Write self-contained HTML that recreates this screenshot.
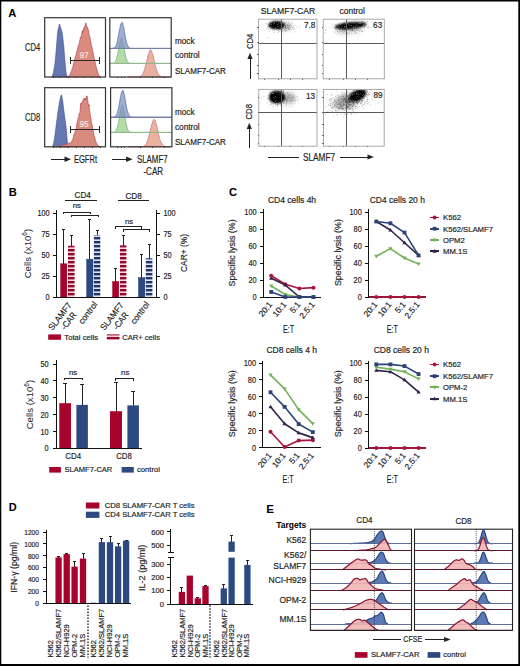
<!DOCTYPE html>
<html><head><meta charset="utf-8"><style>
html,body{margin:0;padding:0;background:#fff;}
svg{display:block;}
text{font-family:"Liberation Sans", sans-serif;}
</style></head><body>
<svg width="520" height="666" viewBox="0 0 520 666">
<defs>
<pattern id="stR" patternUnits="userSpaceOnUse" x="0" y="1" width="10" height="4"><rect width="10" height="4" fill="#fbd3da"/><rect y="0" width="10" height="2.4" fill="#8e0a2e"/></pattern>
<pattern id="stB" patternUnits="userSpaceOnUse" x="0" y="1" width="10" height="4"><rect width="10" height="4" fill="#dfe4f4"/><rect y="0" width="10" height="2.4" fill="#22336e"/></pattern>
<filter id="bl1" x="-50%" y="-50%" width="200%" height="200%"><feGaussianBlur stdDeviation="2.2"/></filter>
<filter id="bl2" x="-50%" y="-50%" width="200%" height="200%"><feGaussianBlur stdDeviation="1.2"/></filter>
<filter id="speck" x="0" y="0" width="100%" height="100%" filterUnits="objectBoundingBox"><feTurbulence type="fractalNoise" baseFrequency="1.1" numOctaves="1" seed="7" result="n"/><feColorMatrix in="n" type="matrix" values="0 0 0 0 1  0 0 0 0 1  0 0 0 0 1  0 0 0 3.2 -1.75"/></filter>
</defs>
<rect x="0" y="0" width="520" height="666" fill="#fff"/>
<text x="8.3" y="16.7" font-size="11.2" font-weight="bold" fill="#000">A</text>
<rect x="44.7" y="17.7" width="60.8" height="59.3" fill="#fff"/>
<path d="M51.5 77L51.66 76.77L51.87 76.52L52.12 76.19L52.41 75.7L52.7 75L53 74L53.31 72.71L53.64 71.19L53.99 69.44L54.34 67.48L54.68 65.33L55 63L55.3 60.35L55.58 57.33L55.86 54.12L56.12 50.89L56.37 47.79L56.6 45L56.81 42.46L57 40.04L57.17 37.75L57.34 35.63L57.51 33.7L57.7 32L57.91 30.55L58.14 29.33L58.38 28.31L58.6 27.44L58.82 26.69L59 26L59.15 25.38L59.28 24.85L59.39 24.44L59.49 24.15L59.59 24L59.7 24L59.81 24.19L59.9 24.56L59.99 25.06L60.1 25.67L60.23 26.33L60.4 27L60.61 27.62L60.87 28.22L61.14 28.88L61.43 29.67L61.72 30.68L62 32L62.27 33.65L62.54 35.56L62.81 37.69L63.07 40L63.34 42.45L63.6 45L63.86 47.8L64.12 50.93L64.38 54.19L64.63 57.41L64.87 60.41L65.1 63L65.3 65.2L65.49 67.15L65.66 68.88L65.83 70.41L66.01 71.77L66.2 73L66.42 74.06L66.67 74.93L66.92 75.62L67.16 76.19L67.36 76.63L67.5 77Z" fill="#6477b2" stroke="#3d4d86" stroke-width="0.6"/>
<path d="M66.5 77L66.8 76.9L67.22 76.81L67.72 76.67L68.26 76.45L68.8 76.07L69.3 75.5L69.77 74.76L70.22 73.92L70.68 72.92L71.16 71.75L71.66 70.35L72.2 69.12L72.79 67.54L73.43 64.02L74.09 62.86L74.76 59.1L75.44 56.86L76.1 55.06L76.77 51.44L77.47 49.91L78.17 46.31L78.84 44.65L79.46 42.31L80 39.58L80.45 37.1L80.84 37.58L81.18 36.39L81.48 34.62L81.75 33.14L82 33.31L82.22 33.08L82.39 31.14L82.53 32.91L82.67 30.53L82.82 31.47L83 31.35L83.22 30.93L83.47 30L83.73 28.32L83.99 29.36L84.25 27.87L84.5 27.17L84.75 27.09L85 25.8L85.25 26.06L85.49 25.25L85.71 24.29L85.9 22.87L86.05 23.58L86.16 24.27L86.25 24.24L86.34 25.29L86.45 26.37L86.6 25.79L86.78 26.45L86.98 27.87L87.2 27.4L87.44 27.94L87.71 27.7L88 28.95L88.32 31.21L88.68 30.96L89.06 34.64L89.46 35.69L89.87 36.78L90.3 40.24L90.74 41.59L91.2 45.02L91.68 46L92.17 48.32L92.68 51.33L93.2 53.1L93.75 56.98L94.33 58.72L94.93 61.61L95.52 64.19L96.09 66.81L96.6 67.88L97.07 70.35L97.51 71.75L97.92 72.92L98.3 73.92L98.66 74.76L99 75.5L99.32 76.07L99.62 76.45L99.9 76.67L100.14 76.81L100.35 76.9L100.5 77Z" fill="#d98b80" stroke="#b84552" stroke-width="0.7"/>
<line x1="70.7" y1="60.5" x2="99.2" y2="60.5" stroke="#2a2a2a" stroke-width="1" shape-rendering="crispEdges"/>
<line x1="70.5" y1="57" x2="70.5" y2="64" stroke="#2a2a2a" stroke-width="1" shape-rendering="crispEdges"/>
<line x1="99.5" y1="57" x2="99.5" y2="64" stroke="#2a2a2a" stroke-width="1" shape-rendering="crispEdges"/>
<text x="84.2" y="58.2" font-size="9" text-anchor="middle" fill="#f7eadc" stroke="#f7eadc" stroke-width="0.18" textLength="8.7" lengthAdjust="spacingAndGlyphs">97</text>
<rect x="44.7" y="17.7" width="60.8" height="59.3" fill="none" stroke="#333" stroke-width="1.2"/>
<line x1="53.5" y1="77" x2="53.5" y2="78.3" stroke="#333" stroke-width="1" shape-rendering="crispEdges"/>
<line x1="60.5" y1="77" x2="60.5" y2="78.3" stroke="#333" stroke-width="1" shape-rendering="crispEdges"/>
<line x1="68.5" y1="77" x2="68.5" y2="78.3" stroke="#333" stroke-width="1" shape-rendering="crispEdges"/>
<line x1="76.5" y1="77" x2="76.5" y2="78.3" stroke="#333" stroke-width="1" shape-rendering="crispEdges"/>
<line x1="84.5" y1="77" x2="84.5" y2="78.3" stroke="#333" stroke-width="1" shape-rendering="crispEdges"/>
<line x1="92.5" y1="77" x2="92.5" y2="78.3" stroke="#333" stroke-width="1" shape-rendering="crispEdges"/>
<line x1="100.5" y1="77" x2="100.5" y2="78.3" stroke="#333" stroke-width="1" shape-rendering="crispEdges"/>
<text x="40.2" y="51.35" font-size="10.4" text-anchor="end" fill="#1e1e1e" stroke="#1e1e1e" stroke-width="0.18" textLength="15.2" lengthAdjust="spacingAndGlyphs">CD4</text>
<rect x="44.7" y="87.7" width="60.8" height="59.1" fill="#fff"/>
<path d="M52.5 146.8L52.67 146.25L52.91 145.55L53.19 144.69L53.5 143.65L53.81 142.43L54.1 141L54.37 139.35L54.64 137.48L54.91 135.43L55.19 133.21L55.48 130.86L55.8 128.4L56.15 125.71L56.54 122.73L56.94 119.61L57.34 116.52L57.73 113.6L58.1 111L58.45 108.7L58.79 106.57L59.11 104.62L59.43 102.84L59.72 101.23L60 99.8L60.25 98.51L60.48 97.34L60.69 96.34L60.9 95.57L61.1 95.08L61.3 94.9L61.5 95.08L61.7 95.57L61.89 96.34L62.09 97.34L62.29 98.51L62.5 99.8L62.71 101.23L62.92 102.84L63.13 104.62L63.36 106.57L63.61 108.7L63.9 111L64.25 113.6L64.64 116.52L65.07 119.61L65.49 122.73L65.88 125.71L66.2 128.4L66.45 130.86L66.65 133.21L66.82 135.43L66.97 137.48L67.12 139.35L67.3 141L67.51 142.43L67.74 143.65L67.97 144.69L68.19 145.55L68.37 146.25L68.5 146.8Z" fill="#6477b2" stroke="#3d4d86" stroke-width="0.6"/>
<path d="M56 146.8L56.67 146.63L57.6 146.39L58.7 146.11L59.87 145.82L61 145.54L62 145.3L62.89 145.11L63.75 144.95L64.57 144.8L65.36 144.65L66.11 144.49L66.8 144.3L67.44 144.08L68.03 143.85L68.57 143.6L69.08 143.34L69.55 143.07L70 142.8L70.38 142.64L70.68 142.62L70.95 142.59L71.23 142.41L71.56 141.93L72 141L72.57 139.49L73.26 138.14L74 134.08L74.74 133.67L75.43 129.96L76 129.4L76.45 127.21L76.81 123.71L77.12 124L77.41 121.42L77.69 120.36L78 118.91L78.35 117.38L78.72 116.73L79.09 113.86L79.44 114.36L79.75 112.8L80 112.15L80.17 110.46L80.26 109.08L80.31 106.92L80.36 107.25L80.44 107.03L80.6 105.88L80.84 103.4L81.15 104.99L81.49 103.08L81.84 103.13L82.19 101.93L82.5 102.19L82.79 100.79L83.06 100.69L83.33 99.77L83.59 98.68L83.85 99.05L84.1 99.86L84.34 100.02L84.58 98.07L84.81 99.45L85.04 100.42L85.27 98.78L85.5 99.61L85.74 98.86L85.99 97.84L86.23 98.5L86.47 97.61L86.7 95.88L86.9 97.58L87.08 96.46L87.23 98.82L87.37 98.38L87.5 99.43L87.64 99.87L87.8 100.98L87.97 102.44L88.16 103.73L88.35 104.35L88.54 103.96L88.73 104.58L88.9 106.33L89.06 105.12L89.2 106.9L89.34 107.34L89.49 109.46L89.63 110.46L89.8 112.17L89.98 112.67L90.16 114.27L90.35 115.4L90.55 117.06L90.77 117.51L91 118.86L91.24 121.98L91.49 122.78L91.74 124.66L92.03 124.85L92.34 125.6L92.7 129.12L93.11 129.72L93.58 133.07L94.07 136.11L94.59 136.6L95.1 139.31L95.6 141L96.1 142.3L96.62 143.32L97.14 144.12L97.64 144.77L98.1 145.31L98.5 145.8L98.85 146.2L99.16 146.45L99.43 146.6L99.66 146.68L99.85 146.74L100 146.8Z" fill="#d98b80" stroke="#b84552" stroke-width="0.7"/>
<line x1="70.7" y1="129.5" x2="99.2" y2="129.5" stroke="#2a2a2a" stroke-width="1" shape-rendering="crispEdges"/>
<line x1="70.5" y1="125.9" x2="70.5" y2="132.9" stroke="#2a2a2a" stroke-width="1" shape-rendering="crispEdges"/>
<line x1="99.5" y1="125.9" x2="99.5" y2="132.9" stroke="#2a2a2a" stroke-width="1" shape-rendering="crispEdges"/>
<text x="84.2" y="127.4" font-size="9" text-anchor="middle" fill="#f7eadc" stroke="#f7eadc" stroke-width="0.18" textLength="8.7" lengthAdjust="spacingAndGlyphs">95</text>
<rect x="44.7" y="87.7" width="60.8" height="59.1" fill="none" stroke="#333" stroke-width="1.2"/>
<line x1="53.5" y1="146.8" x2="53.5" y2="148.1" stroke="#333" stroke-width="1" shape-rendering="crispEdges"/>
<line x1="60.5" y1="146.8" x2="60.5" y2="148.1" stroke="#333" stroke-width="1" shape-rendering="crispEdges"/>
<line x1="68.5" y1="146.8" x2="68.5" y2="148.1" stroke="#333" stroke-width="1" shape-rendering="crispEdges"/>
<line x1="76.5" y1="146.8" x2="76.5" y2="148.1" stroke="#333" stroke-width="1" shape-rendering="crispEdges"/>
<line x1="84.5" y1="146.8" x2="84.5" y2="148.1" stroke="#333" stroke-width="1" shape-rendering="crispEdges"/>
<line x1="92.5" y1="146.8" x2="92.5" y2="148.1" stroke="#333" stroke-width="1" shape-rendering="crispEdges"/>
<line x1="100.5" y1="146.8" x2="100.5" y2="148.1" stroke="#333" stroke-width="1" shape-rendering="crispEdges"/>
<text x="40.2" y="121.25" font-size="10.4" text-anchor="end" fill="#1e1e1e" stroke="#1e1e1e" stroke-width="0.18" textLength="15.2" lengthAdjust="spacingAndGlyphs">CD8</text>
<rect x="109.8" y="17.7" width="61.4" height="59.3" fill="#fff"/>
<path d="M128 77L128 77L128.5 77L129 77L129.5 77L130 77L130.5 77L131 77L131.5 77L132 77L132.5 77L133 77L133.5 77L134 77L134.5 77L135 77L135.5 76.99L136 76.99L136.5 76.98L137 76.96L137.5 76.94L138 76.91L138.5 76.86L139 76.78L139.5 76.67L140 76.51L140.5 76.28L141 75.86L141.5 75.69L142 74.91L142.5 74.41L143 73.55L143.5 72.03L144 71.13L144.5 69.68L145 67.74L145.5 65.67L146 63.98L146.5 61.55L147 59.95L147.5 57.51L148 55.48L148.5 54.06L149 52.61L149.5 51.51L150 50.07L150.5 49.79L151 50.11L151.5 50.64L152 52.52L152.5 53.45L153 55.16L153.5 57.02L154 59.9L154.5 61.94L155 64.7L155.5 66.21L156 68.62L156.5 70.05L157 70.9L157.5 72.91L158 73.35L158.5 74.31L159 75.09L159.5 75.53L160 75.94L160.5 76.2L161 76.51L161.5 76.67L162 76.78L162.5 76.86L163 76.91L163.5 76.94L164 76.96L164.5 76.98L165 76.99L165.5 76.99L166 77L166.5 77L167 77L167.5 77L168 77L168.5 77L169 77L169.5 77L170 77L170.5 77L170.5 77Z" fill="#e9a896" stroke="#c0707a" stroke-width="0.7" fill-opacity="0.9"/>
<path d="M110.3 63.4L110.3 63.39L110.8 63.39L111.3 63.38L111.8 63.36L112.3 63.31L112.8 63.24L113.3 63.12L113.8 62.93L114.3 62.61L114.8 62.1L115.3 61.51L115.8 60.45L116.3 59.07L116.8 57.49L117.3 55.19L117.8 53.39L118.3 50.5L118.8 47.96L119.3 45.27L119.8 42.58L120.3 40.4L120.8 38.94L121.3 38.31L121.8 37.88L122.3 39.51L122.8 42.23L123.3 43.89L123.8 46.83L124.3 49.57L124.8 51.78L125.3 54.68L125.8 57.2L126.3 58.55L126.8 60.07L127.3 61.25L127.8 61.99L128.3 62.5L128.8 62.82L129.3 63.06L129.8 63.2L130.3 63.29L130.8 63.34L131.3 63.37L131.8 63.39L132.3 63.39L132.8 63.4L133.3 63.4L133.8 63.4L134.3 63.4L134.8 63.4L135.3 63.4L135.8 63.4L136.3 63.4L136.8 63.4L137.3 63.4L137.8 63.4L138.3 63.4L138.8 63.4L139.3 63.4L139.8 63.4L140.3 63.4L140.8 63.4L141.3 63.4L141.8 63.4L142.3 63.4L142.8 63.4L143.3 63.4L143.8 63.4L144.3 63.4L144.8 63.4L145.3 63.4L145.8 63.4L146.3 63.4L146.8 63.4L147.3 63.4L147.8 63.4L148.3 63.4L148.8 63.4L149.3 63.4L149.8 63.4L150.3 63.4L150.8 63.4L151.3 63.4L151.8 63.4L152.3 63.4L152.8 63.4L153.3 63.4L153.8 63.4L154.3 63.4L154.8 63.4L155.3 63.4L155.8 63.4L156.3 63.4L156.8 63.4L157.3 63.4L157.8 63.4L158.3 63.4L158.8 63.4L159.3 63.4L159.8 63.4L160.3 63.4L160.8 63.4L161.3 63.4L161.8 63.4L162.3 63.4L162.8 63.4L163.3 63.4L163.8 63.4L164.3 63.4L164.8 63.4L165.3 63.4L165.8 63.4L166.3 63.4L166.8 63.4L167.3 63.4L167.8 63.4L168.3 63.4L168.8 63.4L169.3 63.4L169.8 63.4L170.3 63.4L170.8 63.4L170.7 63.4Z" fill="#a6d69a" stroke="#7aa872" stroke-width="0.7" fill-opacity="0.85"/>
<line x1="109.8" y1="63.5" x2="171.2" y2="63.5" stroke="#8fb98a" stroke-width="1" shape-rendering="crispEdges"/>
<path d="M110.3 48.4L110.3 48.39L110.8 48.39L111.3 48.38L111.8 48.36L112.3 48.32L112.8 48.25L113.3 48.14L113.8 47.96L114.3 47.76L114.8 47.36L115.3 46.57L115.8 46.08L116.3 44.65L116.8 43.54L117.3 41.02L117.8 38.98L118.3 36.12L118.8 33.91L119.3 30.81L119.8 28.36L120.3 26.16L120.8 23.95L121.3 23.32L121.8 22.54L122.3 22.53L122.8 23.98L123.3 26.03L123.8 27.47L124.3 30.93L124.8 33.93L125.3 36.45L125.8 39.16L126.3 41.34L126.8 43.19L127.3 44.31L127.8 45.78L128.3 46.62L128.8 47.2L129.3 47.54L129.8 47.96L130.3 48.14L130.8 48.25L131.3 48.32L131.8 48.36L132.3 48.38L132.8 48.39L133.3 48.39L133.8 48.4L134.3 48.4L134.8 48.4L135.3 48.4L135.8 48.4L136.3 48.4L136.8 48.4L137.3 48.4L137.8 48.4L138.3 48.4L138.8 48.4L139.3 48.4L139.8 48.4L140.3 48.4L140.8 48.4L141.3 48.4L141.8 48.4L142.3 48.4L142.8 48.4L143.3 48.4L143.8 48.4L144.3 48.4L144.8 48.4L145.3 48.4L145.8 48.4L146.3 48.4L146.8 48.4L147.3 48.4L147.8 48.4L148.3 48.4L148.8 48.4L149.3 48.4L149.8 48.4L150.3 48.4L150.8 48.4L151.3 48.4L151.8 48.4L152.3 48.4L152.8 48.4L153.3 48.4L153.8 48.4L154.3 48.4L154.8 48.4L155.3 48.4L155.8 48.4L156.3 48.4L156.8 48.4L157.3 48.4L157.8 48.4L158.3 48.4L158.8 48.4L159.3 48.4L159.8 48.4L160.3 48.4L160.8 48.4L161.3 48.4L161.8 48.4L162.3 48.4L162.8 48.4L163.3 48.4L163.8 48.4L164.3 48.4L164.8 48.4L165.3 48.4L165.8 48.4L166.3 48.4L166.8 48.4L167.3 48.4L167.8 48.4L168.3 48.4L168.8 48.4L169.3 48.4L169.8 48.4L170.3 48.4L170.8 48.4L170.7 48.4Z" fill="#7d8fc2" stroke="#56679a" stroke-width="0.7" fill-opacity="0.72"/>
<line x1="109.8" y1="48.5" x2="171.2" y2="48.5" stroke="#76819f" stroke-width="1" shape-rendering="crispEdges"/>
<rect x="109.8" y="17.7" width="61.4" height="59.3" fill="none" stroke="#333" stroke-width="1.2"/>
<line x1="117.5" y1="77" x2="117.5" y2="78.3" stroke="#333" stroke-width="1" shape-rendering="crispEdges"/>
<line x1="121.5" y1="77" x2="121.5" y2="78.3" stroke="#333" stroke-width="1" shape-rendering="crispEdges"/>
<line x1="124.5" y1="77" x2="124.5" y2="78.3" stroke="#333" stroke-width="1" shape-rendering="crispEdges"/>
<line x1="140.5" y1="77" x2="140.5" y2="78.3" stroke="#333" stroke-width="1" shape-rendering="crispEdges"/>
<line x1="152.5" y1="77" x2="152.5" y2="78.3" stroke="#333" stroke-width="1" shape-rendering="crispEdges"/>
<line x1="164.5" y1="77" x2="164.5" y2="78.3" stroke="#333" stroke-width="1" shape-rendering="crispEdges"/>
<text x="175" y="44" font-size="8.2" fill="#1e1e1e" stroke="#1e1e1e" stroke-width="0.18">mock</text>
<text x="175" y="58" font-size="8.2" fill="#1e1e1e" stroke="#1e1e1e" stroke-width="0.18">control</text>
<text x="175" y="74.4" font-size="8.2" fill="#1e1e1e" stroke="#1e1e1e" stroke-width="0.18" textLength="50.9" lengthAdjust="spacingAndGlyphs">SLAMF7-CAR</text>
<rect x="110.6" y="87.7" width="61.3" height="59.1" fill="#fff"/>
<path d="M128 146.8L128 146.8L128.5 146.8L129 146.8L129.5 146.8L130 146.8L130.5 146.8L131 146.8L131.5 146.8L132 146.8L132.5 146.8L133 146.8L133.5 146.8L134 146.8L134.5 146.8L135 146.8L135.5 146.8L136 146.8L136.5 146.8L137 146.8L137.5 146.8L138 146.8L138.5 146.8L139 146.79L139.5 146.79L140 146.78L140.5 146.76L141 146.74L141.5 146.71L142 146.66L142.5 146.58L143 146.47L143.5 146.31L144 146.08L144.5 145.66L145 145.48L145.5 144.7L146 144.19L146.5 143.32L147 141.8L147.5 140.88L148 139.43L148.5 137.47L149 135.39L149.5 133.69L150 131.24L150.5 129.63L151 127.17L151.5 125.12L152 123.69L152.5 122.23L153 121.12L153.5 119.67L154 119.39L154.5 119.72L155 120.25L155.5 122.14L156 123.08L156.5 124.8L157 126.67L157.5 129.57L158 131.63L158.5 134.4L159 135.93L159.5 138.35L160 139.8L160.5 140.66L161 142.68L161.5 143.13L162 144.09L162.5 144.88L163 145.32L163.5 145.73L164 146L164.5 146.31L165 146.47L165.5 146.58L166 146.66L166.5 146.71L167 146.74L167.5 146.76L168 146.78L168.5 146.79L169 146.79L169.5 146.8L170 146.8L170.5 146.8L170.5 146.8Z" fill="#e9a896" stroke="#c0707a" stroke-width="0.7" fill-opacity="0.9"/>
<path d="M111.1 132.4L111.1 132.39L111.6 132.39L112.1 132.38L112.6 132.35L113.1 132.31L113.6 132.23L114.1 132.11L114.6 131.9L115.1 131.53L115.6 131.11L116.1 130.3L116.6 129.2L117.1 127.9L117.6 125.9L118.1 124.27L118.6 121.53L119.1 118.95L119.6 116.05L120.1 112.96L120.6 110.17L121.1 107.94L121.6 106.44L122.1 105.1L122.6 105.94L123.1 108.06L123.6 109.24L124.1 112.02L124.6 114.79L125.1 117.17L125.6 120.51L126.1 123.57L126.6 125.34L127.1 127.37L127.6 129L128.1 130.09L128.6 130.87L129.1 131.39L129.6 131.81L130.1 132.03L130.6 132.19L131.1 132.28L131.6 132.34L132.1 132.37L132.6 132.38L133.1 132.39L133.6 132.4L134.1 132.4L134.6 132.4L135.1 132.4L135.6 132.4L136.1 132.4L136.6 132.4L137.1 132.4L137.6 132.4L138.1 132.4L138.6 132.4L139.1 132.4L139.6 132.4L140.1 132.4L140.6 132.4L141.1 132.4L141.6 132.4L142.1 132.4L142.6 132.4L143.1 132.4L143.6 132.4L144.1 132.4L144.6 132.4L145.1 132.4L145.6 132.4L146.1 132.4L146.6 132.4L147.1 132.4L147.6 132.4L148.1 132.4L148.6 132.4L149.1 132.4L149.6 132.4L150.1 132.4L150.6 132.4L151.1 132.4L151.6 132.4L152.1 132.4L152.6 132.4L153.1 132.4L153.6 132.4L154.1 132.4L154.6 132.4L155.1 132.4L155.6 132.4L156.1 132.4L156.6 132.4L157.1 132.4L157.6 132.4L158.1 132.4L158.6 132.4L159.1 132.4L159.6 132.4L160.1 132.4L160.6 132.4L161.1 132.4L161.6 132.4L162.1 132.4L162.6 132.4L163.1 132.4L163.6 132.4L164.1 132.4L164.6 132.4L165.1 132.4L165.6 132.4L166.1 132.4L166.6 132.4L167.1 132.4L167.6 132.4L168.1 132.4L168.6 132.4L169.1 132.4L169.6 132.4L170.1 132.4L170.6 132.4L171.1 132.4L171.6 132.4L171.4 132.4Z" fill="#a6d69a" stroke="#7aa872" stroke-width="0.7" fill-opacity="0.85"/>
<line x1="110.6" y1="132.5" x2="171.9" y2="132.5" stroke="#8fb98a" stroke-width="1" shape-rendering="crispEdges"/>
<path d="M111.1 117.2L111.1 117.19L111.6 117.19L112.1 117.18L112.6 117.15L113.1 117.11L113.6 117.05L114.1 116.93L114.6 116.75L115.1 116.54L115.6 116.12L116.1 115.31L116.6 114.79L117.1 113.32L117.6 112.16L118.1 109.57L118.6 107.45L119.1 104.5L119.6 102.2L120.1 99.01L120.6 96.46L121.1 94.18L121.6 91.9L122.1 91.24L122.6 90.45L123.1 90.44L123.6 91.94L124.1 94.05L124.6 95.56L125.1 99.12L125.6 102.23L126.1 104.84L126.6 107.63L127.1 109.89L127.6 111.8L128.1 112.97L128.6 114.49L129.1 115.36L129.6 115.96L130.1 116.32L130.6 116.75L131.1 116.93L131.6 117.05L132.1 117.11L132.6 117.15L133.1 117.18L133.6 117.19L134.1 117.19L134.6 117.2L135.1 117.2L135.6 117.2L136.1 117.2L136.6 117.2L137.1 117.2L137.6 117.2L138.1 117.2L138.6 117.2L139.1 117.2L139.6 117.2L140.1 117.2L140.6 117.2L141.1 117.2L141.6 117.2L142.1 117.2L142.6 117.2L143.1 117.2L143.6 117.2L144.1 117.2L144.6 117.2L145.1 117.2L145.6 117.2L146.1 117.2L146.6 117.2L147.1 117.2L147.6 117.2L148.1 117.2L148.6 117.2L149.1 117.2L149.6 117.2L150.1 117.2L150.6 117.2L151.1 117.2L151.6 117.2L152.1 117.2L152.6 117.2L153.1 117.2L153.6 117.2L154.1 117.2L154.6 117.2L155.1 117.2L155.6 117.2L156.1 117.2L156.6 117.2L157.1 117.2L157.6 117.2L158.1 117.2L158.6 117.2L159.1 117.2L159.6 117.2L160.1 117.2L160.6 117.2L161.1 117.2L161.6 117.2L162.1 117.2L162.6 117.2L163.1 117.2L163.6 117.2L164.1 117.2L164.6 117.2L165.1 117.2L165.6 117.2L166.1 117.2L166.6 117.2L167.1 117.2L167.6 117.2L168.1 117.2L168.6 117.2L169.1 117.2L169.6 117.2L170.1 117.2L170.6 117.2L171.1 117.2L171.6 117.2L171.4 117.2Z" fill="#7d8fc2" stroke="#56679a" stroke-width="0.7" fill-opacity="0.72"/>
<line x1="110.6" y1="117.5" x2="171.9" y2="117.5" stroke="#76819f" stroke-width="1" shape-rendering="crispEdges"/>
<rect x="110.6" y="87.7" width="61.3" height="59.1" fill="none" stroke="#333" stroke-width="1.2"/>
<line x1="117.5" y1="146.8" x2="117.5" y2="148.1" stroke="#333" stroke-width="1" shape-rendering="crispEdges"/>
<line x1="121.5" y1="146.8" x2="121.5" y2="148.1" stroke="#333" stroke-width="1" shape-rendering="crispEdges"/>
<line x1="124.5" y1="146.8" x2="124.5" y2="148.1" stroke="#333" stroke-width="1" shape-rendering="crispEdges"/>
<line x1="140.5" y1="146.8" x2="140.5" y2="148.1" stroke="#333" stroke-width="1" shape-rendering="crispEdges"/>
<line x1="152.5" y1="146.8" x2="152.5" y2="148.1" stroke="#333" stroke-width="1" shape-rendering="crispEdges"/>
<line x1="164.5" y1="146.8" x2="164.5" y2="148.1" stroke="#333" stroke-width="1" shape-rendering="crispEdges"/>
<text x="175" y="115.1" font-size="8.2" fill="#1e1e1e" stroke="#1e1e1e" stroke-width="0.18">mock</text>
<text x="175" y="129.6" font-size="8.2" fill="#1e1e1e" stroke="#1e1e1e" stroke-width="0.18">control</text>
<text x="175" y="145.4" font-size="8.2" fill="#1e1e1e" stroke="#1e1e1e" stroke-width="0.18" textLength="50.9" lengthAdjust="spacingAndGlyphs">SLAMF7-CAR</text>
<line x1="51.3" y1="159.5" x2="65" y2="159.5" stroke="#222" stroke-width="1" shape-rendering="crispEdges"/>
<path d="M71 159.3L64.5 156.5L64.5 162.1Z" fill="#222"/>
<text x="73.9" y="162.5" font-size="10" fill="#1e1e1e" stroke="#1e1e1e" stroke-width="0.18" textLength="23.1" lengthAdjust="spacingAndGlyphs">EGFRt</text>
<line x1="112.3" y1="159.5" x2="126.6" y2="159.5" stroke="#222" stroke-width="1" shape-rendering="crispEdges"/>
<path d="M132.6 159.3L126.1 156.5L126.1 162.1Z" fill="#222"/>
<text x="136.9" y="163" font-size="10" fill="#1e1e1e" stroke="#1e1e1e" stroke-width="0.18" textLength="30.8" lengthAdjust="spacingAndGlyphs">SLAMF7</text>
<text x="143.4" y="174.6" font-size="10" fill="#1e1e1e" stroke="#1e1e1e" stroke-width="0.18" textLength="19.7" lengthAdjust="spacingAndGlyphs">-CAR</text>
<clipPath id="cp11"><rect x="258.6" y="19.2" width="58.4" height="59.6"/></clipPath>
<clipPath id="cp12"><rect x="323.2" y="19.2" width="61.1" height="59.6"/></clipPath>
<clipPath id="cp13"><rect x="258.8" y="89.4" width="58.2" height="56.8"/></clipPath>
<clipPath id="cp14"><rect x="323.5" y="89.4" width="60.7" height="56.8"/></clipPath>
<text x="288" y="14.1" font-size="8.8" text-anchor="middle" fill="#1e1e1e" stroke="#1e1e1e" stroke-width="0.18" textLength="54.5" lengthAdjust="spacingAndGlyphs">SLAMF7-CAR</text>
<text x="352.2" y="14.2" font-size="8.8" text-anchor="middle" fill="#1e1e1e" stroke="#1e1e1e" stroke-width="0.18" textLength="25.4" lengthAdjust="spacingAndGlyphs">control</text>
<rect x="258.6" y="19.2" width="58.4" height="59.6" fill="#fff"/>
<g clip-path="url(#cp11)">
<ellipse cx="285" cy="26.5" rx="6.5" ry="3.8" fill="#000" fill-opacity="0.3" filter="url(#bl1)" transform="rotate(0 285 26.5)"/>
<ellipse cx="276.6" cy="25.2" rx="8" ry="4.1" fill="#000" fill-opacity="1" filter="url(#bl2)" transform="rotate(0 276.6 25.2)"/>
<ellipse cx="274.5" cy="25.2" rx="5" ry="3" fill="#000" fill-opacity="0.6" filter="url(#bl2)" transform="rotate(0 274.5 25.2)"/>
<rect x="270.04" y="27.21" width="0.8" height="0.8" fill="#000" fill-opacity="0.35"/>
<rect x="284.47" y="24.36" width="0.8" height="0.8" fill="#000" fill-opacity="0.35"/>
<rect x="269.36" y="25.79" width="0.8" height="0.8" fill="#000" fill-opacity="0.35"/>
<rect x="281.11" y="29.51" width="0.8" height="0.8" fill="#000" fill-opacity="0.35"/>
<rect x="270.1" y="21.86" width="0.8" height="0.8" fill="#000" fill-opacity="0.35"/>
<rect x="282.59" y="27.52" width="0.8" height="0.8" fill="#000" fill-opacity="0.35"/>
<rect x="287.97" y="29.14" width="0.8" height="0.8" fill="#000" fill-opacity="0.35"/>
<rect x="277.34" y="25.12" width="0.8" height="0.8" fill="#000" fill-opacity="0.35"/>
<rect x="294.71" y="25.08" width="0.8" height="0.8" fill="#000" fill-opacity="0.35"/>
<rect x="272.9" y="22.36" width="0.8" height="0.8" fill="#000" fill-opacity="0.35"/>
<rect x="278.62" y="26.47" width="0.8" height="0.8" fill="#000" fill-opacity="0.35"/>
<rect x="275.76" y="25.8" width="0.8" height="0.8" fill="#000" fill-opacity="0.35"/>
<rect x="279.78" y="28.22" width="0.8" height="0.8" fill="#000" fill-opacity="0.35"/>
<rect x="285.13" y="26.67" width="0.8" height="0.8" fill="#000" fill-opacity="0.35"/>
<rect x="266.37" y="28.25" width="0.8" height="0.8" fill="#000" fill-opacity="0.35"/>
<rect x="268.77" y="25.45" width="0.8" height="0.8" fill="#000" fill-opacity="0.35"/>
<rect x="268.42" y="26.01" width="0.8" height="0.8" fill="#000" fill-opacity="0.35"/>
<rect x="272.94" y="26.68" width="0.8" height="0.8" fill="#000" fill-opacity="0.35"/>
<rect x="299.45" y="25.84" width="0.8" height="0.8" fill="#000" fill-opacity="0.35"/>
<rect x="283.48" y="21.77" width="0.8" height="0.8" fill="#000" fill-opacity="0.35"/>
<rect x="276.13" y="28.12" width="0.8" height="0.8" fill="#000" fill-opacity="0.35"/>
<rect x="277.4" y="27.18" width="0.8" height="0.8" fill="#000" fill-opacity="0.35"/>
<rect x="278.67" y="22.78" width="0.8" height="0.8" fill="#000" fill-opacity="0.35"/>
<rect x="281.66" y="23.4" width="0.8" height="0.8" fill="#000" fill-opacity="0.35"/>
<rect x="290.17" y="24.38" width="0.8" height="0.8" fill="#000" fill-opacity="0.35"/>
<rect x="282.46" y="26.01" width="0.8" height="0.8" fill="#000" fill-opacity="0.35"/>
<rect x="284.19" y="24.07" width="0.8" height="0.8" fill="#000" fill-opacity="0.35"/>
<rect x="284.49" y="25.6" width="0.8" height="0.8" fill="#000" fill-opacity="0.35"/>
<rect x="286.21" y="28" width="0.8" height="0.8" fill="#000" fill-opacity="0.35"/>
<rect x="278.92" y="23.5" width="0.8" height="0.8" fill="#000" fill-opacity="0.35"/>
<rect x="282.99" y="27.5" width="0.8" height="0.8" fill="#000" fill-opacity="0.35"/>
<rect x="288.67" y="24.79" width="0.8" height="0.8" fill="#000" fill-opacity="0.35"/>
<rect x="281.61" y="27.63" width="0.8" height="0.8" fill="#000" fill-opacity="0.35"/>
<rect x="279.84" y="26.67" width="0.8" height="0.8" fill="#000" fill-opacity="0.35"/>
<rect x="279.18" y="24.09" width="0.8" height="0.8" fill="#000" fill-opacity="0.35"/>
<rect x="271.41" y="24.73" width="0.8" height="0.8" fill="#000" fill-opacity="0.35"/>
<rect x="281.84" y="30.84" width="0.8" height="0.8" fill="#000" fill-opacity="0.35"/>
<rect x="284.35" y="29.37" width="0.8" height="0.8" fill="#000" fill-opacity="0.35"/>
<rect x="283.05" y="28.24" width="0.8" height="0.8" fill="#000" fill-opacity="0.35"/>
<rect x="279.19" y="28.47" width="0.8" height="0.8" fill="#000" fill-opacity="0.35"/>
<rect x="289.53" y="24.95" width="0.8" height="0.8" fill="#000" fill-opacity="0.35"/>
<rect x="273.49" y="32.27" width="0.8" height="0.8" fill="#000" fill-opacity="0.35"/>
<rect x="279.59" y="29.11" width="0.8" height="0.8" fill="#000" fill-opacity="0.35"/>
<rect x="283.68" y="22.37" width="0.8" height="0.8" fill="#000" fill-opacity="0.35"/>
<rect x="293.82" y="31.68" width="0.8" height="0.8" fill="#000" fill-opacity="0.35"/>
<rect x="279.15" y="28.41" width="0.8" height="0.8" fill="#000" fill-opacity="0.35"/>
<rect x="278.82" y="23.17" width="0.8" height="0.8" fill="#000" fill-opacity="0.35"/>
<rect x="277.27" y="27.2" width="0.8" height="0.8" fill="#000" fill-opacity="0.35"/>
<rect x="285.25" y="28.27" width="0.8" height="0.8" fill="#000" fill-opacity="0.35"/>
<rect x="278.39" y="30.34" width="0.8" height="0.8" fill="#000" fill-opacity="0.35"/>
<rect x="273.06" y="28.54" width="0.8" height="0.8" fill="#000" fill-opacity="0.35"/>
<rect x="285.23" y="25.07" width="0.8" height="0.8" fill="#000" fill-opacity="0.35"/>
<rect x="266.36" y="23.1" width="0.8" height="0.8" fill="#000" fill-opacity="0.35"/>
<rect x="279.54" y="27.69" width="0.8" height="0.8" fill="#000" fill-opacity="0.35"/>
<rect x="288.06" y="22.79" width="0.8" height="0.8" fill="#000" fill-opacity="0.35"/>
<rect x="278.01" y="28.08" width="0.8" height="0.8" fill="#000" fill-opacity="0.35"/>
<rect x="283.24" y="33.4" width="0.8" height="0.8" fill="#000" fill-opacity="0.35"/>
<rect x="284.53" y="23.06" width="0.8" height="0.8" fill="#000" fill-opacity="0.35"/>
<rect x="275.32" y="26.71" width="0.8" height="0.8" fill="#000" fill-opacity="0.35"/>
<rect x="294.18" y="27.98" width="0.8" height="0.8" fill="#000" fill-opacity="0.35"/>
<rect x="278.74" y="30.98" width="0.8" height="0.8" fill="#000" fill-opacity="0.35"/>
<rect x="277.47" y="31.96" width="0.8" height="0.8" fill="#000" fill-opacity="0.35"/>
<rect x="273.55" y="24.48" width="0.8" height="0.8" fill="#000" fill-opacity="0.35"/>
<rect x="282.69" y="30.56" width="0.8" height="0.8" fill="#000" fill-opacity="0.35"/>
<rect x="282.25" y="26.97" width="0.8" height="0.8" fill="#000" fill-opacity="0.35"/>
<rect x="266.16" y="23.72" width="0.8" height="0.8" fill="#000" fill-opacity="0.35"/>
<rect x="274.03" y="24.29" width="0.8" height="0.8" fill="#000" fill-opacity="0.35"/>
<rect x="281.81" y="24.93" width="0.8" height="0.8" fill="#000" fill-opacity="0.35"/>
<rect x="283.12" y="26.26" width="0.8" height="0.8" fill="#000" fill-opacity="0.35"/>
<rect x="275.84" y="26.38" width="0.8" height="0.8" fill="#000" fill-opacity="0.35"/>
<rect x="280.79" y="28.75" width="0.8" height="0.8" fill="#000" fill-opacity="0.35"/>
<rect x="274.9" y="25.26" width="0.8" height="0.8" fill="#000" fill-opacity="0.35"/>
<rect x="269.14" y="31.13" width="0.8" height="0.8" fill="#000" fill-opacity="0.35"/>
<rect x="287.44" y="25.43" width="0.8" height="0.8" fill="#000" fill-opacity="0.35"/>
<rect x="274.89" y="22.05" width="0.8" height="0.8" fill="#000" fill-opacity="0.35"/>
<rect x="279.1" y="26.66" width="0.8" height="0.8" fill="#000" fill-opacity="0.35"/>
<rect x="292.18" y="26.79" width="0.8" height="0.8" fill="#000" fill-opacity="0.35"/>
<rect x="287.16" y="26.61" width="0.8" height="0.8" fill="#000" fill-opacity="0.35"/>
<rect x="267.54" y="26.58" width="0.8" height="0.8" fill="#000" fill-opacity="0.35"/>
<rect x="267.54" y="37.14" width="0.8" height="0.8" fill="#000" fill-opacity="0.35"/>
<rect x="285.27" y="27.83" width="0.8" height="0.8" fill="#000" fill-opacity="0.35"/>
<rect x="277.18" y="21.03" width="0.8" height="0.8" fill="#000" fill-opacity="0.35"/>
<rect x="272.1" y="29.9" width="0.8" height="0.8" fill="#000" fill-opacity="0.35"/>
<rect x="288.69" y="22.22" width="0.8" height="0.8" fill="#000" fill-opacity="0.35"/>
<rect x="268.03" y="28.81" width="0.8" height="0.8" fill="#000" fill-opacity="0.35"/>
<rect x="283.55" y="22.84" width="0.8" height="0.8" fill="#000" fill-opacity="0.35"/>
<rect x="285.22" y="25.47" width="0.8" height="0.8" fill="#000" fill-opacity="0.25"/>
<rect x="283.24" y="25.5" width="0.8" height="0.8" fill="#000" fill-opacity="0.25"/>
<rect x="293" y="28.52" width="0.8" height="0.8" fill="#000" fill-opacity="0.25"/>
<rect x="296.23" y="26.81" width="0.8" height="0.8" fill="#000" fill-opacity="0.25"/>
<rect x="287.46" y="24.84" width="0.8" height="0.8" fill="#000" fill-opacity="0.25"/>
<rect x="287.5" y="24.11" width="0.8" height="0.8" fill="#000" fill-opacity="0.25"/>
<rect x="280.89" y="28.53" width="0.8" height="0.8" fill="#000" fill-opacity="0.25"/>
<rect x="293.76" y="28.84" width="0.8" height="0.8" fill="#000" fill-opacity="0.25"/>
<rect x="293.33" y="27.56" width="0.8" height="0.8" fill="#000" fill-opacity="0.25"/>
<rect x="285.13" y="27.19" width="0.8" height="0.8" fill="#000" fill-opacity="0.25"/>
<rect x="286.5" y="24.55" width="0.8" height="0.8" fill="#000" fill-opacity="0.25"/>
<rect x="281.23" y="23.74" width="0.8" height="0.8" fill="#000" fill-opacity="0.25"/>
<rect x="287.98" y="27.33" width="0.8" height="0.8" fill="#000" fill-opacity="0.25"/>
<rect x="286.1" y="30.14" width="0.8" height="0.8" fill="#000" fill-opacity="0.25"/>
<rect x="288.72" y="28.28" width="0.8" height="0.8" fill="#000" fill-opacity="0.25"/>
<rect x="292.87" y="25.2" width="0.8" height="0.8" fill="#000" fill-opacity="0.25"/>
<rect x="280.12" y="28.66" width="0.8" height="0.8" fill="#000" fill-opacity="0.25"/>
<rect x="285.25" y="29.88" width="0.8" height="0.8" fill="#000" fill-opacity="0.25"/>
<rect x="289.35" y="29.21" width="0.8" height="0.8" fill="#000" fill-opacity="0.25"/>
<rect x="291.05" y="22.42" width="0.8" height="0.8" fill="#000" fill-opacity="0.25"/>
<rect x="290.88" y="25.52" width="0.8" height="0.8" fill="#000" fill-opacity="0.25"/>
<rect x="284.98" y="26.04" width="0.8" height="0.8" fill="#000" fill-opacity="0.25"/>
<rect x="291.07" y="28.95" width="0.8" height="0.8" fill="#000" fill-opacity="0.25"/>
<rect x="292.05" y="23.35" width="0.8" height="0.8" fill="#000" fill-opacity="0.25"/>
<rect x="285.64" y="21.77" width="0.8" height="0.8" fill="#000" fill-opacity="0.25"/>
<rect x="287.59" y="28.32" width="0.8" height="0.8" fill="#000" fill-opacity="0.25"/>
<rect x="284.94" y="27.54" width="0.8" height="0.8" fill="#000" fill-opacity="0.25"/>
<rect x="288.93" y="29.22" width="0.8" height="0.8" fill="#000" fill-opacity="0.25"/>
<rect x="284.71" y="25.18" width="0.8" height="0.8" fill="#000" fill-opacity="0.25"/>
<rect x="284.95" y="30.86" width="0.8" height="0.8" fill="#000" fill-opacity="0.25"/>
<rect x="292.36" y="26.73" width="0.8" height="0.8" fill="#000" fill-opacity="0.25"/>
<rect x="288.9" y="27.25" width="0.8" height="0.8" fill="#000" fill-opacity="0.25"/>
<rect x="288.81" y="26.54" width="0.8" height="0.8" fill="#000" fill-opacity="0.25"/>
<rect x="286.66" y="24.24" width="0.8" height="0.8" fill="#000" fill-opacity="0.25"/>
<rect x="285.43" y="30.63" width="0.8" height="0.8" fill="#000" fill-opacity="0.25"/>
<rect x="290.15" y="27.14" width="0.8" height="0.8" fill="#000" fill-opacity="0.25"/>
<rect x="287.14" y="27.14" width="0.8" height="0.8" fill="#000" fill-opacity="0.25"/>
<rect x="289.41" y="25.58" width="0.8" height="0.8" fill="#000" fill-opacity="0.25"/>
<rect x="288.79" y="27.53" width="0.8" height="0.8" fill="#000" fill-opacity="0.25"/>
<rect x="285.01" y="25.26" width="0.8" height="0.8" fill="#000" fill-opacity="0.25"/>
<rect x="258.6" y="19.2" width="58.4" height="59.6" fill="#fff" filter="url(#speck)" opacity="0.55"/>
</g>
<line x1="281.5" y1="19.2" x2="281.5" y2="78.8" stroke="#5a5a5a" stroke-width="1" shape-rendering="crispEdges"/>
<line x1="258.6" y1="43.5" x2="317" y2="43.5" stroke="#5a5a5a" stroke-width="1" shape-rendering="crispEdges"/>
<rect x="258.6" y="19.2" width="58.4" height="59.6" fill="none" stroke="#a0a0a0" stroke-width="0.9"/>
<line x1="257.4" y1="27.5" x2="258.6" y2="27.5" stroke="#666" stroke-width="1" shape-rendering="crispEdges"/>
<line x1="257.4" y1="42.5" x2="258.6" y2="42.5" stroke="#666" stroke-width="1" shape-rendering="crispEdges"/>
<line x1="257.4" y1="54.5" x2="258.6" y2="54.5" stroke="#666" stroke-width="1" shape-rendering="crispEdges"/>
<line x1="257.4" y1="65.5" x2="258.6" y2="65.5" stroke="#666" stroke-width="1" shape-rendering="crispEdges"/>
<line x1="257.4" y1="73.5" x2="258.6" y2="73.5" stroke="#666" stroke-width="1" shape-rendering="crispEdges"/>
<line x1="264.5" y1="78.8" x2="264.5" y2="80" stroke="#666" stroke-width="1" shape-rendering="crispEdges"/>
<line x1="278.5" y1="78.8" x2="278.5" y2="80" stroke="#666" stroke-width="1" shape-rendering="crispEdges"/>
<line x1="290.5" y1="78.8" x2="290.5" y2="80" stroke="#666" stroke-width="1" shape-rendering="crispEdges"/>
<line x1="302.5" y1="78.8" x2="302.5" y2="80" stroke="#666" stroke-width="1" shape-rendering="crispEdges"/>
<text x="315.3" y="28" font-size="8.2" text-anchor="end" fill="#1e1e1e" stroke="#1e1e1e" stroke-width="0.18">7.8</text>
<rect x="323.2" y="19.2" width="61.1" height="59.6" fill="#fff"/>
<g clip-path="url(#cp12)">
<ellipse cx="348" cy="29.5" rx="13" ry="4" fill="#000" fill-opacity="0.16" filter="url(#bl1)" transform="rotate(-3 348 29.5)"/>
<ellipse cx="350.8" cy="25.5" rx="16" ry="3.2" fill="#000" fill-opacity="1" filter="url(#bl2)" transform="rotate(-5 350.8 25.5)"/>
<ellipse cx="345" cy="26.5" rx="8" ry="2.5" fill="#000" fill-opacity="0.5" filter="url(#bl2)" transform="rotate(-4 345 26.5)"/>
<rect x="335.66" y="28.46" width="0.8" height="0.8" fill="#000" fill-opacity="0.35"/>
<rect x="347.1" y="25.31" width="0.8" height="0.8" fill="#000" fill-opacity="0.35"/>
<rect x="359.65" y="25.85" width="0.8" height="0.8" fill="#000" fill-opacity="0.35"/>
<rect x="347.74" y="32.13" width="0.8" height="0.8" fill="#000" fill-opacity="0.35"/>
<rect x="344.74" y="23.16" width="0.8" height="0.8" fill="#000" fill-opacity="0.35"/>
<rect x="336.17" y="26.13" width="0.8" height="0.8" fill="#000" fill-opacity="0.35"/>
<rect x="356.78" y="28.47" width="0.8" height="0.8" fill="#000" fill-opacity="0.35"/>
<rect x="361.83" y="31.04" width="0.8" height="0.8" fill="#000" fill-opacity="0.35"/>
<rect x="367.34" y="26.99" width="0.8" height="0.8" fill="#000" fill-opacity="0.35"/>
<rect x="363.72" y="27.37" width="0.8" height="0.8" fill="#000" fill-opacity="0.35"/>
<rect x="344.95" y="29.56" width="0.8" height="0.8" fill="#000" fill-opacity="0.35"/>
<rect x="351.02" y="25.92" width="0.8" height="0.8" fill="#000" fill-opacity="0.35"/>
<rect x="370.74" y="27.18" width="0.8" height="0.8" fill="#000" fill-opacity="0.35"/>
<rect x="345.65" y="26.81" width="0.8" height="0.8" fill="#000" fill-opacity="0.35"/>
<rect x="373.99" y="23.81" width="0.8" height="0.8" fill="#000" fill-opacity="0.35"/>
<rect x="358.12" y="27.84" width="0.8" height="0.8" fill="#000" fill-opacity="0.35"/>
<rect x="355.87" y="27.94" width="0.8" height="0.8" fill="#000" fill-opacity="0.35"/>
<rect x="345.59" y="25.64" width="0.8" height="0.8" fill="#000" fill-opacity="0.35"/>
<rect x="348.86" y="25.68" width="0.8" height="0.8" fill="#000" fill-opacity="0.35"/>
<rect x="359.13" y="30.58" width="0.8" height="0.8" fill="#000" fill-opacity="0.35"/>
<rect x="341.74" y="29.06" width="0.8" height="0.8" fill="#000" fill-opacity="0.35"/>
<rect x="340.49" y="25.39" width="0.8" height="0.8" fill="#000" fill-opacity="0.35"/>
<rect x="348.19" y="27.16" width="0.8" height="0.8" fill="#000" fill-opacity="0.35"/>
<rect x="364.48" y="24.57" width="0.8" height="0.8" fill="#000" fill-opacity="0.35"/>
<rect x="344.33" y="29.24" width="0.8" height="0.8" fill="#000" fill-opacity="0.35"/>
<rect x="344.16" y="22.82" width="0.8" height="0.8" fill="#000" fill-opacity="0.35"/>
<rect x="355.63" y="27.45" width="0.8" height="0.8" fill="#000" fill-opacity="0.35"/>
<rect x="342.45" y="29.89" width="0.8" height="0.8" fill="#000" fill-opacity="0.35"/>
<rect x="354.04" y="22.85" width="0.8" height="0.8" fill="#000" fill-opacity="0.35"/>
<rect x="368.32" y="25.88" width="0.8" height="0.8" fill="#000" fill-opacity="0.35"/>
<rect x="339.22" y="28.99" width="0.8" height="0.8" fill="#000" fill-opacity="0.35"/>
<rect x="352.1" y="29.45" width="0.8" height="0.8" fill="#000" fill-opacity="0.35"/>
<rect x="337.21" y="30.96" width="0.8" height="0.8" fill="#000" fill-opacity="0.35"/>
<rect x="360.26" y="27.89" width="0.8" height="0.8" fill="#000" fill-opacity="0.35"/>
<rect x="357.08" y="30.06" width="0.8" height="0.8" fill="#000" fill-opacity="0.35"/>
<rect x="357.85" y="26.37" width="0.8" height="0.8" fill="#000" fill-opacity="0.35"/>
<rect x="342.4" y="30.72" width="0.8" height="0.8" fill="#000" fill-opacity="0.35"/>
<rect x="360.55" y="26.65" width="0.8" height="0.8" fill="#000" fill-opacity="0.35"/>
<rect x="352.28" y="28.67" width="0.8" height="0.8" fill="#000" fill-opacity="0.35"/>
<rect x="325.22" y="29.8" width="0.8" height="0.8" fill="#000" fill-opacity="0.35"/>
<rect x="325.37" y="29.55" width="0.8" height="0.8" fill="#000" fill-opacity="0.35"/>
<rect x="361.72" y="31.42" width="0.8" height="0.8" fill="#000" fill-opacity="0.35"/>
<rect x="345.89" y="28.33" width="0.8" height="0.8" fill="#000" fill-opacity="0.35"/>
<rect x="357.88" y="25.91" width="0.8" height="0.8" fill="#000" fill-opacity="0.35"/>
<rect x="350.94" y="23.69" width="0.8" height="0.8" fill="#000" fill-opacity="0.35"/>
<rect x="350.1" y="26.89" width="0.8" height="0.8" fill="#000" fill-opacity="0.35"/>
<rect x="363.5" y="26.36" width="0.8" height="0.8" fill="#000" fill-opacity="0.35"/>
<rect x="347.81" y="26.68" width="0.8" height="0.8" fill="#000" fill-opacity="0.35"/>
<rect x="342.71" y="31.9" width="0.8" height="0.8" fill="#000" fill-opacity="0.35"/>
<rect x="356.68" y="22.17" width="0.8" height="0.8" fill="#000" fill-opacity="0.35"/>
<rect x="351.88" y="29.99" width="0.8" height="0.8" fill="#000" fill-opacity="0.35"/>
<rect x="336.2" y="28.31" width="0.8" height="0.8" fill="#000" fill-opacity="0.35"/>
<rect x="348.71" y="33.88" width="0.8" height="0.8" fill="#000" fill-opacity="0.35"/>
<rect x="354.57" y="25" width="0.8" height="0.8" fill="#000" fill-opacity="0.35"/>
<rect x="345.32" y="32.82" width="0.8" height="0.8" fill="#000" fill-opacity="0.35"/>
<rect x="346.39" y="33.93" width="0.8" height="0.8" fill="#000" fill-opacity="0.35"/>
<rect x="334.66" y="27.4" width="0.8" height="0.8" fill="#000" fill-opacity="0.35"/>
<rect x="347.88" y="24.68" width="0.8" height="0.8" fill="#000" fill-opacity="0.35"/>
<rect x="348.53" y="28.88" width="0.8" height="0.8" fill="#000" fill-opacity="0.35"/>
<rect x="343.39" y="22.84" width="0.8" height="0.8" fill="#000" fill-opacity="0.35"/>
<rect x="364.46" y="29.86" width="0.8" height="0.8" fill="#000" fill-opacity="0.35"/>
<rect x="343.6" y="28.13" width="0.8" height="0.8" fill="#000" fill-opacity="0.35"/>
<rect x="324.78" y="32.03" width="0.8" height="0.8" fill="#000" fill-opacity="0.35"/>
<rect x="336.89" y="26.1" width="0.8" height="0.8" fill="#000" fill-opacity="0.35"/>
<rect x="372" y="20.86" width="0.8" height="0.8" fill="#000" fill-opacity="0.35"/>
<rect x="350.41" y="23.34" width="0.8" height="0.8" fill="#000" fill-opacity="0.35"/>
<rect x="331.5" y="24.7" width="0.8" height="0.8" fill="#000" fill-opacity="0.35"/>
<rect x="352.87" y="22.4" width="0.8" height="0.8" fill="#000" fill-opacity="0.35"/>
<rect x="344.71" y="29.32" width="0.8" height="0.8" fill="#000" fill-opacity="0.35"/>
<rect x="348.52" y="22.77" width="0.8" height="0.8" fill="#000" fill-opacity="0.35"/>
<rect x="365.63" y="25.64" width="0.8" height="0.8" fill="#000" fill-opacity="0.35"/>
<rect x="364.39" y="22.18" width="0.8" height="0.8" fill="#000" fill-opacity="0.35"/>
<rect x="367.16" y="21.03" width="0.8" height="0.8" fill="#000" fill-opacity="0.35"/>
<rect x="332.74" y="26.85" width="0.8" height="0.8" fill="#000" fill-opacity="0.35"/>
<rect x="346.79" y="27.72" width="0.8" height="0.8" fill="#000" fill-opacity="0.35"/>
<rect x="344.98" y="29.02" width="0.8" height="0.8" fill="#000" fill-opacity="0.35"/>
<rect x="363.78" y="23.44" width="0.8" height="0.8" fill="#000" fill-opacity="0.35"/>
<rect x="336.48" y="26.6" width="0.8" height="0.8" fill="#000" fill-opacity="0.35"/>
<rect x="358.95" y="28.34" width="0.8" height="0.8" fill="#000" fill-opacity="0.35"/>
<rect x="346.71" y="23.92" width="0.8" height="0.8" fill="#000" fill-opacity="0.35"/>
<rect x="350.54" y="29.53" width="0.8" height="0.8" fill="#000" fill-opacity="0.35"/>
<rect x="343.6" y="31.16" width="0.8" height="0.8" fill="#000" fill-opacity="0.35"/>
<rect x="352.82" y="27.27" width="0.8" height="0.8" fill="#000" fill-opacity="0.35"/>
<rect x="344.49" y="31.27" width="0.8" height="0.8" fill="#000" fill-opacity="0.35"/>
<rect x="350.5" y="22.04" width="0.8" height="0.8" fill="#000" fill-opacity="0.35"/>
<rect x="358.62" y="24.6" width="0.8" height="0.8" fill="#000" fill-opacity="0.35"/>
<rect x="361.38" y="26.15" width="0.8" height="0.8" fill="#000" fill-opacity="0.35"/>
<rect x="344.18" y="27.67" width="0.8" height="0.8" fill="#000" fill-opacity="0.35"/>
<rect x="345.28" y="24.52" width="0.8" height="0.8" fill="#000" fill-opacity="0.35"/>
<rect x="350.88" y="29.1" width="0.8" height="0.8" fill="#000" fill-opacity="0.35"/>
<rect x="351.15" y="26.27" width="0.8" height="0.8" fill="#000" fill-opacity="0.35"/>
<rect x="345.01" y="28.81" width="0.8" height="0.8" fill="#000" fill-opacity="0.35"/>
<rect x="353.46" y="29.25" width="0.8" height="0.8" fill="#000" fill-opacity="0.35"/>
<rect x="354.71" y="32.72" width="0.8" height="0.8" fill="#000" fill-opacity="0.35"/>
<rect x="334.58" y="27.82" width="0.8" height="0.8" fill="#000" fill-opacity="0.35"/>
<rect x="356.08" y="28.84" width="0.8" height="0.8" fill="#000" fill-opacity="0.35"/>
<rect x="334.66" y="24.25" width="0.8" height="0.8" fill="#000" fill-opacity="0.35"/>
<rect x="350.3" y="29.82" width="0.8" height="0.8" fill="#000" fill-opacity="0.35"/>
<rect x="361.12" y="21.03" width="0.8" height="0.8" fill="#000" fill-opacity="0.35"/>
<rect x="352.07" y="30.02" width="0.8" height="0.8" fill="#000" fill-opacity="0.35"/>
<rect x="350.45" y="23.45" width="0.8" height="0.8" fill="#000" fill-opacity="0.35"/>
<rect x="342.85" y="23.19" width="0.8" height="0.8" fill="#000" fill-opacity="0.35"/>
<rect x="362.41" y="24.75" width="0.8" height="0.8" fill="#000" fill-opacity="0.35"/>
<rect x="345.88" y="24.32" width="0.8" height="0.8" fill="#000" fill-opacity="0.35"/>
<rect x="348.79" y="23.97" width="0.8" height="0.8" fill="#000" fill-opacity="0.35"/>
<rect x="340.57" y="27.33" width="0.8" height="0.8" fill="#000" fill-opacity="0.35"/>
<rect x="348.24" y="28.18" width="0.8" height="0.8" fill="#000" fill-opacity="0.35"/>
<rect x="352.23" y="30.04" width="0.8" height="0.8" fill="#000" fill-opacity="0.35"/>
<rect x="350.04" y="27.42" width="0.8" height="0.8" fill="#000" fill-opacity="0.35"/>
<rect x="352.5" y="23.95" width="0.8" height="0.8" fill="#000" fill-opacity="0.35"/>
<rect x="362.26" y="23.84" width="0.8" height="0.8" fill="#000" fill-opacity="0.35"/>
<rect x="334.82" y="31.76" width="0.8" height="0.8" fill="#000" fill-opacity="0.35"/>
<rect x="356.86" y="24.31" width="0.8" height="0.8" fill="#000" fill-opacity="0.35"/>
<rect x="360.29" y="28.66" width="0.8" height="0.8" fill="#000" fill-opacity="0.35"/>
<rect x="357.2" y="22.43" width="0.8" height="0.8" fill="#000" fill-opacity="0.35"/>
<rect x="351.94" y="23.3" width="0.8" height="0.8" fill="#000" fill-opacity="0.35"/>
<rect x="344.11" y="25.43" width="0.8" height="0.8" fill="#000" fill-opacity="0.35"/>
<rect x="342.02" y="28.82" width="0.8" height="0.8" fill="#000" fill-opacity="0.35"/>
<rect x="342.64" y="29.16" width="0.8" height="0.8" fill="#000" fill-opacity="0.35"/>
<rect x="351.99" y="24.61" width="0.8" height="0.8" fill="#000" fill-opacity="0.35"/>
<rect x="352.32" y="28.51" width="0.8" height="0.8" fill="#000" fill-opacity="0.35"/>
<rect x="361.86" y="24.8" width="0.8" height="0.8" fill="#000" fill-opacity="0.35"/>
<rect x="368.05" y="26.79" width="0.8" height="0.8" fill="#000" fill-opacity="0.35"/>
<rect x="362.6" y="21.41" width="0.8" height="0.8" fill="#000" fill-opacity="0.35"/>
<rect x="340.08" y="31.17" width="0.8" height="0.8" fill="#000" fill-opacity="0.35"/>
<rect x="348.28" y="28.19" width="0.8" height="0.8" fill="#000" fill-opacity="0.35"/>
<rect x="362.12" y="21.17" width="0.8" height="0.8" fill="#000" fill-opacity="0.35"/>
<rect x="355.47" y="32.04" width="0.8" height="0.8" fill="#000" fill-opacity="0.35"/>
<rect x="358.49" y="26.16" width="0.8" height="0.8" fill="#000" fill-opacity="0.35"/>
<rect x="356.09" y="26.12" width="0.8" height="0.8" fill="#000" fill-opacity="0.35"/>
<rect x="358.55" y="29.84" width="0.8" height="0.8" fill="#000" fill-opacity="0.35"/>
<rect x="348.3" y="28.52" width="0.8" height="0.8" fill="#000" fill-opacity="0.35"/>
<rect x="353.67" y="28.56" width="0.8" height="0.8" fill="#000" fill-opacity="0.35"/>
<rect x="358.55" y="22.62" width="0.8" height="0.8" fill="#000" fill-opacity="0.35"/>
<rect x="362.36" y="28.16" width="0.8" height="0.8" fill="#000" fill-opacity="0.35"/>
<rect x="339.35" y="26.69" width="0.8" height="0.8" fill="#000" fill-opacity="0.35"/>
<rect x="335.69" y="27" width="0.8" height="0.8" fill="#000" fill-opacity="0.35"/>
<rect x="350.34" y="28.18" width="0.8" height="0.8" fill="#000" fill-opacity="0.18"/>
<rect x="340.35" y="28.89" width="0.8" height="0.8" fill="#000" fill-opacity="0.18"/>
<rect x="341.06" y="29.15" width="0.8" height="0.8" fill="#000" fill-opacity="0.18"/>
<rect x="337.66" y="32.54" width="0.8" height="0.8" fill="#000" fill-opacity="0.18"/>
<rect x="345.41" y="29.03" width="0.8" height="0.8" fill="#000" fill-opacity="0.18"/>
<rect x="356.32" y="29.68" width="0.8" height="0.8" fill="#000" fill-opacity="0.18"/>
<rect x="355.48" y="27.98" width="0.8" height="0.8" fill="#000" fill-opacity="0.18"/>
<rect x="360.12" y="29.97" width="0.8" height="0.8" fill="#000" fill-opacity="0.18"/>
<rect x="338.77" y="32.13" width="0.8" height="0.8" fill="#000" fill-opacity="0.18"/>
<rect x="335.25" y="28.38" width="0.8" height="0.8" fill="#000" fill-opacity="0.18"/>
<rect x="349.51" y="29.88" width="0.8" height="0.8" fill="#000" fill-opacity="0.18"/>
<rect x="350.98" y="31.46" width="0.8" height="0.8" fill="#000" fill-opacity="0.18"/>
<rect x="349.65" y="31.43" width="0.8" height="0.8" fill="#000" fill-opacity="0.18"/>
<rect x="353.81" y="31.1" width="0.8" height="0.8" fill="#000" fill-opacity="0.18"/>
<rect x="357.37" y="33.48" width="0.8" height="0.8" fill="#000" fill-opacity="0.18"/>
<rect x="329.55" y="26.68" width="0.8" height="0.8" fill="#000" fill-opacity="0.18"/>
<rect x="361.46" y="29.98" width="0.8" height="0.8" fill="#000" fill-opacity="0.18"/>
<rect x="349.04" y="30.81" width="0.8" height="0.8" fill="#000" fill-opacity="0.18"/>
<rect x="349.84" y="36.65" width="0.8" height="0.8" fill="#000" fill-opacity="0.18"/>
<rect x="340.95" y="31.26" width="0.8" height="0.8" fill="#000" fill-opacity="0.18"/>
<rect x="347.4" y="28.38" width="0.8" height="0.8" fill="#000" fill-opacity="0.18"/>
<rect x="339.44" y="30.42" width="0.8" height="0.8" fill="#000" fill-opacity="0.18"/>
<rect x="347.2" y="32.07" width="0.8" height="0.8" fill="#000" fill-opacity="0.18"/>
<rect x="329.59" y="27.16" width="0.8" height="0.8" fill="#000" fill-opacity="0.18"/>
<rect x="362.27" y="30.65" width="0.8" height="0.8" fill="#000" fill-opacity="0.18"/>
<rect x="354.8" y="30.04" width="0.8" height="0.8" fill="#000" fill-opacity="0.18"/>
<rect x="340.92" y="36.41" width="0.8" height="0.8" fill="#000" fill-opacity="0.18"/>
<rect x="336.18" y="28.81" width="0.8" height="0.8" fill="#000" fill-opacity="0.18"/>
<rect x="353.46" y="31.14" width="0.8" height="0.8" fill="#000" fill-opacity="0.18"/>
<rect x="332.5" y="31.45" width="0.8" height="0.8" fill="#000" fill-opacity="0.18"/>
<rect x="353.94" y="27.26" width="0.8" height="0.8" fill="#000" fill-opacity="0.18"/>
<rect x="342.29" y="33.07" width="0.8" height="0.8" fill="#000" fill-opacity="0.18"/>
<rect x="364.64" y="25.25" width="0.8" height="0.8" fill="#000" fill-opacity="0.18"/>
<rect x="341.1" y="31.15" width="0.8" height="0.8" fill="#000" fill-opacity="0.18"/>
<rect x="339.09" y="28.82" width="0.8" height="0.8" fill="#000" fill-opacity="0.18"/>
<rect x="342.79" y="32.38" width="0.8" height="0.8" fill="#000" fill-opacity="0.18"/>
<rect x="337.69" y="33.27" width="0.8" height="0.8" fill="#000" fill-opacity="0.18"/>
<rect x="354.85" y="33.23" width="0.8" height="0.8" fill="#000" fill-opacity="0.18"/>
<rect x="361.21" y="29.78" width="0.8" height="0.8" fill="#000" fill-opacity="0.18"/>
<rect x="346.87" y="33.6" width="0.8" height="0.8" fill="#000" fill-opacity="0.18"/>
<rect x="358.77" y="33.45" width="0.8" height="0.8" fill="#000" fill-opacity="0.18"/>
<rect x="343.25" y="29.87" width="0.8" height="0.8" fill="#000" fill-opacity="0.18"/>
<rect x="335.43" y="30" width="0.8" height="0.8" fill="#000" fill-opacity="0.18"/>
<rect x="339.24" y="29.86" width="0.8" height="0.8" fill="#000" fill-opacity="0.18"/>
<rect x="343.91" y="33.18" width="0.8" height="0.8" fill="#000" fill-opacity="0.18"/>
<rect x="355.06" y="30.97" width="0.8" height="0.8" fill="#000" fill-opacity="0.18"/>
<rect x="337.01" y="30.96" width="0.8" height="0.8" fill="#000" fill-opacity="0.18"/>
<rect x="351.23" y="33.24" width="0.8" height="0.8" fill="#000" fill-opacity="0.18"/>
<rect x="349.22" y="33.12" width="0.8" height="0.8" fill="#000" fill-opacity="0.18"/>
<rect x="341.39" y="32.72" width="0.8" height="0.8" fill="#000" fill-opacity="0.18"/>
<rect x="353.99" y="30.2" width="0.8" height="0.8" fill="#000" fill-opacity="0.18"/>
<rect x="340.48" y="34.18" width="0.8" height="0.8" fill="#000" fill-opacity="0.18"/>
<rect x="338.34" y="32.81" width="0.8" height="0.8" fill="#000" fill-opacity="0.18"/>
<rect x="344.89" y="30.22" width="0.8" height="0.8" fill="#000" fill-opacity="0.18"/>
<rect x="345.03" y="29.98" width="0.8" height="0.8" fill="#000" fill-opacity="0.18"/>
<rect x="346.98" y="35.55" width="0.8" height="0.8" fill="#000" fill-opacity="0.18"/>
<rect x="360.44" y="30.75" width="0.8" height="0.8" fill="#000" fill-opacity="0.18"/>
<rect x="351.57" y="33.37" width="0.8" height="0.8" fill="#000" fill-opacity="0.18"/>
<rect x="343.48" y="35.7" width="0.8" height="0.8" fill="#000" fill-opacity="0.18"/>
<rect x="347.63" y="32.64" width="0.8" height="0.8" fill="#000" fill-opacity="0.18"/>
<rect x="323.2" y="19.2" width="61.1" height="59.6" fill="#fff" filter="url(#speck)" opacity="0.55"/>
</g>
<line x1="346.5" y1="19.2" x2="346.5" y2="78.8" stroke="#5a5a5a" stroke-width="1" shape-rendering="crispEdges"/>
<line x1="323.2" y1="43.5" x2="384.3" y2="43.5" stroke="#5a5a5a" stroke-width="1" shape-rendering="crispEdges"/>
<rect x="323.2" y="19.2" width="61.1" height="59.6" fill="none" stroke="#a0a0a0" stroke-width="0.9"/>
<line x1="322" y1="27.5" x2="323.2" y2="27.5" stroke="#666" stroke-width="1" shape-rendering="crispEdges"/>
<line x1="322" y1="42.5" x2="323.2" y2="42.5" stroke="#666" stroke-width="1" shape-rendering="crispEdges"/>
<line x1="322" y1="54.5" x2="323.2" y2="54.5" stroke="#666" stroke-width="1" shape-rendering="crispEdges"/>
<line x1="322" y1="65.5" x2="323.2" y2="65.5" stroke="#666" stroke-width="1" shape-rendering="crispEdges"/>
<line x1="322" y1="73.5" x2="323.2" y2="73.5" stroke="#666" stroke-width="1" shape-rendering="crispEdges"/>
<line x1="329.5" y1="78.8" x2="329.5" y2="80" stroke="#666" stroke-width="1" shape-rendering="crispEdges"/>
<line x1="343.5" y1="78.8" x2="343.5" y2="80" stroke="#666" stroke-width="1" shape-rendering="crispEdges"/>
<line x1="355.5" y1="78.8" x2="355.5" y2="80" stroke="#666" stroke-width="1" shape-rendering="crispEdges"/>
<line x1="367.5" y1="78.8" x2="367.5" y2="80" stroke="#666" stroke-width="1" shape-rendering="crispEdges"/>
<text x="382.2" y="28.2" font-size="8.2" text-anchor="end" fill="#1e1e1e" stroke="#1e1e1e" stroke-width="0.18">63</text>
<rect x="258.8" y="89.4" width="58.2" height="56.8" fill="#fff"/>
<g clip-path="url(#cp13)">
<ellipse cx="288" cy="98" rx="7.5" ry="5.5" fill="#000" fill-opacity="0.3" filter="url(#bl1)" transform="rotate(0 288 98)"/>
<ellipse cx="277" cy="97" rx="8.2" ry="6.6" fill="#000" fill-opacity="1" filter="url(#bl2)" transform="rotate(0 277 97)"/>
<ellipse cx="276" cy="98" rx="4.5" ry="4" fill="#000" fill-opacity="0.5" filter="url(#bl2)" transform="rotate(0 276 98)"/>
<rect x="277.44" y="104.33" width="0.8" height="0.8" fill="#000" fill-opacity="0.35"/>
<rect x="279.85" y="100.5" width="0.8" height="0.8" fill="#000" fill-opacity="0.35"/>
<rect x="280.8" y="100.07" width="0.8" height="0.8" fill="#000" fill-opacity="0.35"/>
<rect x="277.66" y="95.13" width="0.8" height="0.8" fill="#000" fill-opacity="0.35"/>
<rect x="273.58" y="96.89" width="0.8" height="0.8" fill="#000" fill-opacity="0.35"/>
<rect x="276.09" y="102.1" width="0.8" height="0.8" fill="#000" fill-opacity="0.35"/>
<rect x="282.66" y="92.25" width="0.8" height="0.8" fill="#000" fill-opacity="0.35"/>
<rect x="283.2" y="97.83" width="0.8" height="0.8" fill="#000" fill-opacity="0.35"/>
<rect x="285.95" y="104.76" width="0.8" height="0.8" fill="#000" fill-opacity="0.35"/>
<rect x="282.96" y="90.9" width="0.8" height="0.8" fill="#000" fill-opacity="0.35"/>
<rect x="288.97" y="95" width="0.8" height="0.8" fill="#000" fill-opacity="0.35"/>
<rect x="277.47" y="106.26" width="0.8" height="0.8" fill="#000" fill-opacity="0.35"/>
<rect x="267.14" y="98.13" width="0.8" height="0.8" fill="#000" fill-opacity="0.35"/>
<rect x="271.66" y="95.63" width="0.8" height="0.8" fill="#000" fill-opacity="0.35"/>
<rect x="273.47" y="101.09" width="0.8" height="0.8" fill="#000" fill-opacity="0.35"/>
<rect x="276.73" y="99.57" width="0.8" height="0.8" fill="#000" fill-opacity="0.35"/>
<rect x="282.93" y="90.21" width="0.8" height="0.8" fill="#000" fill-opacity="0.35"/>
<rect x="287.92" y="96.88" width="0.8" height="0.8" fill="#000" fill-opacity="0.35"/>
<rect x="267.82" y="95" width="0.8" height="0.8" fill="#000" fill-opacity="0.35"/>
<rect x="284.47" y="102.57" width="0.8" height="0.8" fill="#000" fill-opacity="0.35"/>
<rect x="274.2" y="98.48" width="0.8" height="0.8" fill="#000" fill-opacity="0.35"/>
<rect x="280.32" y="102.73" width="0.8" height="0.8" fill="#000" fill-opacity="0.35"/>
<rect x="277.85" y="102.49" width="0.8" height="0.8" fill="#000" fill-opacity="0.35"/>
<rect x="272.86" y="94.72" width="0.8" height="0.8" fill="#000" fill-opacity="0.35"/>
<rect x="283.14" y="101.33" width="0.8" height="0.8" fill="#000" fill-opacity="0.35"/>
<rect x="278.44" y="100.79" width="0.8" height="0.8" fill="#000" fill-opacity="0.35"/>
<rect x="280.12" y="101.54" width="0.8" height="0.8" fill="#000" fill-opacity="0.35"/>
<rect x="286.45" y="100.4" width="0.8" height="0.8" fill="#000" fill-opacity="0.35"/>
<rect x="284.19" y="96.22" width="0.8" height="0.8" fill="#000" fill-opacity="0.35"/>
<rect x="281.46" y="98.17" width="0.8" height="0.8" fill="#000" fill-opacity="0.35"/>
<rect x="275.54" y="95.46" width="0.8" height="0.8" fill="#000" fill-opacity="0.35"/>
<rect x="266.8" y="102.19" width="0.8" height="0.8" fill="#000" fill-opacity="0.35"/>
<rect x="286.85" y="92.18" width="0.8" height="0.8" fill="#000" fill-opacity="0.35"/>
<rect x="281.7" y="105.94" width="0.8" height="0.8" fill="#000" fill-opacity="0.35"/>
<rect x="270.71" y="102.56" width="0.8" height="0.8" fill="#000" fill-opacity="0.35"/>
<rect x="289.29" y="106.59" width="0.8" height="0.8" fill="#000" fill-opacity="0.35"/>
<rect x="269.71" y="93.14" width="0.8" height="0.8" fill="#000" fill-opacity="0.35"/>
<rect x="280.15" y="103.56" width="0.8" height="0.8" fill="#000" fill-opacity="0.35"/>
<rect x="270.4" y="94.57" width="0.8" height="0.8" fill="#000" fill-opacity="0.35"/>
<rect x="271.35" y="103.11" width="0.8" height="0.8" fill="#000" fill-opacity="0.35"/>
<rect x="275.05" y="100.66" width="0.8" height="0.8" fill="#000" fill-opacity="0.35"/>
<rect x="283.05" y="103.37" width="0.8" height="0.8" fill="#000" fill-opacity="0.35"/>
<rect x="281.54" y="99.59" width="0.8" height="0.8" fill="#000" fill-opacity="0.35"/>
<rect x="286.47" y="100.22" width="0.8" height="0.8" fill="#000" fill-opacity="0.35"/>
<rect x="270.36" y="95.55" width="0.8" height="0.8" fill="#000" fill-opacity="0.35"/>
<rect x="284.79" y="98.67" width="0.8" height="0.8" fill="#000" fill-opacity="0.35"/>
<rect x="276.42" y="99.15" width="0.8" height="0.8" fill="#000" fill-opacity="0.35"/>
<rect x="300.83" y="97.8" width="0.8" height="0.8" fill="#000" fill-opacity="0.35"/>
<rect x="281.98" y="100.14" width="0.8" height="0.8" fill="#000" fill-opacity="0.35"/>
<rect x="276.96" y="103.53" width="0.8" height="0.8" fill="#000" fill-opacity="0.35"/>
<rect x="284.47" y="99.87" width="0.8" height="0.8" fill="#000" fill-opacity="0.35"/>
<rect x="269.75" y="103.84" width="0.8" height="0.8" fill="#000" fill-opacity="0.35"/>
<rect x="283.86" y="97.65" width="0.8" height="0.8" fill="#000" fill-opacity="0.35"/>
<rect x="260.81" y="97.76" width="0.8" height="0.8" fill="#000" fill-opacity="0.35"/>
<rect x="270.67" y="96.97" width="0.8" height="0.8" fill="#000" fill-opacity="0.35"/>
<rect x="275.36" y="94.2" width="0.8" height="0.8" fill="#000" fill-opacity="0.35"/>
<rect x="285.52" y="98.55" width="0.8" height="0.8" fill="#000" fill-opacity="0.35"/>
<rect x="287" y="93.57" width="0.8" height="0.8" fill="#000" fill-opacity="0.35"/>
<rect x="277.48" y="104.32" width="0.8" height="0.8" fill="#000" fill-opacity="0.35"/>
<rect x="280.93" y="94.67" width="0.8" height="0.8" fill="#000" fill-opacity="0.35"/>
<rect x="272.81" y="95.28" width="0.8" height="0.8" fill="#000" fill-opacity="0.35"/>
<rect x="278.19" y="101.2" width="0.8" height="0.8" fill="#000" fill-opacity="0.35"/>
<rect x="279.73" y="101.51" width="0.8" height="0.8" fill="#000" fill-opacity="0.35"/>
<rect x="284.36" y="98.57" width="0.8" height="0.8" fill="#000" fill-opacity="0.35"/>
<rect x="287.36" y="101.43" width="0.8" height="0.8" fill="#000" fill-opacity="0.35"/>
<rect x="277.52" y="97.26" width="0.8" height="0.8" fill="#000" fill-opacity="0.35"/>
<rect x="278.63" y="94.61" width="0.8" height="0.8" fill="#000" fill-opacity="0.35"/>
<rect x="269.79" y="98.19" width="0.8" height="0.8" fill="#000" fill-opacity="0.35"/>
<rect x="275.33" y="100.73" width="0.8" height="0.8" fill="#000" fill-opacity="0.35"/>
<rect x="274.76" y="98.47" width="0.8" height="0.8" fill="#000" fill-opacity="0.35"/>
<rect x="280.07" y="95.84" width="0.8" height="0.8" fill="#000" fill-opacity="0.35"/>
<rect x="280.03" y="94.67" width="0.8" height="0.8" fill="#000" fill-opacity="0.35"/>
<rect x="275.88" y="101.71" width="0.8" height="0.8" fill="#000" fill-opacity="0.35"/>
<rect x="281.33" y="97.99" width="0.8" height="0.8" fill="#000" fill-opacity="0.35"/>
<rect x="273.49" y="101.22" width="0.8" height="0.8" fill="#000" fill-opacity="0.35"/>
<rect x="285.74" y="99.01" width="0.8" height="0.8" fill="#000" fill-opacity="0.35"/>
<rect x="286.06" y="103.4" width="0.8" height="0.8" fill="#000" fill-opacity="0.35"/>
<rect x="271.94" y="106.04" width="0.8" height="0.8" fill="#000" fill-opacity="0.35"/>
<rect x="274.77" y="96.84" width="0.8" height="0.8" fill="#000" fill-opacity="0.35"/>
<rect x="282.91" y="97.61" width="0.8" height="0.8" fill="#000" fill-opacity="0.35"/>
<rect x="280.5" y="95.61" width="0.8" height="0.8" fill="#000" fill-opacity="0.35"/>
<rect x="271.79" y="98.07" width="0.8" height="0.8" fill="#000" fill-opacity="0.35"/>
<rect x="271.43" y="104.2" width="0.8" height="0.8" fill="#000" fill-opacity="0.35"/>
<rect x="280.34" y="104.48" width="0.8" height="0.8" fill="#000" fill-opacity="0.35"/>
<rect x="263.49" y="96.24" width="0.8" height="0.8" fill="#000" fill-opacity="0.35"/>
<rect x="270.1" y="99.64" width="0.8" height="0.8" fill="#000" fill-opacity="0.35"/>
<rect x="268.97" y="91.58" width="0.8" height="0.8" fill="#000" fill-opacity="0.35"/>
<rect x="280.57" y="96.16" width="0.8" height="0.8" fill="#000" fill-opacity="0.35"/>
<rect x="283.23" y="101.72" width="0.8" height="0.8" fill="#000" fill-opacity="0.35"/>
<rect x="281.07" y="92.36" width="0.8" height="0.8" fill="#000" fill-opacity="0.35"/>
<rect x="272.91" y="108.45" width="0.8" height="0.8" fill="#000" fill-opacity="0.35"/>
<rect x="277.18" y="99.33" width="0.8" height="0.8" fill="#000" fill-opacity="0.35"/>
<rect x="279.53" y="97.86" width="0.8" height="0.8" fill="#000" fill-opacity="0.35"/>
<rect x="277.55" y="95.38" width="0.8" height="0.8" fill="#000" fill-opacity="0.35"/>
<rect x="289.83" y="97.48" width="0.8" height="0.8" fill="#000" fill-opacity="0.35"/>
<rect x="269.94" y="100.37" width="0.8" height="0.8" fill="#000" fill-opacity="0.35"/>
<rect x="283.15" y="91.31" width="0.8" height="0.8" fill="#000" fill-opacity="0.35"/>
<rect x="275.23" y="104.88" width="0.8" height="0.8" fill="#000" fill-opacity="0.35"/>
<rect x="282.31" y="99.95" width="0.8" height="0.8" fill="#000" fill-opacity="0.35"/>
<rect x="285.34" y="97.38" width="0.8" height="0.8" fill="#000" fill-opacity="0.35"/>
<rect x="276.73" y="105.34" width="0.8" height="0.8" fill="#000" fill-opacity="0.35"/>
<rect x="277.47" y="97.62" width="0.8" height="0.8" fill="#000" fill-opacity="0.35"/>
<rect x="282.95" y="98.14" width="0.8" height="0.8" fill="#000" fill-opacity="0.35"/>
<rect x="284.79" y="106.17" width="0.8" height="0.8" fill="#000" fill-opacity="0.2"/>
<rect x="290.15" y="105.82" width="0.8" height="0.8" fill="#000" fill-opacity="0.2"/>
<rect x="292.83" y="96.11" width="0.8" height="0.8" fill="#000" fill-opacity="0.2"/>
<rect x="297.62" y="98.75" width="0.8" height="0.8" fill="#000" fill-opacity="0.2"/>
<rect x="286.51" y="99.27" width="0.8" height="0.8" fill="#000" fill-opacity="0.2"/>
<rect x="280.59" y="100.83" width="0.8" height="0.8" fill="#000" fill-opacity="0.2"/>
<rect x="287.12" y="98.47" width="0.8" height="0.8" fill="#000" fill-opacity="0.2"/>
<rect x="286.37" y="101.8" width="0.8" height="0.8" fill="#000" fill-opacity="0.2"/>
<rect x="292.14" y="103.25" width="0.8" height="0.8" fill="#000" fill-opacity="0.2"/>
<rect x="298.16" y="100.38" width="0.8" height="0.8" fill="#000" fill-opacity="0.2"/>
<rect x="290.91" y="100.47" width="0.8" height="0.8" fill="#000" fill-opacity="0.2"/>
<rect x="286.73" y="97.41" width="0.8" height="0.8" fill="#000" fill-opacity="0.2"/>
<rect x="293.96" y="96.29" width="0.8" height="0.8" fill="#000" fill-opacity="0.2"/>
<rect x="281.54" y="98.11" width="0.8" height="0.8" fill="#000" fill-opacity="0.2"/>
<rect x="291.66" y="104.64" width="0.8" height="0.8" fill="#000" fill-opacity="0.2"/>
<rect x="287.18" y="96.02" width="0.8" height="0.8" fill="#000" fill-opacity="0.2"/>
<rect x="290.92" y="98.81" width="0.8" height="0.8" fill="#000" fill-opacity="0.2"/>
<rect x="291.62" y="97.52" width="0.8" height="0.8" fill="#000" fill-opacity="0.2"/>
<rect x="291.39" y="97.29" width="0.8" height="0.8" fill="#000" fill-opacity="0.2"/>
<rect x="295.01" y="100.36" width="0.8" height="0.8" fill="#000" fill-opacity="0.2"/>
<rect x="293.1" y="97.79" width="0.8" height="0.8" fill="#000" fill-opacity="0.2"/>
<rect x="283.86" y="99.41" width="0.8" height="0.8" fill="#000" fill-opacity="0.2"/>
<rect x="290.22" y="103.3" width="0.8" height="0.8" fill="#000" fill-opacity="0.2"/>
<rect x="294.91" y="99.23" width="0.8" height="0.8" fill="#000" fill-opacity="0.2"/>
<rect x="290.25" y="95.82" width="0.8" height="0.8" fill="#000" fill-opacity="0.2"/>
<rect x="290.27" y="100.11" width="0.8" height="0.8" fill="#000" fill-opacity="0.2"/>
<rect x="288.55" y="95.48" width="0.8" height="0.8" fill="#000" fill-opacity="0.2"/>
<rect x="296.34" y="96.04" width="0.8" height="0.8" fill="#000" fill-opacity="0.2"/>
<rect x="298.05" y="103.57" width="0.8" height="0.8" fill="#000" fill-opacity="0.2"/>
<rect x="297.54" y="96.32" width="0.8" height="0.8" fill="#000" fill-opacity="0.2"/>
<rect x="293.33" y="94.38" width="0.8" height="0.8" fill="#000" fill-opacity="0.2"/>
<rect x="288.78" y="93.9" width="0.8" height="0.8" fill="#000" fill-opacity="0.2"/>
<rect x="287.08" y="97.54" width="0.8" height="0.8" fill="#000" fill-opacity="0.2"/>
<rect x="294.84" y="103.19" width="0.8" height="0.8" fill="#000" fill-opacity="0.2"/>
<rect x="288.74" y="98.32" width="0.8" height="0.8" fill="#000" fill-opacity="0.2"/>
<rect x="286.11" y="95.27" width="0.8" height="0.8" fill="#000" fill-opacity="0.2"/>
<rect x="282.25" y="98.56" width="0.8" height="0.8" fill="#000" fill-opacity="0.2"/>
<rect x="293.14" y="96.6" width="0.8" height="0.8" fill="#000" fill-opacity="0.2"/>
<rect x="292.09" y="95.22" width="0.8" height="0.8" fill="#000" fill-opacity="0.2"/>
<rect x="285.82" y="97.42" width="0.8" height="0.8" fill="#000" fill-opacity="0.2"/>
<rect x="294.45" y="97.45" width="0.8" height="0.8" fill="#000" fill-opacity="0.2"/>
<rect x="293.91" y="98.06" width="0.8" height="0.8" fill="#000" fill-opacity="0.2"/>
<rect x="285.34" y="92.17" width="0.8" height="0.8" fill="#000" fill-opacity="0.2"/>
<rect x="288.23" y="95.9" width="0.8" height="0.8" fill="#000" fill-opacity="0.2"/>
<rect x="294.53" y="100.87" width="0.8" height="0.8" fill="#000" fill-opacity="0.2"/>
<rect x="282.91" y="102.29" width="0.8" height="0.8" fill="#000" fill-opacity="0.2"/>
<rect x="285.62" y="100.16" width="0.8" height="0.8" fill="#000" fill-opacity="0.2"/>
<rect x="283.11" y="96.71" width="0.8" height="0.8" fill="#000" fill-opacity="0.2"/>
<rect x="292.75" y="100.17" width="0.8" height="0.8" fill="#000" fill-opacity="0.2"/>
<rect x="292.43" y="101.46" width="0.8" height="0.8" fill="#000" fill-opacity="0.2"/>
<rect x="286.35" y="107.75" width="0.8" height="0.8" fill="#000" fill-opacity="0.2"/>
<rect x="292.75" y="106.86" width="0.8" height="0.8" fill="#000" fill-opacity="0.2"/>
<rect x="289.16" y="101.27" width="0.8" height="0.8" fill="#000" fill-opacity="0.2"/>
<rect x="291.92" y="98.76" width="0.8" height="0.8" fill="#000" fill-opacity="0.2"/>
<rect x="291.79" y="100.2" width="0.8" height="0.8" fill="#000" fill-opacity="0.2"/>
<rect x="294.06" y="100.41" width="0.8" height="0.8" fill="#000" fill-opacity="0.2"/>
<rect x="290.62" y="101" width="0.8" height="0.8" fill="#000" fill-opacity="0.2"/>
<rect x="296.93" y="99.53" width="0.8" height="0.8" fill="#000" fill-opacity="0.2"/>
<rect x="293.11" y="99.77" width="0.8" height="0.8" fill="#000" fill-opacity="0.2"/>
<rect x="258.8" y="89.4" width="58.2" height="56.8" fill="#fff" filter="url(#speck)" opacity="0.55"/>
</g>
<line x1="281.5" y1="89.4" x2="281.5" y2="146.2" stroke="#5a5a5a" stroke-width="1" shape-rendering="crispEdges"/>
<line x1="258.8" y1="112.5" x2="317" y2="112.5" stroke="#5a5a5a" stroke-width="1" shape-rendering="crispEdges"/>
<rect x="258.8" y="89.4" width="58.2" height="56.8" fill="none" stroke="#a0a0a0" stroke-width="0.9"/>
<line x1="257.6" y1="97.5" x2="258.8" y2="97.5" stroke="#666" stroke-width="1" shape-rendering="crispEdges"/>
<line x1="257.6" y1="112.5" x2="258.8" y2="112.5" stroke="#666" stroke-width="1" shape-rendering="crispEdges"/>
<line x1="257.6" y1="124.5" x2="258.8" y2="124.5" stroke="#666" stroke-width="1" shape-rendering="crispEdges"/>
<line x1="257.6" y1="135.5" x2="258.8" y2="135.5" stroke="#666" stroke-width="1" shape-rendering="crispEdges"/>
<line x1="257.6" y1="143.5" x2="258.8" y2="143.5" stroke="#666" stroke-width="1" shape-rendering="crispEdges"/>
<line x1="264.5" y1="146.2" x2="264.5" y2="147.4" stroke="#666" stroke-width="1" shape-rendering="crispEdges"/>
<line x1="278.5" y1="146.2" x2="278.5" y2="147.4" stroke="#666" stroke-width="1" shape-rendering="crispEdges"/>
<line x1="290.5" y1="146.2" x2="290.5" y2="147.4" stroke="#666" stroke-width="1" shape-rendering="crispEdges"/>
<line x1="302.5" y1="146.2" x2="302.5" y2="147.4" stroke="#666" stroke-width="1" shape-rendering="crispEdges"/>
<text x="315.1" y="99" font-size="8.2" text-anchor="end" fill="#1e1e1e" stroke="#1e1e1e" stroke-width="0.18">13</text>
<rect x="323.5" y="89.4" width="60.7" height="56.8" fill="#fff"/>
<g clip-path="url(#cp14)">
<ellipse cx="346" cy="101.5" rx="13" ry="7" fill="#000" fill-opacity="0.32" filter="url(#bl1)" transform="rotate(-15 346 101.5)"/>
<ellipse cx="357.6" cy="95.2" rx="9.4" ry="5.2" fill="#000" fill-opacity="1" filter="url(#bl2)" transform="rotate(-25 357.6 95.2)"/>
<ellipse cx="359" cy="94.5" rx="5" ry="3" fill="#000" fill-opacity="0.5" filter="url(#bl2)" transform="rotate(-25 359 94.5)"/>
<rect x="360.16" y="102.99" width="0.8" height="0.8" fill="#000" fill-opacity="0.35"/>
<rect x="331" y="94.25" width="0.8" height="0.8" fill="#000" fill-opacity="0.35"/>
<rect x="347.1" y="105.31" width="0.8" height="0.8" fill="#000" fill-opacity="0.35"/>
<rect x="343.51" y="93.63" width="0.8" height="0.8" fill="#000" fill-opacity="0.35"/>
<rect x="344.25" y="109.91" width="0.8" height="0.8" fill="#000" fill-opacity="0.35"/>
<rect x="335.15" y="110.14" width="0.8" height="0.8" fill="#000" fill-opacity="0.35"/>
<rect x="352.74" y="102.2" width="0.8" height="0.8" fill="#000" fill-opacity="0.35"/>
<rect x="353.63" y="96.11" width="0.8" height="0.8" fill="#000" fill-opacity="0.35"/>
<rect x="348.43" y="110.88" width="0.8" height="0.8" fill="#000" fill-opacity="0.35"/>
<rect x="342.68" y="99.77" width="0.8" height="0.8" fill="#000" fill-opacity="0.35"/>
<rect x="332.8" y="102.14" width="0.8" height="0.8" fill="#000" fill-opacity="0.35"/>
<rect x="355.92" y="105.73" width="0.8" height="0.8" fill="#000" fill-opacity="0.35"/>
<rect x="354.17" y="102.68" width="0.8" height="0.8" fill="#000" fill-opacity="0.35"/>
<rect x="353.14" y="101.28" width="0.8" height="0.8" fill="#000" fill-opacity="0.35"/>
<rect x="356.53" y="97.65" width="0.8" height="0.8" fill="#000" fill-opacity="0.35"/>
<rect x="357.27" y="97.88" width="0.8" height="0.8" fill="#000" fill-opacity="0.35"/>
<rect x="329.89" y="98.36" width="0.8" height="0.8" fill="#000" fill-opacity="0.35"/>
<rect x="344.55" y="99.1" width="0.8" height="0.8" fill="#000" fill-opacity="0.35"/>
<rect x="334.33" y="100.11" width="0.8" height="0.8" fill="#000" fill-opacity="0.35"/>
<rect x="349.38" y="102.67" width="0.8" height="0.8" fill="#000" fill-opacity="0.35"/>
<rect x="353.98" y="94.29" width="0.8" height="0.8" fill="#000" fill-opacity="0.35"/>
<rect x="352.13" y="105.49" width="0.8" height="0.8" fill="#000" fill-opacity="0.35"/>
<rect x="352.93" y="109.4" width="0.8" height="0.8" fill="#000" fill-opacity="0.35"/>
<rect x="342.51" y="102.2" width="0.8" height="0.8" fill="#000" fill-opacity="0.35"/>
<rect x="348.18" y="98.44" width="0.8" height="0.8" fill="#000" fill-opacity="0.35"/>
<rect x="346.89" y="102.36" width="0.8" height="0.8" fill="#000" fill-opacity="0.35"/>
<rect x="346.01" y="98.47" width="0.8" height="0.8" fill="#000" fill-opacity="0.35"/>
<rect x="342.69" y="101.75" width="0.8" height="0.8" fill="#000" fill-opacity="0.35"/>
<rect x="332.69" y="105.9" width="0.8" height="0.8" fill="#000" fill-opacity="0.35"/>
<rect x="336.27" y="102.51" width="0.8" height="0.8" fill="#000" fill-opacity="0.35"/>
<rect x="336.84" y="104.3" width="0.8" height="0.8" fill="#000" fill-opacity="0.35"/>
<rect x="343.08" y="100.62" width="0.8" height="0.8" fill="#000" fill-opacity="0.35"/>
<rect x="340.17" y="103.5" width="0.8" height="0.8" fill="#000" fill-opacity="0.35"/>
<rect x="352.23" y="100.88" width="0.8" height="0.8" fill="#000" fill-opacity="0.35"/>
<rect x="341.6" y="95.35" width="0.8" height="0.8" fill="#000" fill-opacity="0.35"/>
<rect x="362.25" y="97.98" width="0.8" height="0.8" fill="#000" fill-opacity="0.35"/>
<rect x="355.99" y="96.53" width="0.8" height="0.8" fill="#000" fill-opacity="0.35"/>
<rect x="341.3" y="108.57" width="0.8" height="0.8" fill="#000" fill-opacity="0.35"/>
<rect x="353.59" y="97.57" width="0.8" height="0.8" fill="#000" fill-opacity="0.35"/>
<rect x="345.86" y="104.79" width="0.8" height="0.8" fill="#000" fill-opacity="0.35"/>
<rect x="338.32" y="98.7" width="0.8" height="0.8" fill="#000" fill-opacity="0.35"/>
<rect x="348.04" y="106.36" width="0.8" height="0.8" fill="#000" fill-opacity="0.35"/>
<rect x="355.43" y="99.81" width="0.8" height="0.8" fill="#000" fill-opacity="0.35"/>
<rect x="359.55" y="96.83" width="0.8" height="0.8" fill="#000" fill-opacity="0.35"/>
<rect x="345.66" y="114.44" width="0.8" height="0.8" fill="#000" fill-opacity="0.35"/>
<rect x="343.22" y="105.38" width="0.8" height="0.8" fill="#000" fill-opacity="0.35"/>
<rect x="352.47" y="100.23" width="0.8" height="0.8" fill="#000" fill-opacity="0.35"/>
<rect x="350.18" y="104.06" width="0.8" height="0.8" fill="#000" fill-opacity="0.35"/>
<rect x="351.49" y="96.6" width="0.8" height="0.8" fill="#000" fill-opacity="0.35"/>
<rect x="349.05" y="108.2" width="0.8" height="0.8" fill="#000" fill-opacity="0.35"/>
<rect x="353.37" y="96.94" width="0.8" height="0.8" fill="#000" fill-opacity="0.35"/>
<rect x="346.31" y="95.74" width="0.8" height="0.8" fill="#000" fill-opacity="0.35"/>
<rect x="334.23" y="101.55" width="0.8" height="0.8" fill="#000" fill-opacity="0.35"/>
<rect x="361.35" y="93.76" width="0.8" height="0.8" fill="#000" fill-opacity="0.35"/>
<rect x="328.35" y="105.44" width="0.8" height="0.8" fill="#000" fill-opacity="0.35"/>
<rect x="341.69" y="106.59" width="0.8" height="0.8" fill="#000" fill-opacity="0.35"/>
<rect x="358.31" y="96.19" width="0.8" height="0.8" fill="#000" fill-opacity="0.35"/>
<rect x="347.01" y="96.1" width="0.8" height="0.8" fill="#000" fill-opacity="0.35"/>
<rect x="357.47" y="94.21" width="0.8" height="0.8" fill="#000" fill-opacity="0.35"/>
<rect x="350.7" y="113.27" width="0.8" height="0.8" fill="#000" fill-opacity="0.35"/>
<rect x="338.62" y="104.25" width="0.8" height="0.8" fill="#000" fill-opacity="0.35"/>
<rect x="347.3" y="103.57" width="0.8" height="0.8" fill="#000" fill-opacity="0.35"/>
<rect x="353.61" y="107.55" width="0.8" height="0.8" fill="#000" fill-opacity="0.35"/>
<rect x="352.59" y="102.91" width="0.8" height="0.8" fill="#000" fill-opacity="0.35"/>
<rect x="336.12" y="106.23" width="0.8" height="0.8" fill="#000" fill-opacity="0.35"/>
<rect x="336.32" y="110.67" width="0.8" height="0.8" fill="#000" fill-opacity="0.35"/>
<rect x="347.97" y="106.2" width="0.8" height="0.8" fill="#000" fill-opacity="0.35"/>
<rect x="342.82" y="103.48" width="0.8" height="0.8" fill="#000" fill-opacity="0.35"/>
<rect x="348.73" y="103.69" width="0.8" height="0.8" fill="#000" fill-opacity="0.35"/>
<rect x="345.37" y="98.27" width="0.8" height="0.8" fill="#000" fill-opacity="0.35"/>
<rect x="342.75" y="98.63" width="0.8" height="0.8" fill="#000" fill-opacity="0.35"/>
<rect x="336.82" y="97.09" width="0.8" height="0.8" fill="#000" fill-opacity="0.35"/>
<rect x="336.04" y="114.48" width="0.8" height="0.8" fill="#000" fill-opacity="0.35"/>
<rect x="338.67" y="97.17" width="0.8" height="0.8" fill="#000" fill-opacity="0.35"/>
<rect x="356.87" y="100.02" width="0.8" height="0.8" fill="#000" fill-opacity="0.35"/>
<rect x="347.5" y="107.25" width="0.8" height="0.8" fill="#000" fill-opacity="0.35"/>
<rect x="363.47" y="91.96" width="0.8" height="0.8" fill="#000" fill-opacity="0.35"/>
<rect x="361.31" y="100.43" width="0.8" height="0.8" fill="#000" fill-opacity="0.35"/>
<rect x="357.35" y="95.37" width="0.8" height="0.8" fill="#000" fill-opacity="0.35"/>
<rect x="364.55" y="102.83" width="0.8" height="0.8" fill="#000" fill-opacity="0.35"/>
<rect x="324.52" y="114.16" width="0.8" height="0.8" fill="#000" fill-opacity="0.35"/>
<rect x="357.89" y="90.49" width="0.8" height="0.8" fill="#000" fill-opacity="0.35"/>
<rect x="350.07" y="99.28" width="0.8" height="0.8" fill="#000" fill-opacity="0.35"/>
<rect x="348.07" y="96.04" width="0.8" height="0.8" fill="#000" fill-opacity="0.35"/>
<rect x="354.27" y="103.23" width="0.8" height="0.8" fill="#000" fill-opacity="0.35"/>
<rect x="346.12" y="100.94" width="0.8" height="0.8" fill="#000" fill-opacity="0.35"/>
<rect x="331.7" y="108.2" width="0.8" height="0.8" fill="#000" fill-opacity="0.35"/>
<rect x="335.22" y="104.36" width="0.8" height="0.8" fill="#000" fill-opacity="0.35"/>
<rect x="343.25" y="116.55" width="0.8" height="0.8" fill="#000" fill-opacity="0.35"/>
<rect x="349.32" y="108.99" width="0.8" height="0.8" fill="#000" fill-opacity="0.35"/>
<rect x="346.76" y="100.91" width="0.8" height="0.8" fill="#000" fill-opacity="0.35"/>
<rect x="354.05" y="99.02" width="0.8" height="0.8" fill="#000" fill-opacity="0.35"/>
<rect x="368.89" y="94.22" width="0.8" height="0.8" fill="#000" fill-opacity="0.35"/>
<rect x="360.8" y="90.78" width="0.8" height="0.8" fill="#000" fill-opacity="0.35"/>
<rect x="339.53" y="106.71" width="0.8" height="0.8" fill="#000" fill-opacity="0.35"/>
<rect x="336.93" y="114.7" width="0.8" height="0.8" fill="#000" fill-opacity="0.35"/>
<rect x="352.29" y="100.15" width="0.8" height="0.8" fill="#000" fill-opacity="0.35"/>
<rect x="363.16" y="93.88" width="0.8" height="0.8" fill="#000" fill-opacity="0.35"/>
<rect x="328.46" y="104.37" width="0.8" height="0.8" fill="#000" fill-opacity="0.35"/>
<rect x="328.64" y="110.22" width="0.8" height="0.8" fill="#000" fill-opacity="0.35"/>
<rect x="357.05" y="100.9" width="0.8" height="0.8" fill="#000" fill-opacity="0.35"/>
<rect x="330.62" y="100.68" width="0.8" height="0.8" fill="#000" fill-opacity="0.35"/>
<rect x="335.11" y="108.21" width="0.8" height="0.8" fill="#000" fill-opacity="0.35"/>
<rect x="356.56" y="97.25" width="0.8" height="0.8" fill="#000" fill-opacity="0.35"/>
<rect x="348.08" y="102.05" width="0.8" height="0.8" fill="#000" fill-opacity="0.35"/>
<rect x="352.86" y="94.49" width="0.8" height="0.8" fill="#000" fill-opacity="0.35"/>
<rect x="339.2" y="107.55" width="0.8" height="0.8" fill="#000" fill-opacity="0.35"/>
<rect x="352.67" y="102.25" width="0.8" height="0.8" fill="#000" fill-opacity="0.35"/>
<rect x="348.75" y="104.88" width="0.8" height="0.8" fill="#000" fill-opacity="0.35"/>
<rect x="350.79" y="96.68" width="0.8" height="0.8" fill="#000" fill-opacity="0.35"/>
<rect x="364.88" y="102.36" width="0.8" height="0.8" fill="#000" fill-opacity="0.35"/>
<rect x="344.73" y="101.12" width="0.8" height="0.8" fill="#000" fill-opacity="0.35"/>
<rect x="338.41" y="95.57" width="0.8" height="0.8" fill="#000" fill-opacity="0.35"/>
<rect x="335.18" y="96.23" width="0.8" height="0.8" fill="#000" fill-opacity="0.35"/>
<rect x="341.35" y="104.38" width="0.8" height="0.8" fill="#000" fill-opacity="0.35"/>
<rect x="344.52" y="93.69" width="0.8" height="0.8" fill="#000" fill-opacity="0.35"/>
<rect x="344.37" y="98.23" width="0.8" height="0.8" fill="#000" fill-opacity="0.35"/>
<rect x="338.25" y="109.61" width="0.8" height="0.8" fill="#000" fill-opacity="0.35"/>
<rect x="338.46" y="108.42" width="0.8" height="0.8" fill="#000" fill-opacity="0.35"/>
<rect x="331.45" y="106.78" width="0.8" height="0.8" fill="#000" fill-opacity="0.35"/>
<rect x="341.79" y="107.84" width="0.8" height="0.8" fill="#000" fill-opacity="0.35"/>
<rect x="349.86" y="95.91" width="0.8" height="0.8" fill="#000" fill-opacity="0.35"/>
<rect x="354.99" y="106.09" width="0.8" height="0.8" fill="#000" fill-opacity="0.35"/>
<rect x="361.85" y="105.36" width="0.8" height="0.8" fill="#000" fill-opacity="0.35"/>
<rect x="346.78" y="113.24" width="0.8" height="0.8" fill="#000" fill-opacity="0.35"/>
<rect x="341.36" y="101.82" width="0.8" height="0.8" fill="#000" fill-opacity="0.35"/>
<rect x="332.21" y="103.83" width="0.8" height="0.8" fill="#000" fill-opacity="0.35"/>
<rect x="333.51" y="105.32" width="0.8" height="0.8" fill="#000" fill-opacity="0.35"/>
<rect x="333.03" y="115.3" width="0.8" height="0.8" fill="#000" fill-opacity="0.35"/>
<rect x="357.16" y="107.33" width="0.8" height="0.8" fill="#000" fill-opacity="0.35"/>
<rect x="358.61" y="98.89" width="0.8" height="0.8" fill="#000" fill-opacity="0.35"/>
<rect x="352" y="100.89" width="0.8" height="0.8" fill="#000" fill-opacity="0.35"/>
<rect x="327.6" y="99.69" width="0.8" height="0.8" fill="#000" fill-opacity="0.35"/>
<rect x="344.78" y="106.98" width="0.8" height="0.8" fill="#000" fill-opacity="0.35"/>
<rect x="334.27" y="105.57" width="0.8" height="0.8" fill="#000" fill-opacity="0.35"/>
<rect x="342.77" y="106.41" width="0.8" height="0.8" fill="#000" fill-opacity="0.35"/>
<rect x="353" y="93.62" width="0.8" height="0.8" fill="#000" fill-opacity="0.35"/>
<rect x="338.4" y="111.71" width="0.8" height="0.8" fill="#000" fill-opacity="0.35"/>
<rect x="357.27" y="98.21" width="0.8" height="0.8" fill="#000" fill-opacity="0.35"/>
<rect x="355.32" y="99.23" width="0.8" height="0.8" fill="#000" fill-opacity="0.35"/>
<rect x="351.23" y="97.78" width="0.8" height="0.8" fill="#000" fill-opacity="0.35"/>
<rect x="354.82" y="108.48" width="0.8" height="0.8" fill="#000" fill-opacity="0.35"/>
<rect x="362.98" y="104.01" width="0.8" height="0.8" fill="#000" fill-opacity="0.35"/>
<rect x="349.82" y="105.82" width="0.8" height="0.8" fill="#000" fill-opacity="0.35"/>
<rect x="342.71" y="100.6" width="0.8" height="0.8" fill="#000" fill-opacity="0.35"/>
<rect x="347.11" y="94.93" width="0.8" height="0.8" fill="#000" fill-opacity="0.35"/>
<rect x="346.69" y="91.49" width="0.8" height="0.8" fill="#000" fill-opacity="0.35"/>
<rect x="364.14" y="101.32" width="0.8" height="0.8" fill="#000" fill-opacity="0.35"/>
<rect x="349.14" y="96.6" width="0.8" height="0.8" fill="#000" fill-opacity="0.35"/>
<rect x="340.97" y="100.52" width="0.8" height="0.8" fill="#000" fill-opacity="0.35"/>
<rect x="330.77" y="103.07" width="0.8" height="0.8" fill="#000" fill-opacity="0.35"/>
<rect x="339.7" y="107.87" width="0.8" height="0.8" fill="#000" fill-opacity="0.35"/>
<rect x="362.15" y="105.29" width="0.8" height="0.8" fill="#000" fill-opacity="0.35"/>
<rect x="332.33" y="97.28" width="0.8" height="0.8" fill="#000" fill-opacity="0.35"/>
<rect x="362.11" y="101.53" width="0.8" height="0.8" fill="#000" fill-opacity="0.35"/>
<rect x="358.36" y="101.86" width="0.8" height="0.8" fill="#000" fill-opacity="0.35"/>
<rect x="352.55" y="111.68" width="0.8" height="0.8" fill="#000" fill-opacity="0.35"/>
<rect x="356.58" y="102.42" width="0.8" height="0.8" fill="#000" fill-opacity="0.35"/>
<rect x="337.88" y="104.47" width="0.8" height="0.8" fill="#000" fill-opacity="0.35"/>
<rect x="360.98" y="100.58" width="0.8" height="0.8" fill="#000" fill-opacity="0.35"/>
<rect x="355.76" y="97.71" width="0.8" height="0.8" fill="#000" fill-opacity="0.35"/>
<rect x="353.3" y="96.24" width="0.8" height="0.8" fill="#000" fill-opacity="0.35"/>
<rect x="347.01" y="107.2" width="0.8" height="0.8" fill="#000" fill-opacity="0.35"/>
<rect x="363.13" y="94.99" width="0.8" height="0.8" fill="#000" fill-opacity="0.35"/>
<rect x="344.85" y="100.38" width="0.8" height="0.8" fill="#000" fill-opacity="0.35"/>
<rect x="345.48" y="101.7" width="0.8" height="0.8" fill="#000" fill-opacity="0.35"/>
<rect x="356.21" y="100.63" width="0.8" height="0.8" fill="#000" fill-opacity="0.35"/>
<rect x="347.84" y="103.44" width="0.8" height="0.8" fill="#000" fill-opacity="0.35"/>
<rect x="329.99" y="104.83" width="0.8" height="0.8" fill="#000" fill-opacity="0.35"/>
<rect x="364.78" y="90.53" width="0.8" height="0.8" fill="#000" fill-opacity="0.35"/>
<rect x="341.99" y="103.94" width="0.8" height="0.8" fill="#000" fill-opacity="0.35"/>
<rect x="356.53" y="97.09" width="0.8" height="0.8" fill="#000" fill-opacity="0.35"/>
<rect x="339.28" y="111.92" width="0.8" height="0.8" fill="#000" fill-opacity="0.35"/>
<rect x="336.68" y="90.65" width="0.8" height="0.8" fill="#000" fill-opacity="0.35"/>
<rect x="363.02" y="107.9" width="0.8" height="0.8" fill="#000" fill-opacity="0.35"/>
<rect x="332.02" y="102.74" width="0.8" height="0.8" fill="#000" fill-opacity="0.35"/>
<rect x="345.74" y="105.38" width="0.8" height="0.8" fill="#000" fill-opacity="0.35"/>
<rect x="346.13" y="104.56" width="0.8" height="0.8" fill="#000" fill-opacity="0.35"/>
<rect x="351.55" y="99.08" width="0.8" height="0.8" fill="#000" fill-opacity="0.35"/>
<rect x="349.64" y="108.35" width="0.8" height="0.8" fill="#000" fill-opacity="0.35"/>
<rect x="349.83" y="104.03" width="0.8" height="0.8" fill="#000" fill-opacity="0.35"/>
<rect x="347.91" y="104.91" width="0.8" height="0.8" fill="#000" fill-opacity="0.35"/>
<rect x="362.97" y="97.32" width="0.8" height="0.8" fill="#000" fill-opacity="0.35"/>
<rect x="341.47" y="98.35" width="0.8" height="0.8" fill="#000" fill-opacity="0.35"/>
<rect x="355.89" y="94.3" width="0.8" height="0.8" fill="#000" fill-opacity="0.35"/>
<rect x="355.31" y="113.26" width="0.8" height="0.8" fill="#000" fill-opacity="0.35"/>
<rect x="351.81" y="110" width="0.8" height="0.8" fill="#000" fill-opacity="0.35"/>
<rect x="347.2" y="100.55" width="0.8" height="0.8" fill="#000" fill-opacity="0.35"/>
<rect x="351.56" y="94.9" width="0.8" height="0.8" fill="#000" fill-opacity="0.35"/>
<rect x="340.46" y="104.02" width="0.8" height="0.8" fill="#000" fill-opacity="0.35"/>
<rect x="367.05" y="99.25" width="0.8" height="0.8" fill="#000" fill-opacity="0.35"/>
<rect x="333.01" y="107.26" width="0.8" height="0.8" fill="#000" fill-opacity="0.35"/>
<rect x="326.82" y="94.08" width="0.8" height="0.8" fill="#000" fill-opacity="0.35"/>
<rect x="366.54" y="90.56" width="0.8" height="0.8" fill="#000" fill-opacity="0.35"/>
<rect x="325.71" y="106.35" width="0.8" height="0.8" fill="#000" fill-opacity="0.35"/>
<rect x="345.96" y="104.03" width="0.8" height="0.8" fill="#000" fill-opacity="0.35"/>
<rect x="345.25" y="100.42" width="0.8" height="0.8" fill="#000" fill-opacity="0.35"/>
<rect x="355.21" y="97.93" width="0.8" height="0.8" fill="#000" fill-opacity="0.35"/>
<rect x="340.43" y="104.93" width="0.8" height="0.8" fill="#000" fill-opacity="0.35"/>
<rect x="343.28" y="108.34" width="0.8" height="0.8" fill="#000" fill-opacity="0.35"/>
<rect x="347.29" y="100" width="0.8" height="0.8" fill="#000" fill-opacity="0.35"/>
<rect x="343.88" y="105.41" width="0.8" height="0.8" fill="#000" fill-opacity="0.35"/>
<rect x="356.64" y="96.84" width="0.8" height="0.8" fill="#000" fill-opacity="0.35"/>
<rect x="326.8" y="111.01" width="0.8" height="0.8" fill="#000" fill-opacity="0.35"/>
<rect x="340.7" y="106.35" width="0.8" height="0.8" fill="#000" fill-opacity="0.35"/>
<rect x="341.89" y="104.84" width="0.8" height="0.8" fill="#000" fill-opacity="0.35"/>
<rect x="343.61" y="97.42" width="0.8" height="0.8" fill="#000" fill-opacity="0.35"/>
<rect x="334.34" y="103.95" width="0.8" height="0.8" fill="#000" fill-opacity="0.35"/>
<rect x="346.34" y="91.88" width="0.8" height="0.8" fill="#000" fill-opacity="0.35"/>
<rect x="367.33" y="91.06" width="0.8" height="0.8" fill="#000" fill-opacity="0.35"/>
<rect x="343.1" y="95.94" width="0.8" height="0.8" fill="#000" fill-opacity="0.35"/>
<rect x="336.97" y="112.4" width="0.8" height="0.8" fill="#000" fill-opacity="0.35"/>
<rect x="331.57" y="106.69" width="0.8" height="0.8" fill="#000" fill-opacity="0.35"/>
<rect x="340.87" y="106.17" width="0.8" height="0.8" fill="#000" fill-opacity="0.35"/>
<rect x="362.79" y="97.81" width="0.8" height="0.8" fill="#000" fill-opacity="0.35"/>
<rect x="345.82" y="107.76" width="0.8" height="0.8" fill="#000" fill-opacity="0.35"/>
<rect x="341.57" y="91.83" width="0.8" height="0.8" fill="#000" fill-opacity="0.35"/>
<rect x="359.69" y="94.74" width="0.8" height="0.8" fill="#000" fill-opacity="0.35"/>
<rect x="352.64" y="112.5" width="0.8" height="0.8" fill="#000" fill-opacity="0.35"/>
<rect x="356.88" y="100.32" width="0.8" height="0.8" fill="#000" fill-opacity="0.35"/>
<rect x="362.38" y="91.88" width="0.8" height="0.8" fill="#000" fill-opacity="0.35"/>
<rect x="329.28" y="99.32" width="0.8" height="0.8" fill="#000" fill-opacity="0.35"/>
<rect x="348.57" y="102.03" width="0.8" height="0.8" fill="#000" fill-opacity="0.35"/>
<rect x="343.69" y="114.47" width="0.8" height="0.8" fill="#000" fill-opacity="0.35"/>
<rect x="355.62" y="99.94" width="0.8" height="0.8" fill="#000" fill-opacity="0.35"/>
<rect x="340.4" y="102.57" width="0.8" height="0.8" fill="#000" fill-opacity="0.35"/>
<rect x="349.68" y="98.33" width="0.8" height="0.8" fill="#000" fill-opacity="0.35"/>
<rect x="378.22" y="102.7" width="0.8" height="0.8" fill="#000" fill-opacity="0.35"/>
<rect x="353.91" y="99.46" width="0.8" height="0.8" fill="#000" fill-opacity="0.35"/>
<rect x="331.9" y="111.43" width="0.8" height="0.8" fill="#000" fill-opacity="0.35"/>
<rect x="342.15" y="108.65" width="0.8" height="0.8" fill="#000" fill-opacity="0.35"/>
<rect x="349.64" y="92.85" width="0.8" height="0.8" fill="#000" fill-opacity="0.35"/>
<rect x="347.63" y="99.93" width="0.8" height="0.8" fill="#000" fill-opacity="0.35"/>
<rect x="345.01" y="101.23" width="0.8" height="0.8" fill="#000" fill-opacity="0.35"/>
<rect x="348.06" y="99.68" width="0.8" height="0.8" fill="#000" fill-opacity="0.35"/>
<rect x="356.32" y="101.88" width="0.8" height="0.8" fill="#000" fill-opacity="0.35"/>
<rect x="345.66" y="100.7" width="0.8" height="0.8" fill="#000" fill-opacity="0.35"/>
<rect x="343.62" y="99.86" width="0.8" height="0.8" fill="#000" fill-opacity="0.35"/>
<rect x="346.11" y="102.73" width="0.8" height="0.8" fill="#000" fill-opacity="0.35"/>
<rect x="341.72" y="91.79" width="0.8" height="0.8" fill="#000" fill-opacity="0.35"/>
<rect x="346.81" y="96.07" width="0.8" height="0.8" fill="#000" fill-opacity="0.35"/>
<rect x="350.67" y="114.6" width="0.8" height="0.8" fill="#000" fill-opacity="0.35"/>
<rect x="331.38" y="111.15" width="0.8" height="0.8" fill="#000" fill-opacity="0.35"/>
<rect x="337.3" y="94.62" width="0.8" height="0.8" fill="#000" fill-opacity="0.35"/>
<rect x="329.95" y="104.81" width="0.8" height="0.8" fill="#000" fill-opacity="0.35"/>
<rect x="339.3" y="103.1" width="0.8" height="0.8" fill="#000" fill-opacity="0.35"/>
<rect x="344.29" y="101.96" width="0.8" height="0.8" fill="#000" fill-opacity="0.35"/>
<rect x="341.83" y="97.82" width="0.8" height="0.8" fill="#000" fill-opacity="0.35"/>
<rect x="356.53" y="107.6" width="0.8" height="0.8" fill="#000" fill-opacity="0.35"/>
<rect x="338.49" y="102.48" width="0.8" height="0.8" fill="#000" fill-opacity="0.35"/>
<rect x="336.98" y="106.93" width="0.8" height="0.8" fill="#000" fill-opacity="0.35"/>
<rect x="356.07" y="98.58" width="0.8" height="0.8" fill="#000" fill-opacity="0.35"/>
<rect x="358.37" y="97.42" width="0.8" height="0.8" fill="#000" fill-opacity="0.35"/>
<rect x="349.32" y="100.33" width="0.8" height="0.8" fill="#000" fill-opacity="0.35"/>
<rect x="350.48" y="100.29" width="0.8" height="0.8" fill="#000" fill-opacity="0.35"/>
<rect x="362.51" y="101.2" width="0.8" height="0.8" fill="#000" fill-opacity="0.35"/>
<rect x="363.13" y="95.96" width="0.8" height="0.8" fill="#000" fill-opacity="0.35"/>
<rect x="338.67" y="99.81" width="0.8" height="0.8" fill="#000" fill-opacity="0.35"/>
<rect x="343.75" y="103.91" width="0.8" height="0.8" fill="#000" fill-opacity="0.35"/>
<rect x="343.51" y="103.68" width="0.8" height="0.8" fill="#000" fill-opacity="0.35"/>
<rect x="349.76" y="93.67" width="0.8" height="0.8" fill="#000" fill-opacity="0.35"/>
<rect x="335.37" y="111.85" width="0.8" height="0.8" fill="#000" fill-opacity="0.35"/>
<rect x="343.68" y="112.87" width="0.8" height="0.8" fill="#000" fill-opacity="0.35"/>
<rect x="342.29" y="94.42" width="0.8" height="0.8" fill="#000" fill-opacity="0.35"/>
<rect x="334.55" y="99.82" width="0.8" height="0.8" fill="#000" fill-opacity="0.35"/>
<rect x="350.95" y="112.94" width="0.8" height="0.8" fill="#000" fill-opacity="0.35"/>
<rect x="355.86" y="93.21" width="0.8" height="0.8" fill="#000" fill-opacity="0.35"/>
<rect x="364.46" y="103.92" width="0.8" height="0.8" fill="#000" fill-opacity="0.35"/>
<rect x="341.59" y="105.99" width="0.8" height="0.8" fill="#000" fill-opacity="0.35"/>
<rect x="350.76" y="99.26" width="0.8" height="0.8" fill="#000" fill-opacity="0.35"/>
<rect x="341.95" y="99.13" width="0.8" height="0.8" fill="#000" fill-opacity="0.35"/>
<rect x="350.87" y="97.05" width="0.8" height="0.8" fill="#000" fill-opacity="0.35"/>
<rect x="356.78" y="102.45" width="0.8" height="0.8" fill="#000" fill-opacity="0.35"/>
<rect x="332.07" y="107.52" width="0.8" height="0.8" fill="#000" fill-opacity="0.35"/>
<rect x="346.62" y="105.75" width="0.8" height="0.8" fill="#000" fill-opacity="0.35"/>
<rect x="345.41" y="108.35" width="0.8" height="0.8" fill="#000" fill-opacity="0.35"/>
<rect x="356.73" y="103.78" width="0.8" height="0.8" fill="#000" fill-opacity="0.35"/>
<rect x="351.34" y="91.99" width="0.8" height="0.8" fill="#000" fill-opacity="0.35"/>
<rect x="348.21" y="107.19" width="0.8" height="0.8" fill="#000" fill-opacity="0.35"/>
<rect x="356.95" y="101.92" width="0.8" height="0.8" fill="#000" fill-opacity="0.35"/>
<rect x="346.97" y="100.79" width="0.8" height="0.8" fill="#000" fill-opacity="0.35"/>
<rect x="331.31" y="94.96" width="0.8" height="0.8" fill="#000" fill-opacity="0.35"/>
<rect x="346.66" y="105.99" width="0.8" height="0.8" fill="#000" fill-opacity="0.35"/>
<rect x="343.89" y="98.83" width="0.8" height="0.8" fill="#000" fill-opacity="0.35"/>
<rect x="347.34" y="108.74" width="0.8" height="0.8" fill="#000" fill-opacity="0.35"/>
<rect x="341.09" y="102.19" width="0.8" height="0.8" fill="#000" fill-opacity="0.35"/>
<rect x="352.15" y="105.89" width="0.8" height="0.8" fill="#000" fill-opacity="0.35"/>
<rect x="350.64" y="97.2" width="0.8" height="0.8" fill="#000" fill-opacity="0.35"/>
<rect x="340.65" y="96.27" width="0.8" height="0.8" fill="#000" fill-opacity="0.35"/>
<rect x="346.7" y="106.87" width="0.8" height="0.8" fill="#000" fill-opacity="0.35"/>
<rect x="348.35" y="98.25" width="0.8" height="0.8" fill="#000" fill-opacity="0.35"/>
<rect x="335.98" y="102.06" width="0.8" height="0.8" fill="#000" fill-opacity="0.35"/>
<rect x="355.63" y="102.45" width="0.8" height="0.8" fill="#000" fill-opacity="0.35"/>
<rect x="352.99" y="104.48" width="0.8" height="0.8" fill="#000" fill-opacity="0.35"/>
<rect x="359.62" y="99" width="0.8" height="0.8" fill="#000" fill-opacity="0.35"/>
<rect x="353.27" y="97.55" width="0.8" height="0.8" fill="#000" fill-opacity="0.35"/>
<rect x="348.55" y="95.49" width="0.8" height="0.8" fill="#000" fill-opacity="0.35"/>
<rect x="343.05" y="95.79" width="0.8" height="0.8" fill="#000" fill-opacity="0.35"/>
<rect x="345.14" y="95.75" width="0.8" height="0.8" fill="#000" fill-opacity="0.35"/>
<rect x="357.07" y="96.69" width="0.8" height="0.8" fill="#000" fill-opacity="0.35"/>
<rect x="347.99" y="97.32" width="0.8" height="0.8" fill="#000" fill-opacity="0.35"/>
<rect x="345.11" y="97.63" width="0.8" height="0.8" fill="#000" fill-opacity="0.35"/>
<rect x="339.83" y="105.94" width="0.8" height="0.8" fill="#000" fill-opacity="0.35"/>
<rect x="338.97" y="96.71" width="0.8" height="0.8" fill="#000" fill-opacity="0.35"/>
<rect x="346.75" y="114.14" width="0.8" height="0.8" fill="#000" fill-opacity="0.35"/>
<rect x="358.05" y="99.66" width="0.8" height="0.8" fill="#000" fill-opacity="0.35"/>
<rect x="350.66" y="102.01" width="0.8" height="0.8" fill="#000" fill-opacity="0.35"/>
<rect x="354.86" y="112.34" width="0.8" height="0.8" fill="#000" fill-opacity="0.35"/>
<rect x="362.57" y="98.07" width="0.8" height="0.8" fill="#000" fill-opacity="0.35"/>
<rect x="329.52" y="100.59" width="0.8" height="0.8" fill="#000" fill-opacity="0.35"/>
<rect x="349.32" y="98.03" width="0.8" height="0.8" fill="#000" fill-opacity="0.35"/>
<rect x="351.38" y="98.38" width="0.8" height="0.8" fill="#000" fill-opacity="0.35"/>
<rect x="352.9" y="102.29" width="0.8" height="0.8" fill="#000" fill-opacity="0.35"/>
<rect x="341.22" y="95.48" width="0.8" height="0.8" fill="#000" fill-opacity="0.35"/>
<rect x="343.58" y="98.23" width="0.8" height="0.8" fill="#000" fill-opacity="0.35"/>
<rect x="338.72" y="104.01" width="0.8" height="0.8" fill="#000" fill-opacity="0.35"/>
<rect x="358.74" y="96.12" width="0.8" height="0.8" fill="#000" fill-opacity="0.35"/>
<rect x="342.22" y="96.39" width="0.8" height="0.8" fill="#000" fill-opacity="0.35"/>
<rect x="350.68" y="101.72" width="0.8" height="0.8" fill="#000" fill-opacity="0.35"/>
<rect x="351.73" y="108.92" width="0.8" height="0.8" fill="#000" fill-opacity="0.35"/>
<rect x="351.78" y="105.95" width="0.8" height="0.8" fill="#000" fill-opacity="0.35"/>
<rect x="344.85" y="104.12" width="0.8" height="0.8" fill="#000" fill-opacity="0.35"/>
<rect x="340.51" y="107.55" width="0.8" height="0.8" fill="#000" fill-opacity="0.35"/>
<rect x="360.35" y="92.5" width="0.8" height="0.8" fill="#000" fill-opacity="0.35"/>
<rect x="340.1" y="104.75" width="0.8" height="0.8" fill="#000" fill-opacity="0.35"/>
<rect x="348.96" y="105.77" width="0.8" height="0.8" fill="#000" fill-opacity="0.35"/>
<rect x="353.02" y="101.06" width="0.8" height="0.8" fill="#000" fill-opacity="0.35"/>
<rect x="338.19" y="107.81" width="0.8" height="0.8" fill="#000" fill-opacity="0.35"/>
<rect x="348.95" y="100.96" width="0.8" height="0.8" fill="#000" fill-opacity="0.35"/>
<rect x="345.22" y="101.13" width="0.8" height="0.8" fill="#000" fill-opacity="0.35"/>
<rect x="351.49" y="92.19" width="0.8" height="0.8" fill="#000" fill-opacity="0.35"/>
<rect x="348.31" y="102.9" width="0.8" height="0.8" fill="#000" fill-opacity="0.35"/>
<rect x="337.57" y="107.01" width="0.8" height="0.8" fill="#000" fill-opacity="0.35"/>
<rect x="343.82" y="99.31" width="0.8" height="0.8" fill="#000" fill-opacity="0.35"/>
<rect x="343.81" y="97.28" width="0.8" height="0.8" fill="#000" fill-opacity="0.35"/>
<rect x="362.39" y="93.46" width="0.8" height="0.8" fill="#000" fill-opacity="0.35"/>
<rect x="347" y="99.29" width="0.8" height="0.8" fill="#000" fill-opacity="0.35"/>
<rect x="349.45" y="100.87" width="0.8" height="0.8" fill="#000" fill-opacity="0.35"/>
<rect x="344.74" y="102.14" width="0.8" height="0.8" fill="#000" fill-opacity="0.35"/>
<rect x="349.46" y="101.88" width="0.8" height="0.8" fill="#000" fill-opacity="0.35"/>
<rect x="357.75" y="97.88" width="0.8" height="0.8" fill="#000" fill-opacity="0.35"/>
<rect x="347.42" y="104.12" width="0.8" height="0.8" fill="#000" fill-opacity="0.35"/>
<rect x="346.81" y="103.72" width="0.8" height="0.8" fill="#000" fill-opacity="0.35"/>
<rect x="348.01" y="98.66" width="0.8" height="0.8" fill="#000" fill-opacity="0.35"/>
<rect x="330.42" y="98.5" width="0.8" height="0.8" fill="#000" fill-opacity="0.35"/>
<rect x="335.27" y="110.23" width="0.8" height="0.8" fill="#000" fill-opacity="0.35"/>
<rect x="358.78" y="98.39" width="0.8" height="0.8" fill="#000" fill-opacity="0.35"/>
<rect x="345.06" y="95.5" width="0.8" height="0.8" fill="#000" fill-opacity="0.35"/>
<rect x="369.99" y="103.77" width="0.8" height="0.8" fill="#000" fill-opacity="0.35"/>
<rect x="348.9" y="96.18" width="0.8" height="0.8" fill="#000" fill-opacity="0.35"/>
<rect x="345.4" y="98.01" width="0.8" height="0.8" fill="#000" fill-opacity="0.35"/>
<rect x="334.13" y="98.47" width="0.8" height="0.8" fill="#000" fill-opacity="0.35"/>
<rect x="337.68" y="99.93" width="0.8" height="0.8" fill="#000" fill-opacity="0.35"/>
<rect x="350.22" y="94.91" width="0.8" height="0.8" fill="#000" fill-opacity="0.35"/>
<rect x="352.38" y="100.97" width="0.8" height="0.8" fill="#000" fill-opacity="0.35"/>
<rect x="358.9" y="105.81" width="0.8" height="0.8" fill="#000" fill-opacity="0.35"/>
<rect x="371.5" y="100.23" width="0.8" height="0.8" fill="#000" fill-opacity="0.35"/>
<rect x="343.49" y="100.94" width="0.8" height="0.8" fill="#000" fill-opacity="0.35"/>
<rect x="350.09" y="107.45" width="0.8" height="0.8" fill="#000" fill-opacity="0.35"/>
<rect x="348.34" y="103.69" width="0.8" height="0.8" fill="#000" fill-opacity="0.35"/>
<rect x="366.23" y="101.28" width="0.8" height="0.8" fill="#000" fill-opacity="0.35"/>
<rect x="349.09" y="104.22" width="0.8" height="0.8" fill="#000" fill-opacity="0.35"/>
<rect x="351.6" y="103.93" width="0.8" height="0.8" fill="#000" fill-opacity="0.35"/>
<rect x="352.91" y="98.11" width="0.8" height="0.8" fill="#000" fill-opacity="0.35"/>
<rect x="348.79" y="102.31" width="0.8" height="0.8" fill="#000" fill-opacity="0.35"/>
<rect x="345.15" y="98.92" width="0.8" height="0.8" fill="#000" fill-opacity="0.35"/>
<rect x="346.76" y="107.37" width="0.8" height="0.8" fill="#000" fill-opacity="0.35"/>
<rect x="349.08" y="94.22" width="0.8" height="0.8" fill="#000" fill-opacity="0.35"/>
<rect x="341.12" y="114.13" width="0.8" height="0.8" fill="#000" fill-opacity="0.35"/>
<rect x="354.11" y="99.07" width="0.8" height="0.8" fill="#000" fill-opacity="0.35"/>
<rect x="348.15" y="99.38" width="0.8" height="0.8" fill="#000" fill-opacity="0.35"/>
<rect x="349.89" y="95.57" width="0.8" height="0.8" fill="#000" fill-opacity="0.35"/>
<rect x="349.18" y="100.31" width="0.8" height="0.8" fill="#000" fill-opacity="0.35"/>
<rect x="350.91" y="105.56" width="0.8" height="0.8" fill="#000" fill-opacity="0.35"/>
<rect x="330.28" y="105.22" width="0.8" height="0.8" fill="#000" fill-opacity="0.35"/>
<rect x="349.62" y="101.76" width="0.8" height="0.8" fill="#000" fill-opacity="0.35"/>
<rect x="347.89" y="103.37" width="0.8" height="0.8" fill="#000" fill-opacity="0.35"/>
<rect x="357.41" y="95.95" width="0.8" height="0.8" fill="#000" fill-opacity="0.35"/>
<rect x="350.73" y="104.8" width="0.8" height="0.8" fill="#000" fill-opacity="0.35"/>
<rect x="347.62" y="107.06" width="0.8" height="0.8" fill="#000" fill-opacity="0.35"/>
<rect x="342.88" y="109.29" width="0.8" height="0.8" fill="#000" fill-opacity="0.35"/>
<rect x="352.29" y="108.04" width="0.8" height="0.8" fill="#000" fill-opacity="0.35"/>
<rect x="359.65" y="92.72" width="0.8" height="0.8" fill="#000" fill-opacity="0.35"/>
<rect x="357.44" y="101.4" width="0.8" height="0.8" fill="#000" fill-opacity="0.35"/>
<rect x="348.08" y="98.74" width="0.8" height="0.8" fill="#000" fill-opacity="0.35"/>
<rect x="351.07" y="98.88" width="0.8" height="0.8" fill="#000" fill-opacity="0.35"/>
<rect x="348.08" y="101.16" width="0.8" height="0.8" fill="#000" fill-opacity="0.35"/>
<rect x="348.18" y="99.65" width="0.8" height="0.8" fill="#000" fill-opacity="0.35"/>
<rect x="334.68" y="105.71" width="0.8" height="0.8" fill="#000" fill-opacity="0.35"/>
<rect x="346.19" y="100.91" width="0.8" height="0.8" fill="#000" fill-opacity="0.35"/>
<rect x="343.01" y="104.1" width="0.8" height="0.8" fill="#000" fill-opacity="0.35"/>
<rect x="351.76" y="97.15" width="0.8" height="0.8" fill="#000" fill-opacity="0.35"/>
<rect x="340.26" y="97.54" width="0.8" height="0.8" fill="#000" fill-opacity="0.35"/>
<rect x="336.61" y="106.5" width="0.8" height="0.8" fill="#000" fill-opacity="0.35"/>
<rect x="348.66" y="108.75" width="0.8" height="0.8" fill="#000" fill-opacity="0.35"/>
<rect x="331.19" y="99.14" width="0.8" height="0.8" fill="#000" fill-opacity="0.35"/>
<rect x="348.17" y="98.32" width="0.8" height="0.8" fill="#000" fill-opacity="0.35"/>
<rect x="349.47" y="95.8" width="0.8" height="0.8" fill="#000" fill-opacity="0.35"/>
<rect x="359.1" y="96.5" width="0.8" height="0.8" fill="#000" fill-opacity="0.35"/>
<rect x="352.48" y="106.04" width="0.8" height="0.8" fill="#000" fill-opacity="0.35"/>
<rect x="335.44" y="102.2" width="0.8" height="0.8" fill="#000" fill-opacity="0.35"/>
<rect x="338.61" y="108.23" width="0.8" height="0.8" fill="#000" fill-opacity="0.35"/>
<rect x="329.68" y="103.08" width="0.8" height="0.8" fill="#000" fill-opacity="0.35"/>
<rect x="355.62" y="102.68" width="0.8" height="0.8" fill="#000" fill-opacity="0.35"/>
<rect x="369.44" y="92.19" width="0.8" height="0.8" fill="#000" fill-opacity="0.35"/>
<rect x="372.31" y="93.93" width="0.8" height="0.8" fill="#000" fill-opacity="0.35"/>
<rect x="348.94" y="100.52" width="0.8" height="0.8" fill="#000" fill-opacity="0.35"/>
<rect x="353" y="103.41" width="0.8" height="0.8" fill="#000" fill-opacity="0.35"/>
<rect x="361.87" y="96.89" width="0.8" height="0.8" fill="#000" fill-opacity="0.35"/>
<rect x="352.05" y="98.87" width="0.8" height="0.8" fill="#000" fill-opacity="0.35"/>
<rect x="350.01" y="100.59" width="0.8" height="0.8" fill="#000" fill-opacity="0.35"/>
<rect x="367.39" y="91.66" width="0.8" height="0.8" fill="#000" fill-opacity="0.35"/>
<rect x="368.29" y="93.07" width="0.8" height="0.8" fill="#000" fill-opacity="0.35"/>
<rect x="357.29" y="100.19" width="0.8" height="0.8" fill="#000" fill-opacity="0.35"/>
<rect x="351.54" y="107.95" width="0.8" height="0.8" fill="#000" fill-opacity="0.35"/>
<rect x="357.92" y="91.73" width="0.8" height="0.8" fill="#000" fill-opacity="0.35"/>
<rect x="361.5" y="90.78" width="0.8" height="0.8" fill="#000" fill-opacity="0.35"/>
<rect x="366.73" y="99.19" width="0.8" height="0.8" fill="#000" fill-opacity="0.35"/>
<rect x="357.97" y="102.45" width="0.8" height="0.8" fill="#000" fill-opacity="0.35"/>
<rect x="362.54" y="97.61" width="0.8" height="0.8" fill="#000" fill-opacity="0.35"/>
<rect x="376.1" y="93.73" width="0.8" height="0.8" fill="#000" fill-opacity="0.35"/>
<rect x="354.41" y="93.06" width="0.8" height="0.8" fill="#000" fill-opacity="0.35"/>
<rect x="351.08" y="93.22" width="0.8" height="0.8" fill="#000" fill-opacity="0.35"/>
<rect x="353.18" y="99.95" width="0.8" height="0.8" fill="#000" fill-opacity="0.35"/>
<rect x="349.65" y="101.18" width="0.8" height="0.8" fill="#000" fill-opacity="0.35"/>
<rect x="355.4" y="100.64" width="0.8" height="0.8" fill="#000" fill-opacity="0.35"/>
<rect x="348.1" y="98.02" width="0.8" height="0.8" fill="#000" fill-opacity="0.35"/>
<rect x="359.42" y="98.92" width="0.8" height="0.8" fill="#000" fill-opacity="0.35"/>
<rect x="352.9" y="90.23" width="0.8" height="0.8" fill="#000" fill-opacity="0.35"/>
<rect x="355.09" y="93.49" width="0.8" height="0.8" fill="#000" fill-opacity="0.35"/>
<rect x="350.37" y="97.87" width="0.8" height="0.8" fill="#000" fill-opacity="0.35"/>
<rect x="361.13" y="95.19" width="0.8" height="0.8" fill="#000" fill-opacity="0.35"/>
<rect x="361.55" y="95.25" width="0.8" height="0.8" fill="#000" fill-opacity="0.35"/>
<rect x="357.3" y="103.4" width="0.8" height="0.8" fill="#000" fill-opacity="0.35"/>
<rect x="355.93" y="90.86" width="0.8" height="0.8" fill="#000" fill-opacity="0.35"/>
<rect x="356.49" y="93.46" width="0.8" height="0.8" fill="#000" fill-opacity="0.35"/>
<rect x="367.41" y="94.46" width="0.8" height="0.8" fill="#000" fill-opacity="0.35"/>
<rect x="361.58" y="100.68" width="0.8" height="0.8" fill="#000" fill-opacity="0.35"/>
<rect x="371.72" y="98.7" width="0.8" height="0.8" fill="#000" fill-opacity="0.35"/>
<rect x="361.17" y="101.48" width="0.8" height="0.8" fill="#000" fill-opacity="0.35"/>
<rect x="350.24" y="107.79" width="0.8" height="0.8" fill="#000" fill-opacity="0.35"/>
<rect x="367.18" y="100.85" width="0.8" height="0.8" fill="#000" fill-opacity="0.35"/>
<rect x="370.72" y="90.27" width="0.8" height="0.8" fill="#000" fill-opacity="0.35"/>
<rect x="364.3" y="97.32" width="0.8" height="0.8" fill="#000" fill-opacity="0.35"/>
<rect x="364.12" y="96.8" width="0.8" height="0.8" fill="#000" fill-opacity="0.35"/>
<rect x="355.43" y="99.92" width="0.8" height="0.8" fill="#000" fill-opacity="0.35"/>
<rect x="346.37" y="104.69" width="0.8" height="0.8" fill="#000" fill-opacity="0.35"/>
<rect x="353.62" y="95.46" width="0.8" height="0.8" fill="#000" fill-opacity="0.35"/>
<rect x="361.06" y="97.23" width="0.8" height="0.8" fill="#000" fill-opacity="0.35"/>
<rect x="358.7" y="93.14" width="0.8" height="0.8" fill="#000" fill-opacity="0.35"/>
<rect x="353.39" y="98.01" width="0.8" height="0.8" fill="#000" fill-opacity="0.35"/>
<rect x="356.34" y="95.79" width="0.8" height="0.8" fill="#000" fill-opacity="0.35"/>
<rect x="351.15" y="101.12" width="0.8" height="0.8" fill="#000" fill-opacity="0.35"/>
<rect x="353.26" y="98.97" width="0.8" height="0.8" fill="#000" fill-opacity="0.35"/>
<rect x="346.64" y="90.82" width="0.8" height="0.8" fill="#000" fill-opacity="0.35"/>
<rect x="359.37" y="98.24" width="0.8" height="0.8" fill="#000" fill-opacity="0.35"/>
<rect x="358.62" y="101.16" width="0.8" height="0.8" fill="#000" fill-opacity="0.35"/>
<rect x="358.79" y="95.66" width="0.8" height="0.8" fill="#000" fill-opacity="0.35"/>
<rect x="366.71" y="94.57" width="0.8" height="0.8" fill="#000" fill-opacity="0.35"/>
<rect x="353.66" y="99.72" width="0.8" height="0.8" fill="#000" fill-opacity="0.35"/>
<rect x="353.56" y="94.49" width="0.8" height="0.8" fill="#000" fill-opacity="0.35"/>
<rect x="362.4" y="94.25" width="0.8" height="0.8" fill="#000" fill-opacity="0.35"/>
<rect x="354.34" y="98.31" width="0.8" height="0.8" fill="#000" fill-opacity="0.35"/>
<rect x="374.35" y="96.78" width="0.8" height="0.8" fill="#000" fill-opacity="0.35"/>
<rect x="347.82" y="101.63" width="0.8" height="0.8" fill="#000" fill-opacity="0.35"/>
<rect x="359.85" y="99.26" width="0.8" height="0.8" fill="#000" fill-opacity="0.35"/>
<rect x="360.55" y="99.66" width="0.8" height="0.8" fill="#000" fill-opacity="0.35"/>
<rect x="352.92" y="102.89" width="0.8" height="0.8" fill="#000" fill-opacity="0.35"/>
<rect x="358.99" y="101.13" width="0.8" height="0.8" fill="#000" fill-opacity="0.35"/>
<rect x="360.32" y="102.31" width="0.8" height="0.8" fill="#000" fill-opacity="0.35"/>
<rect x="367.14" y="97.09" width="0.8" height="0.8" fill="#000" fill-opacity="0.35"/>
<rect x="354.07" y="96.68" width="0.8" height="0.8" fill="#000" fill-opacity="0.35"/>
<rect x="362.94" y="93.88" width="0.8" height="0.8" fill="#000" fill-opacity="0.35"/>
<rect x="367.48" y="99.62" width="0.8" height="0.8" fill="#000" fill-opacity="0.35"/>
<rect x="356.62" y="94.05" width="0.8" height="0.8" fill="#000" fill-opacity="0.35"/>
<rect x="354.47" y="99.74" width="0.8" height="0.8" fill="#000" fill-opacity="0.35"/>
<rect x="340.65" y="108.26" width="0.8" height="0.8" fill="#000" fill-opacity="0.35"/>
<rect x="359.24" y="101.09" width="0.8" height="0.8" fill="#000" fill-opacity="0.35"/>
<rect x="349.2" y="100.53" width="0.8" height="0.8" fill="#000" fill-opacity="0.35"/>
<rect x="347.3" y="101.71" width="0.8" height="0.8" fill="#000" fill-opacity="0.35"/>
<rect x="350.23" y="98.41" width="0.8" height="0.8" fill="#000" fill-opacity="0.35"/>
<rect x="361.11" y="95.42" width="0.8" height="0.8" fill="#000" fill-opacity="0.35"/>
<rect x="357.65" y="97.71" width="0.8" height="0.8" fill="#000" fill-opacity="0.35"/>
<rect x="352.96" y="110.72" width="0.8" height="0.8" fill="#000" fill-opacity="0.35"/>
<rect x="356.65" y="93.12" width="0.8" height="0.8" fill="#000" fill-opacity="0.35"/>
<rect x="359.04" y="94.82" width="0.8" height="0.8" fill="#000" fill-opacity="0.35"/>
<rect x="354.94" y="92.15" width="0.8" height="0.8" fill="#000" fill-opacity="0.35"/>
<rect x="363.51" y="94.05" width="0.8" height="0.8" fill="#000" fill-opacity="0.35"/>
<rect x="355.8" y="101.81" width="0.8" height="0.8" fill="#000" fill-opacity="0.35"/>
<rect x="351.78" y="101.97" width="0.8" height="0.8" fill="#000" fill-opacity="0.35"/>
<rect x="362.56" y="99.93" width="0.8" height="0.8" fill="#000" fill-opacity="0.35"/>
<rect x="367.88" y="94.69" width="0.8" height="0.8" fill="#000" fill-opacity="0.35"/>
<rect x="359.64" y="92.46" width="0.8" height="0.8" fill="#000" fill-opacity="0.35"/>
<rect x="342.61" y="108.21" width="0.8" height="0.8" fill="#000" fill-opacity="0.35"/>
<rect x="340.06" y="99.31" width="0.8" height="0.8" fill="#000" fill-opacity="0.35"/>
<rect x="349.11" y="102.26" width="0.8" height="0.8" fill="#000" fill-opacity="0.35"/>
<rect x="361.58" y="92.21" width="0.8" height="0.8" fill="#000" fill-opacity="0.35"/>
<rect x="350.21" y="103.8" width="0.8" height="0.8" fill="#000" fill-opacity="0.35"/>
<rect x="352.76" y="91.93" width="0.8" height="0.8" fill="#000" fill-opacity="0.35"/>
<rect x="354.26" y="100.96" width="0.8" height="0.8" fill="#000" fill-opacity="0.35"/>
<rect x="352.62" y="99.03" width="0.8" height="0.8" fill="#000" fill-opacity="0.35"/>
<rect x="366.39" y="95.68" width="0.8" height="0.8" fill="#000" fill-opacity="0.35"/>
<rect x="355.81" y="92.81" width="0.8" height="0.8" fill="#000" fill-opacity="0.35"/>
<rect x="357.26" y="103.11" width="0.8" height="0.8" fill="#000" fill-opacity="0.35"/>
<rect x="356" y="100.38" width="0.8" height="0.8" fill="#000" fill-opacity="0.35"/>
<rect x="353.26" y="99.44" width="0.8" height="0.8" fill="#000" fill-opacity="0.35"/>
<rect x="358.95" y="99.55" width="0.8" height="0.8" fill="#000" fill-opacity="0.35"/>
<rect x="366.93" y="103.34" width="0.8" height="0.8" fill="#000" fill-opacity="0.35"/>
<rect x="355.05" y="106.5" width="0.8" height="0.8" fill="#000" fill-opacity="0.35"/>
<rect x="364.2" y="93.99" width="0.8" height="0.8" fill="#000" fill-opacity="0.35"/>
<rect x="359.03" y="94.58" width="0.8" height="0.8" fill="#000" fill-opacity="0.35"/>
<rect x="368.57" y="94.08" width="0.8" height="0.8" fill="#000" fill-opacity="0.35"/>
<rect x="357.46" y="100.6" width="0.8" height="0.8" fill="#000" fill-opacity="0.35"/>
<rect x="345.81" y="102.34" width="0.8" height="0.8" fill="#000" fill-opacity="0.35"/>
<rect x="350.81" y="102.58" width="0.8" height="0.8" fill="#000" fill-opacity="0.35"/>
<rect x="357.32" y="95.13" width="0.8" height="0.8" fill="#000" fill-opacity="0.35"/>
<rect x="356.09" y="97.82" width="0.8" height="0.8" fill="#000" fill-opacity="0.35"/>
<rect x="359.95" y="98.54" width="0.8" height="0.8" fill="#000" fill-opacity="0.35"/>
<rect x="368.46" y="102.24" width="0.8" height="0.8" fill="#000" fill-opacity="0.35"/>
<rect x="366.03" y="93.92" width="0.8" height="0.8" fill="#000" fill-opacity="0.35"/>
<rect x="359" y="96.86" width="0.8" height="0.8" fill="#000" fill-opacity="0.35"/>
<rect x="364.19" y="91.49" width="0.8" height="0.8" fill="#000" fill-opacity="0.35"/>
<rect x="346.17" y="98.69" width="0.8" height="0.8" fill="#000" fill-opacity="0.35"/>
<rect x="362.69" y="94.92" width="0.8" height="0.8" fill="#000" fill-opacity="0.35"/>
<rect x="362.21" y="99.7" width="0.8" height="0.8" fill="#000" fill-opacity="0.35"/>
<rect x="352" y="93.94" width="0.8" height="0.8" fill="#000" fill-opacity="0.35"/>
<rect x="357.18" y="95.85" width="0.8" height="0.8" fill="#000" fill-opacity="0.35"/>
<rect x="361.29" y="102.91" width="0.8" height="0.8" fill="#000" fill-opacity="0.35"/>
<rect x="354.71" y="91.22" width="0.8" height="0.8" fill="#000" fill-opacity="0.35"/>
<rect x="363.8" y="94.32" width="0.8" height="0.8" fill="#000" fill-opacity="0.35"/>
<rect x="361.57" y="96.44" width="0.8" height="0.8" fill="#000" fill-opacity="0.35"/>
<rect x="355.1" y="93.5" width="0.8" height="0.8" fill="#000" fill-opacity="0.35"/>
<rect x="358.87" y="95.8" width="0.8" height="0.8" fill="#000" fill-opacity="0.35"/>
<rect x="341.67" y="108.44" width="0.8" height="0.8" fill="#000" fill-opacity="0.35"/>
<rect x="353.31" y="104.82" width="0.8" height="0.8" fill="#000" fill-opacity="0.35"/>
<rect x="356.53" y="102.51" width="0.8" height="0.8" fill="#000" fill-opacity="0.35"/>
<rect x="356.81" y="91.5" width="0.8" height="0.8" fill="#000" fill-opacity="0.35"/>
<rect x="345.41" y="108.27" width="0.8" height="0.8" fill="#000" fill-opacity="0.35"/>
<rect x="360.56" y="103.46" width="0.8" height="0.8" fill="#000" fill-opacity="0.35"/>
<rect x="354.3" y="104.24" width="0.8" height="0.8" fill="#000" fill-opacity="0.35"/>
<rect x="358.54" y="91.22" width="0.8" height="0.8" fill="#000" fill-opacity="0.35"/>
<rect x="323.5" y="89.4" width="60.7" height="56.8" fill="#fff" filter="url(#speck)" opacity="0.55"/>
</g>
<line x1="346.5" y1="89.4" x2="346.5" y2="146.2" stroke="#5a5a5a" stroke-width="1" shape-rendering="crispEdges"/>
<line x1="323.5" y1="112.5" x2="384.2" y2="112.5" stroke="#5a5a5a" stroke-width="1" shape-rendering="crispEdges"/>
<rect x="323.5" y="89.4" width="60.7" height="56.8" fill="none" stroke="#a0a0a0" stroke-width="0.9"/>
<line x1="322.3" y1="97.5" x2="323.5" y2="97.5" stroke="#666" stroke-width="1" shape-rendering="crispEdges"/>
<line x1="322.3" y1="112.5" x2="323.5" y2="112.5" stroke="#666" stroke-width="1" shape-rendering="crispEdges"/>
<line x1="322.3" y1="124.5" x2="323.5" y2="124.5" stroke="#666" stroke-width="1" shape-rendering="crispEdges"/>
<line x1="322.3" y1="135.5" x2="323.5" y2="135.5" stroke="#666" stroke-width="1" shape-rendering="crispEdges"/>
<line x1="322.3" y1="143.5" x2="323.5" y2="143.5" stroke="#666" stroke-width="1" shape-rendering="crispEdges"/>
<line x1="329.5" y1="146.2" x2="329.5" y2="147.4" stroke="#666" stroke-width="1" shape-rendering="crispEdges"/>
<line x1="343.5" y1="146.2" x2="343.5" y2="147.4" stroke="#666" stroke-width="1" shape-rendering="crispEdges"/>
<line x1="355.5" y1="146.2" x2="355.5" y2="147.4" stroke="#666" stroke-width="1" shape-rendering="crispEdges"/>
<line x1="367.5" y1="146.2" x2="367.5" y2="147.4" stroke="#666" stroke-width="1" shape-rendering="crispEdges"/>
<text x="382.6" y="97.5" font-size="8.2" text-anchor="end" fill="#1e1e1e" stroke="#1e1e1e" stroke-width="0.18">89</text>
<line x1="250.5" y1="78.5" x2="250.5" y2="58.5" stroke="#222" stroke-width="1" shape-rendering="crispEdges"/>
<path d="M250 52.8L247.4 59L252.6 59Z" fill="#222"/>
<text x="252.9" y="41.4" font-size="8.8" text-anchor="middle" fill="#1e1e1e" stroke="#1e1e1e" stroke-width="0.18" transform="rotate(-90 252.9 41.4)" textLength="15.4" lengthAdjust="spacingAndGlyphs">CD4</text>
<line x1="249.5" y1="148" x2="249.5" y2="128.4" stroke="#222" stroke-width="1" shape-rendering="crispEdges"/>
<path d="M249.3 122.7L246.7 128.9L251.9 128.9Z" fill="#222"/>
<text x="252.4" y="111.8" font-size="8.8" text-anchor="middle" fill="#1e1e1e" stroke="#1e1e1e" stroke-width="0.18" transform="rotate(-90 252.4 111.8)" textLength="15.6" lengthAdjust="spacingAndGlyphs">CD8</text>
<line x1="268" y1="157.5" x2="299" y2="157.5" stroke="#222" stroke-width="1" shape-rendering="crispEdges"/>
<text x="303" y="161.4" font-size="10.2" fill="#1e1e1e" stroke="#1e1e1e" stroke-width="0.18" textLength="32" lengthAdjust="spacingAndGlyphs">SLAMF7</text>
<line x1="339.5" y1="157.5" x2="368" y2="157.5" stroke="#222" stroke-width="1" shape-rendering="crispEdges"/>
<path d="M374 157L367.5 154.4L367.5 159.6Z" fill="#222"/>
<text x="8.8" y="195.8" font-size="11.2" font-weight="bold" fill="#000">B</text>
<line x1="56.5" y1="209.6" x2="56.5" y2="297.5" stroke="#111" stroke-width="1" shape-rendering="crispEdges"/>
<line x1="156.5" y1="209.6" x2="156.5" y2="297.5" stroke="#111" stroke-width="1" shape-rendering="crispEdges"/>
<line x1="56.5" y1="297.5" x2="156.7" y2="297.5" stroke="#111" stroke-width="1" shape-rendering="crispEdges"/>
<line x1="52.8" y1="297.5" x2="56.5" y2="297.5" stroke="#111" stroke-width="1" shape-rendering="crispEdges"/>
<line x1="156.7" y1="297.5" x2="160.3" y2="297.5" stroke="#111" stroke-width="1" shape-rendering="crispEdges"/>
<text x="0" y="0" font-size="8.3" text-anchor="end" fill="#1e1e1e" stroke="#1e1e1e" stroke-width="0.18" transform="translate(49.6 300) scale(0.88 1)">0</text>
<text x="0" y="0" font-size="8.3" fill="#1e1e1e" stroke="#1e1e1e" stroke-width="0.18" transform="translate(163.4 300) scale(0.88 1)">0</text>
<line x1="52.8" y1="276.5" x2="56.5" y2="276.5" stroke="#111" stroke-width="1" shape-rendering="crispEdges"/>
<line x1="156.7" y1="276.5" x2="160.3" y2="276.5" stroke="#111" stroke-width="1" shape-rendering="crispEdges"/>
<text x="0" y="0" font-size="8.3" text-anchor="end" fill="#1e1e1e" stroke="#1e1e1e" stroke-width="0.18" transform="translate(49.6 279.05) scale(0.88 1)">25</text>
<text x="0" y="0" font-size="8.3" fill="#1e1e1e" stroke="#1e1e1e" stroke-width="0.18" transform="translate(163.4 279.05) scale(0.88 1)">25</text>
<line x1="52.8" y1="255.5" x2="56.5" y2="255.5" stroke="#111" stroke-width="1" shape-rendering="crispEdges"/>
<line x1="156.7" y1="255.5" x2="160.3" y2="255.5" stroke="#111" stroke-width="1" shape-rendering="crispEdges"/>
<text x="0" y="0" font-size="8.3" text-anchor="end" fill="#1e1e1e" stroke="#1e1e1e" stroke-width="0.18" transform="translate(49.6 258.1) scale(0.88 1)">50</text>
<text x="0" y="0" font-size="8.3" fill="#1e1e1e" stroke="#1e1e1e" stroke-width="0.18" transform="translate(163.4 258.1) scale(0.88 1)">50</text>
<line x1="52.8" y1="234.5" x2="56.5" y2="234.5" stroke="#111" stroke-width="1" shape-rendering="crispEdges"/>
<line x1="156.7" y1="234.5" x2="160.3" y2="234.5" stroke="#111" stroke-width="1" shape-rendering="crispEdges"/>
<text x="0" y="0" font-size="8.3" text-anchor="end" fill="#1e1e1e" stroke="#1e1e1e" stroke-width="0.18" transform="translate(49.6 237.15) scale(0.88 1)">75</text>
<text x="0" y="0" font-size="8.3" fill="#1e1e1e" stroke="#1e1e1e" stroke-width="0.18" transform="translate(163.4 237.15) scale(0.88 1)">75</text>
<line x1="52.8" y1="213.5" x2="56.5" y2="213.5" stroke="#111" stroke-width="1" shape-rendering="crispEdges"/>
<line x1="156.7" y1="213.5" x2="160.3" y2="213.5" stroke="#111" stroke-width="1" shape-rendering="crispEdges"/>
<text x="0" y="0" font-size="8.3" text-anchor="end" fill="#1e1e1e" stroke="#1e1e1e" stroke-width="0.18" transform="translate(49.6 216.2) scale(0.88 1)">100</text>
<text x="0" y="0" font-size="8.3" fill="#1e1e1e" stroke="#1e1e1e" stroke-width="0.18" transform="translate(163.4 216.2) scale(0.88 1)">100</text>
<line x1="63.5" y1="264.8" x2="63.5" y2="229.6" stroke="#222" stroke-width="1" shape-rendering="crispEdges"/>
<line x1="62.25" y1="229.5" x2="65.25" y2="229.5" stroke="#222" stroke-width="1" shape-rendering="crispEdges"/>
<rect x="60.6" y="263.8" width="6.3" height="33.2" fill="#a8032c" stroke="#9a0a30" stroke-width="0.5"/>
<line x1="71.5" y1="246.8" x2="71.5" y2="235.3" stroke="#222" stroke-width="1" shape-rendering="crispEdges"/>
<line x1="69.8" y1="235.5" x2="72.8" y2="235.5" stroke="#222" stroke-width="1" shape-rendering="crispEdges"/>
<rect x="68" y="245.8" width="6.6" height="51.2" fill="url(#stR)"/>
<line x1="89.5" y1="260.2" x2="89.5" y2="219.3" stroke="#222" stroke-width="1" shape-rendering="crispEdges"/>
<line x1="88.35" y1="219.5" x2="91.35" y2="219.5" stroke="#222" stroke-width="1" shape-rendering="crispEdges"/>
<rect x="86.7" y="259.2" width="6.3" height="37.8" fill="#2d4a80" stroke="#1f3a70" stroke-width="0.5"/>
<line x1="97.5" y1="236" x2="97.5" y2="230.8" stroke="#222" stroke-width="1" shape-rendering="crispEdges"/>
<line x1="95.6" y1="230.5" x2="98.6" y2="230.5" stroke="#222" stroke-width="1" shape-rendering="crispEdges"/>
<rect x="93.9" y="235" width="6.4" height="62" fill="url(#stB)"/>
<line x1="115.5" y1="282.5" x2="115.5" y2="268.5" stroke="#222" stroke-width="1" shape-rendering="crispEdges"/>
<line x1="114.2" y1="268.5" x2="117.2" y2="268.5" stroke="#222" stroke-width="1" shape-rendering="crispEdges"/>
<rect x="112.6" y="281.5" width="6.2" height="15.5" fill="#a8032c" stroke="#9a0a30" stroke-width="0.5"/>
<line x1="123.5" y1="246.4" x2="123.5" y2="235" stroke="#222" stroke-width="1" shape-rendering="crispEdges"/>
<line x1="121.7" y1="235.5" x2="124.7" y2="235.5" stroke="#222" stroke-width="1" shape-rendering="crispEdges"/>
<rect x="120" y="245.4" width="6.4" height="51.6" fill="url(#stR)"/>
<line x1="141.5" y1="278.7" x2="141.5" y2="254.2" stroke="#222" stroke-width="1" shape-rendering="crispEdges"/>
<line x1="140.2" y1="254.5" x2="143.2" y2="254.5" stroke="#222" stroke-width="1" shape-rendering="crispEdges"/>
<rect x="138.5" y="277.7" width="6.4" height="19.3" fill="#2d4a80" stroke="#1f3a70" stroke-width="0.5"/>
<line x1="149.5" y1="259.3" x2="149.5" y2="244.3" stroke="#222" stroke-width="1" shape-rendering="crispEdges"/>
<line x1="147.6" y1="244.5" x2="150.6" y2="244.5" stroke="#222" stroke-width="1" shape-rendering="crispEdges"/>
<rect x="145.8" y="258.3" width="6.6" height="38.7" fill="url(#stB)"/>
<line x1="56.5" y1="297.5" x2="156.7" y2="297.5" stroke="#111" stroke-width="1" shape-rendering="crispEdges"/>
<text x="82.7" y="198.2" font-size="8.4" text-anchor="middle" fill="#1e1e1e" stroke="#1e1e1e" stroke-width="0.18" textLength="16.2" lengthAdjust="spacingAndGlyphs">CD4</text>
<line x1="65" y1="200.5" x2="96.5" y2="200.5" stroke="#222" stroke-width="1" shape-rendering="crispEdges"/>
<text x="133.6" y="198.5" font-size="8.4" text-anchor="middle" fill="#1e1e1e" stroke="#1e1e1e" stroke-width="0.18" textLength="16.4" lengthAdjust="spacingAndGlyphs">CD8</text>
<line x1="118.2" y1="200.5" x2="148.9" y2="200.5" stroke="#222" stroke-width="1" shape-rendering="crispEdges"/>
<text x="76.8" y="207.8" font-size="7.8" text-anchor="middle" fill="#1e1e1e" stroke="#1e1e1e" stroke-width="0.18">ns</text>
<path d="M63.4 214.4L63.4 212L90 212L90 214.4" fill="none" stroke="#222" stroke-width="1" shape-rendering="crispEdges"/>
<path d="M71.2 217.4L71.2 215L98.2 215L98.2 217.4" fill="none" stroke="#222" stroke-width="1" shape-rendering="crispEdges"/>
<text x="129" y="223.5" font-size="7.8" text-anchor="middle" fill="#1e1e1e" stroke="#1e1e1e" stroke-width="0.18">ns</text>
<path d="M115 229.2L115 226.6L141.2 226.6L141.2 229.2" fill="none" stroke="#222" stroke-width="1" shape-rendering="crispEdges"/>
<path d="M123 232L123 229.4L149.5 229.4L149.5 232" fill="none" stroke="#222" stroke-width="1" shape-rendering="crispEdges"/>
<text x="30.9" y="253.6" font-size="9.6" text-anchor="middle" fill="#1e1e1e" transform="rotate(-90 30.9 253.6)">Cells (x10<tspan font-size="6.4" dy="-3.6">6</tspan><tspan dy="3.6">)</tspan></text>
<text x="187.3" y="253" font-size="8.8" text-anchor="middle" fill="#1e1e1e" stroke="#1e1e1e" stroke-width="0.18" transform="rotate(-90 187.3 253)" textLength="38" lengthAdjust="spacingAndGlyphs">CAR+ (%)</text>
<text x="72" y="305.3" font-size="8.8" text-anchor="end" fill="#1e1e1e" stroke="#1e1e1e" stroke-width="0.18" transform="rotate(-53 72 305.3)" textLength="32.3" lengthAdjust="spacingAndGlyphs">SLAMF7</text>
<text x="77" y="314.9" font-size="8.8" text-anchor="end" fill="#1e1e1e" stroke="#1e1e1e" stroke-width="0.18" transform="rotate(-53 77 314.9)" textLength="19.5" lengthAdjust="spacingAndGlyphs">-CAR</text>
<text x="124" y="305.3" font-size="8.8" text-anchor="end" fill="#1e1e1e" stroke="#1e1e1e" stroke-width="0.18" transform="rotate(-53 124 305.3)" textLength="32.3" lengthAdjust="spacingAndGlyphs">SLAMF7</text>
<text x="129" y="314.9" font-size="8.8" text-anchor="end" fill="#1e1e1e" stroke="#1e1e1e" stroke-width="0.18" transform="rotate(-53 129 314.9)" textLength="19.5" lengthAdjust="spacingAndGlyphs">-CAR</text>
<text x="98" y="304.6" font-size="8.8" text-anchor="end" fill="#1e1e1e" stroke="#1e1e1e" stroke-width="0.18" transform="rotate(-53 98 304.6)" textLength="25.3" lengthAdjust="spacingAndGlyphs">control</text>
<text x="150" y="304.6" font-size="8.8" text-anchor="end" fill="#1e1e1e" stroke="#1e1e1e" stroke-width="0.18" transform="rotate(-53 150 304.6)" textLength="25.3" lengthAdjust="spacingAndGlyphs">control</text>
<rect x="48.2" y="334.4" width="12.8" height="5.4" fill="#a8032c"/>
<text x="64.3" y="339.6" font-size="7.5" fill="#1e1e1e" stroke="#1e1e1e" stroke-width="0.18" textLength="33.7" lengthAdjust="spacingAndGlyphs">Total cells</text>
<rect x="106.8" y="334.4" width="12.7" height="5.4" fill="url(#stR)"/>
<text x="122.2" y="339.6" font-size="7.6" fill="#1e1e1e" stroke="#1e1e1e" stroke-width="0.18" textLength="37.8" lengthAdjust="spacingAndGlyphs">CAR+ cells</text>
<line x1="56.5" y1="360.1" x2="56.5" y2="448.9" stroke="#111" stroke-width="1" shape-rendering="crispEdges"/>
<line x1="53.1" y1="448.5" x2="141.5" y2="448.5" stroke="#111" stroke-width="1" shape-rendering="crispEdges"/>
<line x1="53.1" y1="448.5" x2="56.9" y2="448.5" stroke="#111" stroke-width="1" shape-rendering="crispEdges"/>
<text x="0" y="0" font-size="8.3" text-anchor="end" fill="#1e1e1e" stroke="#1e1e1e" stroke-width="0.18" transform="translate(48.6 451.4) scale(0.88 1)">0</text>
<line x1="53.1" y1="431.5" x2="56.9" y2="431.5" stroke="#111" stroke-width="1" shape-rendering="crispEdges"/>
<text x="0" y="0" font-size="8.3" text-anchor="end" fill="#1e1e1e" stroke="#1e1e1e" stroke-width="0.18" transform="translate(48.6 434.52) scale(0.88 1)">10</text>
<line x1="53.1" y1="414.5" x2="56.9" y2="414.5" stroke="#111" stroke-width="1" shape-rendering="crispEdges"/>
<text x="0" y="0" font-size="8.3" text-anchor="end" fill="#1e1e1e" stroke="#1e1e1e" stroke-width="0.18" transform="translate(48.6 417.64) scale(0.88 1)">20</text>
<line x1="53.1" y1="397.5" x2="56.9" y2="397.5" stroke="#111" stroke-width="1" shape-rendering="crispEdges"/>
<text x="0" y="0" font-size="8.3" text-anchor="end" fill="#1e1e1e" stroke="#1e1e1e" stroke-width="0.18" transform="translate(48.6 400.76) scale(0.88 1)">30</text>
<line x1="53.1" y1="380.5" x2="56.9" y2="380.5" stroke="#111" stroke-width="1" shape-rendering="crispEdges"/>
<text x="0" y="0" font-size="8.3" text-anchor="end" fill="#1e1e1e" stroke="#1e1e1e" stroke-width="0.18" transform="translate(48.6 383.88) scale(0.88 1)">40</text>
<line x1="53.1" y1="364.5" x2="56.9" y2="364.5" stroke="#111" stroke-width="1" shape-rendering="crispEdges"/>
<text x="0" y="0" font-size="8.3" text-anchor="end" fill="#1e1e1e" stroke="#1e1e1e" stroke-width="0.18" transform="translate(48.6 367) scale(0.88 1)">50</text>
<line x1="65.5" y1="404.2" x2="65.5" y2="383" stroke="#222" stroke-width="1" shape-rendering="crispEdges"/>
<line x1="62.95" y1="383.5" x2="67.35" y2="383.5" stroke="#222" stroke-width="1" shape-rendering="crispEdges"/>
<rect x="59.3" y="403.2" width="11.7" height="45.2" fill="#a8032c"/>
<line x1="82.5" y1="405.9" x2="82.5" y2="384.3" stroke="#222" stroke-width="1" shape-rendering="crispEdges"/>
<line x1="79.95" y1="384.5" x2="84.35" y2="384.5" stroke="#222" stroke-width="1" shape-rendering="crispEdges"/>
<rect x="76.4" y="404.9" width="11.5" height="43.5" fill="#2d4a80"/>
<line x1="116.5" y1="412.2" x2="116.5" y2="382.6" stroke="#222" stroke-width="1" shape-rendering="crispEdges"/>
<line x1="113.8" y1="382.5" x2="118.2" y2="382.5" stroke="#222" stroke-width="1" shape-rendering="crispEdges"/>
<rect x="110" y="411.2" width="12" height="37.2" fill="#a8032c"/>
<line x1="133.5" y1="406.4" x2="133.5" y2="391.8" stroke="#222" stroke-width="1" shape-rendering="crispEdges"/>
<line x1="130.95" y1="391.5" x2="135.35" y2="391.5" stroke="#222" stroke-width="1" shape-rendering="crispEdges"/>
<rect x="127.4" y="405.4" width="11.5" height="43" fill="#2d4a80"/>
<line x1="53.1" y1="448.5" x2="141.5" y2="448.5" stroke="#111" stroke-width="1" shape-rendering="crispEdges"/>
<path d="M64.3 380.3L64.3 378.3L82.5 378.3L82.5 380.3" fill="none" stroke="#222" stroke-width="1" shape-rendering="crispEdges"/>
<text x="73.1" y="375.2" font-size="7.8" text-anchor="middle" fill="#1e1e1e" stroke="#1e1e1e" stroke-width="0.18">ns</text>
<path d="M115.4 380.8L115.4 378.8L133.8 378.8L133.8 380.8" fill="none" stroke="#222" stroke-width="1" shape-rendering="crispEdges"/>
<text x="125.2" y="375.4" font-size="7.8" text-anchor="middle" fill="#1e1e1e" stroke="#1e1e1e" stroke-width="0.18">ns</text>
<text x="73.2" y="459.4" font-size="9" text-anchor="middle" fill="#1e1e1e" stroke="#1e1e1e" stroke-width="0.18" textLength="15.8" lengthAdjust="spacingAndGlyphs">CD4</text>
<text x="124" y="459.4" font-size="9" text-anchor="middle" fill="#1e1e1e" stroke="#1e1e1e" stroke-width="0.18" textLength="15.6" lengthAdjust="spacingAndGlyphs">CD8</text>
<text x="33.0" y="404.6" font-size="9.6" text-anchor="middle" fill="#1e1e1e" transform="rotate(-90 33.0 404.6)">Cells (x10<tspan font-size="6.4" dy="-3.6">6</tspan><tspan dy="3.6">)</tspan></text>
<rect x="49.2" y="467" width="11.7" height="5.6" fill="#a8032c"/>
<text x="64.6" y="472.3" font-size="7.5" fill="#1e1e1e" stroke="#1e1e1e" stroke-width="0.18" textLength="47.7" lengthAdjust="spacingAndGlyphs">SLAMF7-CAR</text>
<rect x="121.6" y="467" width="12.2" height="5.6" fill="#2d4a80"/>
<text x="137" y="472.3" font-size="7.6" fill="#1e1e1e" stroke="#1e1e1e" stroke-width="0.18" textLength="23" lengthAdjust="spacingAndGlyphs">control</text>
<text x="228.9" y="195.8" font-size="11.2" font-weight="bold" fill="#000">C</text>
<line x1="263.5" y1="208.5" x2="263.5" y2="297.5" stroke="#111" stroke-width="1" shape-rendering="crispEdges"/>
<line x1="263.2" y1="297.5" x2="320.8" y2="297.5" stroke="#111" stroke-width="1" shape-rendering="crispEdges"/>
<line x1="259.6" y1="297.5" x2="263.2" y2="297.5" stroke="#111" stroke-width="1" shape-rendering="crispEdges"/>
<text x="0" y="0" font-size="8.5" text-anchor="end" fill="#1e1e1e" stroke="#1e1e1e" stroke-width="0.18" transform="translate(256.7 300) scale(0.87 1)">0</text>
<line x1="259.6" y1="280.5" x2="263.2" y2="280.5" stroke="#111" stroke-width="1" shape-rendering="crispEdges"/>
<text x="0" y="0" font-size="8.5" text-anchor="end" fill="#1e1e1e" stroke="#1e1e1e" stroke-width="0.18" transform="translate(256.7 283.04) scale(0.87 1)">20</text>
<line x1="259.6" y1="263.5" x2="263.2" y2="263.5" stroke="#111" stroke-width="1" shape-rendering="crispEdges"/>
<text x="0" y="0" font-size="8.5" text-anchor="end" fill="#1e1e1e" stroke="#1e1e1e" stroke-width="0.18" transform="translate(256.7 266.08) scale(0.87 1)">40</text>
<line x1="259.6" y1="246.5" x2="263.2" y2="246.5" stroke="#111" stroke-width="1" shape-rendering="crispEdges"/>
<text x="0" y="0" font-size="8.5" text-anchor="end" fill="#1e1e1e" stroke="#1e1e1e" stroke-width="0.18" transform="translate(256.7 249.12) scale(0.87 1)">60</text>
<line x1="259.6" y1="229.5" x2="263.2" y2="229.5" stroke="#111" stroke-width="1" shape-rendering="crispEdges"/>
<text x="0" y="0" font-size="8.5" text-anchor="end" fill="#1e1e1e" stroke="#1e1e1e" stroke-width="0.18" transform="translate(256.7 232.16) scale(0.87 1)">80</text>
<line x1="259.6" y1="212.5" x2="263.2" y2="212.5" stroke="#111" stroke-width="1" shape-rendering="crispEdges"/>
<text x="0" y="0" font-size="8.5" text-anchor="end" fill="#1e1e1e" stroke="#1e1e1e" stroke-width="0.18" transform="translate(256.7 215.2) scale(0.87 1)">100</text>
<path d="M271.2 275.8L285.3 284.28L299.4 288.52L313.5 287.67" fill="none" stroke="#a8143c" stroke-width="1.6" stroke-linejoin="round"/>
<circle cx="271.2" cy="275.8" r="2.02" fill="#a8143c"/>
<circle cx="285.3" cy="284.28" r="2.02" fill="#a8143c"/>
<circle cx="299.4" cy="288.52" r="2.02" fill="#a8143c"/>
<circle cx="313.5" cy="287.67" r="2.02" fill="#a8143c"/>
<path d="M271.2 285.98L285.3 294.46L299.4 297L313.5 297" fill="none" stroke="#74b057" stroke-width="1.6" stroke-linejoin="round"/>
<path d="M269.07 284.52L273.33 284.52L271.2 288.1Z" fill="#74b057"/>
<path d="M283.17 293L287.43 293L285.3 296.58Z" fill="#74b057"/>
<path d="M297.27 295.54L301.53 295.54L299.4 299.13Z" fill="#74b057"/>
<path d="M311.37 295.54L315.63 295.54L313.5 299.13Z" fill="#74b057"/>
<path d="M271.2 278.34L285.3 285.13L299.4 297L313.5 297" fill="none" stroke="#30244a" stroke-width="1.6" stroke-linejoin="round"/>
<path d="M269.07 279.8L273.33 279.8L271.2 276.22Z" fill="#30244a"/>
<path d="M283.17 286.58L287.43 286.58L285.3 283Z" fill="#30244a"/>
<path d="M297.27 298.46L301.53 298.46L299.4 294.87Z" fill="#30244a"/>
<path d="M311.37 298.46L315.63 298.46L313.5 294.87Z" fill="#30244a"/>
<path d="M271.2 291.91L285.3 297L299.4 297L313.5 297" fill="none" stroke="#2b4377" stroke-width="1.6" stroke-linejoin="round"/>
<rect x="269.3" y="290.01" width="3.81" height="3.81" fill="#2b4377"/>
<rect x="283.4" y="295.1" width="3.81" height="3.81" fill="#2b4377"/>
<rect x="297.5" y="295.1" width="3.81" height="3.81" fill="#2b4377"/>
<rect x="311.6" y="295.1" width="3.81" height="3.81" fill="#2b4377"/>
<text x="272.8" y="304.7" font-size="8.4" text-anchor="end" fill="#1e1e1e" stroke="#1e1e1e" stroke-width="0.18" transform="rotate(-51 272.8 304.7)">20:1</text>
<text x="286.9" y="304.7" font-size="8.4" text-anchor="end" fill="#1e1e1e" stroke="#1e1e1e" stroke-width="0.18" transform="rotate(-51 286.9 304.7)">10:1</text>
<text x="301" y="304.7" font-size="8.4" text-anchor="end" fill="#1e1e1e" stroke="#1e1e1e" stroke-width="0.18" transform="rotate(-51 301 304.7)">5:1</text>
<text x="315.1" y="304.7" font-size="8.4" text-anchor="end" fill="#1e1e1e" stroke="#1e1e1e" stroke-width="0.18" transform="rotate(-51 315.1 304.7)">2.5:1</text>
<text x="292" y="203" font-size="8.5" text-anchor="middle" fill="#1e1e1e" stroke="#1e1e1e" stroke-width="0.18">CD4 cells 4h</text>
<text x="288.5" y="332.5" font-size="11" text-anchor="middle" fill="#1e1e1e" stroke="#1e1e1e" stroke-width="0.18" textLength="11.1" lengthAdjust="spacingAndGlyphs">E:T</text>
<text x="234.6" y="252.9" font-size="8.5" text-anchor="middle" fill="#1e1e1e" stroke="#1e1e1e" stroke-width="0.18" transform="rotate(-90 234.6 252.9)" textLength="67" lengthAdjust="spacingAndGlyphs">Specific lysis (%)</text>
<line x1="368.5" y1="208.5" x2="368.5" y2="297.5" stroke="#111" stroke-width="1" shape-rendering="crispEdges"/>
<line x1="368.3" y1="297.5" x2="426" y2="297.5" stroke="#111" stroke-width="1" shape-rendering="crispEdges"/>
<line x1="364.7" y1="297.5" x2="368.3" y2="297.5" stroke="#111" stroke-width="1" shape-rendering="crispEdges"/>
<text x="0" y="0" font-size="8.5" text-anchor="end" fill="#1e1e1e" stroke="#1e1e1e" stroke-width="0.18" transform="translate(361.8 300) scale(0.87 1)">0</text>
<line x1="364.7" y1="280.5" x2="368.3" y2="280.5" stroke="#111" stroke-width="1" shape-rendering="crispEdges"/>
<text x="0" y="0" font-size="8.5" text-anchor="end" fill="#1e1e1e" stroke="#1e1e1e" stroke-width="0.18" transform="translate(361.8 283.04) scale(0.87 1)">20</text>
<line x1="364.7" y1="263.5" x2="368.3" y2="263.5" stroke="#111" stroke-width="1" shape-rendering="crispEdges"/>
<text x="0" y="0" font-size="8.5" text-anchor="end" fill="#1e1e1e" stroke="#1e1e1e" stroke-width="0.18" transform="translate(361.8 266.08) scale(0.87 1)">40</text>
<line x1="364.7" y1="246.5" x2="368.3" y2="246.5" stroke="#111" stroke-width="1" shape-rendering="crispEdges"/>
<text x="0" y="0" font-size="8.5" text-anchor="end" fill="#1e1e1e" stroke="#1e1e1e" stroke-width="0.18" transform="translate(361.8 249.12) scale(0.87 1)">60</text>
<line x1="364.7" y1="229.5" x2="368.3" y2="229.5" stroke="#111" stroke-width="1" shape-rendering="crispEdges"/>
<text x="0" y="0" font-size="8.5" text-anchor="end" fill="#1e1e1e" stroke="#1e1e1e" stroke-width="0.18" transform="translate(361.8 232.16) scale(0.87 1)">80</text>
<line x1="364.7" y1="212.5" x2="368.3" y2="212.5" stroke="#111" stroke-width="1" shape-rendering="crispEdges"/>
<text x="0" y="0" font-size="8.5" text-anchor="end" fill="#1e1e1e" stroke="#1e1e1e" stroke-width="0.18" transform="translate(361.8 215.2) scale(0.87 1)">100</text>
<line x1="368.8" y1="297" x2="426" y2="297" stroke="#8a1838" stroke-width="1.6" shape-rendering="crispEdges"/>
<path d="M376.3 297L390.4 297L404.5 297L418.6 297" fill="none" stroke="#a8143c" stroke-width="1.6" stroke-linejoin="round"/>
<circle cx="376.3" cy="297" r="2.02" fill="#a8143c"/>
<circle cx="390.4" cy="297" r="2.02" fill="#a8143c"/>
<circle cx="404.5" cy="297" r="2.02" fill="#a8143c"/>
<circle cx="418.6" cy="297" r="2.02" fill="#a8143c"/>
<path d="M376.3 256.3L390.4 248.66L404.5 257.99L418.6 263.93" fill="none" stroke="#74b057" stroke-width="1.6" stroke-linejoin="round"/>
<path d="M374.17 254.84L378.43 254.84L376.3 258.42Z" fill="#74b057"/>
<path d="M388.27 247.21L392.53 247.21L390.4 250.79Z" fill="#74b057"/>
<path d="M402.37 256.54L406.63 256.54L404.5 260.12Z" fill="#74b057"/>
<path d="M416.47 262.47L420.73 262.47L418.6 266.06Z" fill="#74b057"/>
<path d="M376.3 221.53L390.4 230.01L404.5 242.73L418.6 255.45" fill="none" stroke="#30244a" stroke-width="1.6" stroke-linejoin="round"/>
<path d="M374.17 222.98L378.43 222.98L376.3 219.4Z" fill="#30244a"/>
<path d="M388.27 231.46L392.53 231.46L390.4 227.88Z" fill="#30244a"/>
<path d="M402.37 244.18L406.63 244.18L404.5 240.6Z" fill="#30244a"/>
<path d="M416.47 256.9L420.73 256.9L418.6 253.32Z" fill="#30244a"/>
<path d="M376.3 221.53L390.4 223.22L404.5 232.55L418.6 255.45" fill="none" stroke="#2b4377" stroke-width="1.6" stroke-linejoin="round"/>
<rect x="374.4" y="219.62" width="3.81" height="3.81" fill="#2b4377"/>
<rect x="388.5" y="221.32" width="3.81" height="3.81" fill="#2b4377"/>
<rect x="402.6" y="230.65" width="3.81" height="3.81" fill="#2b4377"/>
<rect x="416.7" y="253.54" width="3.81" height="3.81" fill="#2b4377"/>
<text x="377.9" y="304.7" font-size="8.4" text-anchor="end" fill="#1e1e1e" stroke="#1e1e1e" stroke-width="0.18" transform="rotate(-51 377.9 304.7)">20:1</text>
<text x="392" y="304.7" font-size="8.4" text-anchor="end" fill="#1e1e1e" stroke="#1e1e1e" stroke-width="0.18" transform="rotate(-51 392 304.7)">10:1</text>
<text x="406.1" y="304.7" font-size="8.4" text-anchor="end" fill="#1e1e1e" stroke="#1e1e1e" stroke-width="0.18" transform="rotate(-51 406.1 304.7)">5:1</text>
<text x="420.2" y="304.7" font-size="8.4" text-anchor="end" fill="#1e1e1e" stroke="#1e1e1e" stroke-width="0.18" transform="rotate(-51 420.2 304.7)">2.5:1</text>
<text x="397.3" y="203" font-size="8.5" text-anchor="middle" fill="#1e1e1e" stroke="#1e1e1e" stroke-width="0.18">CD4 cells 20 h</text>
<text x="392.3" y="332.6" font-size="11" text-anchor="middle" fill="#1e1e1e" stroke="#1e1e1e" stroke-width="0.18" textLength="11.1" lengthAdjust="spacingAndGlyphs">E:T</text>
<text x="340.6" y="252.6" font-size="8.5" text-anchor="middle" fill="#1e1e1e" stroke="#1e1e1e" stroke-width="0.18" transform="rotate(-90 340.6 252.6)" textLength="67" lengthAdjust="spacingAndGlyphs">Specific lysis (%)</text>
<line x1="262.5" y1="360.8" x2="262.5" y2="448.3" stroke="#111" stroke-width="1" shape-rendering="crispEdges"/>
<line x1="262.5" y1="447.5" x2="320.5" y2="447.5" stroke="#111" stroke-width="1" shape-rendering="crispEdges"/>
<line x1="258.9" y1="447.5" x2="262.5" y2="447.5" stroke="#111" stroke-width="1" shape-rendering="crispEdges"/>
<text x="0" y="0" font-size="8.5" text-anchor="end" fill="#1e1e1e" stroke="#1e1e1e" stroke-width="0.18" transform="translate(256 450.8) scale(0.87 1)">0</text>
<line x1="258.9" y1="430.5" x2="262.5" y2="430.5" stroke="#111" stroke-width="1" shape-rendering="crispEdges"/>
<text x="0" y="0" font-size="8.5" text-anchor="end" fill="#1e1e1e" stroke="#1e1e1e" stroke-width="0.18" transform="translate(256 433.84) scale(0.87 1)">20</text>
<line x1="258.9" y1="413.5" x2="262.5" y2="413.5" stroke="#111" stroke-width="1" shape-rendering="crispEdges"/>
<text x="0" y="0" font-size="8.5" text-anchor="end" fill="#1e1e1e" stroke="#1e1e1e" stroke-width="0.18" transform="translate(256 416.88) scale(0.87 1)">40</text>
<line x1="258.9" y1="396.5" x2="262.5" y2="396.5" stroke="#111" stroke-width="1" shape-rendering="crispEdges"/>
<text x="0" y="0" font-size="8.5" text-anchor="end" fill="#1e1e1e" stroke="#1e1e1e" stroke-width="0.18" transform="translate(256 399.92) scale(0.87 1)">60</text>
<line x1="258.9" y1="379.5" x2="262.5" y2="379.5" stroke="#111" stroke-width="1" shape-rendering="crispEdges"/>
<text x="0" y="0" font-size="8.5" text-anchor="end" fill="#1e1e1e" stroke="#1e1e1e" stroke-width="0.18" transform="translate(256 382.96) scale(0.87 1)">80</text>
<line x1="258.9" y1="363.5" x2="262.5" y2="363.5" stroke="#111" stroke-width="1" shape-rendering="crispEdges"/>
<text x="0" y="0" font-size="8.5" text-anchor="end" fill="#1e1e1e" stroke="#1e1e1e" stroke-width="0.18" transform="translate(256 366) scale(0.87 1)">100</text>
<path d="M270.5 431.69L284.6 446.95L298.7 440.59L312.8 440.17" fill="none" stroke="#a8143c" stroke-width="1.6" stroke-linejoin="round"/>
<circle cx="270.5" cy="431.69" r="2.02" fill="#a8143c"/>
<circle cx="284.6" cy="446.95" r="2.02" fill="#a8143c"/>
<circle cx="298.7" cy="440.59" r="2.02" fill="#a8143c"/>
<circle cx="312.8" cy="440.17" r="2.02" fill="#a8143c"/>
<path d="M270.5 374.87L284.6 388.86L298.7 409.64L312.8 423.63" fill="none" stroke="#74b057" stroke-width="1.6" stroke-linejoin="round"/>
<path d="M268.37 373.42L272.63 373.42L270.5 377Z" fill="#74b057"/>
<path d="M282.47 387.41L286.73 387.41L284.6 390.99Z" fill="#74b057"/>
<path d="M296.57 408.18L300.83 408.18L298.7 411.77Z" fill="#74b057"/>
<path d="M310.67 422.18L314.93 422.18L312.8 425.76Z" fill="#74b057"/>
<path d="M270.5 392.26L284.6 406.84L298.7 424.06L312.8 432.11" fill="none" stroke="#2b4377" stroke-width="1.6" stroke-linejoin="round"/>
<rect x="268.6" y="390.35" width="3.81" height="3.81" fill="#2b4377"/>
<rect x="282.7" y="404.94" width="3.81" height="3.81" fill="#2b4377"/>
<rect x="296.8" y="422.15" width="3.81" height="3.81" fill="#2b4377"/>
<rect x="310.9" y="430.21" width="3.81" height="3.81" fill="#2b4377"/>
<path d="M270.5 406.84L284.6 423.72L298.7 432.88L312.8 437.62" fill="none" stroke="#30244a" stroke-width="1.6" stroke-linejoin="round"/>
<path d="M268.37 408.3L272.63 408.3L270.5 404.71Z" fill="#30244a"/>
<path d="M282.47 425.17L286.73 425.17L284.6 421.59Z" fill="#30244a"/>
<path d="M296.57 434.33L300.83 434.33L298.7 430.75Z" fill="#30244a"/>
<path d="M310.67 439.08L314.93 439.08L312.8 435.5Z" fill="#30244a"/>
<text x="272.1" y="455.5" font-size="8.4" text-anchor="end" fill="#1e1e1e" stroke="#1e1e1e" stroke-width="0.18" transform="rotate(-51 272.1 455.5)">20:1</text>
<text x="286.2" y="455.5" font-size="8.4" text-anchor="end" fill="#1e1e1e" stroke="#1e1e1e" stroke-width="0.18" transform="rotate(-51 286.2 455.5)">10:1</text>
<text x="300.3" y="455.5" font-size="8.4" text-anchor="end" fill="#1e1e1e" stroke="#1e1e1e" stroke-width="0.18" transform="rotate(-51 300.3 455.5)">5:1</text>
<text x="314.4" y="455.5" font-size="8.4" text-anchor="end" fill="#1e1e1e" stroke="#1e1e1e" stroke-width="0.18" transform="rotate(-51 314.4 455.5)">2.5:1</text>
<text x="291.7" y="352.8" font-size="8.5" text-anchor="middle" fill="#1e1e1e" stroke="#1e1e1e" stroke-width="0.18">CD8 cells 4 h</text>
<text x="288" y="483.4" font-size="11" text-anchor="middle" fill="#1e1e1e" stroke="#1e1e1e" stroke-width="0.18" textLength="11.1" lengthAdjust="spacingAndGlyphs">E:T</text>
<text x="234.6" y="403.7" font-size="8.5" text-anchor="middle" fill="#1e1e1e" stroke="#1e1e1e" stroke-width="0.18" transform="rotate(-90 234.6 403.7)" textLength="67" lengthAdjust="spacingAndGlyphs">Specific lysis (%)</text>
<line x1="368.5" y1="360.8" x2="368.5" y2="448.5" stroke="#111" stroke-width="1" shape-rendering="crispEdges"/>
<line x1="368.3" y1="448.5" x2="426" y2="448.5" stroke="#111" stroke-width="1" shape-rendering="crispEdges"/>
<line x1="364.7" y1="448.5" x2="368.3" y2="448.5" stroke="#111" stroke-width="1" shape-rendering="crispEdges"/>
<text x="0" y="0" font-size="8.5" text-anchor="end" fill="#1e1e1e" stroke="#1e1e1e" stroke-width="0.18" transform="translate(361.8 451) scale(0.87 1)">0</text>
<line x1="364.7" y1="431.5" x2="368.3" y2="431.5" stroke="#111" stroke-width="1" shape-rendering="crispEdges"/>
<text x="0" y="0" font-size="8.5" text-anchor="end" fill="#1e1e1e" stroke="#1e1e1e" stroke-width="0.18" transform="translate(361.8 434.04) scale(0.87 1)">20</text>
<line x1="364.7" y1="414.5" x2="368.3" y2="414.5" stroke="#111" stroke-width="1" shape-rendering="crispEdges"/>
<text x="0" y="0" font-size="8.5" text-anchor="end" fill="#1e1e1e" stroke="#1e1e1e" stroke-width="0.18" transform="translate(361.8 417.08) scale(0.87 1)">40</text>
<line x1="364.7" y1="397.5" x2="368.3" y2="397.5" stroke="#111" stroke-width="1" shape-rendering="crispEdges"/>
<text x="0" y="0" font-size="8.5" text-anchor="end" fill="#1e1e1e" stroke="#1e1e1e" stroke-width="0.18" transform="translate(361.8 400.12) scale(0.87 1)">60</text>
<line x1="364.7" y1="380.5" x2="368.3" y2="380.5" stroke="#111" stroke-width="1" shape-rendering="crispEdges"/>
<text x="0" y="0" font-size="8.5" text-anchor="end" fill="#1e1e1e" stroke="#1e1e1e" stroke-width="0.18" transform="translate(361.8 383.16) scale(0.87 1)">80</text>
<line x1="364.7" y1="363.5" x2="368.3" y2="363.5" stroke="#111" stroke-width="1" shape-rendering="crispEdges"/>
<text x="0" y="0" font-size="8.5" text-anchor="end" fill="#1e1e1e" stroke="#1e1e1e" stroke-width="0.18" transform="translate(361.8 366.2) scale(0.87 1)">100</text>
<line x1="368.8" y1="448" x2="426" y2="448" stroke="#8a1838" stroke-width="1.6" shape-rendering="crispEdges"/>
<path d="M376.3 448L390.4 448L404.5 448L418.6 448" fill="none" stroke="#a8143c" stroke-width="1.6" stroke-linejoin="round"/>
<circle cx="376.3" cy="448" r="2.02" fill="#a8143c"/>
<circle cx="390.4" cy="448" r="2.02" fill="#a8143c"/>
<circle cx="404.5" cy="448" r="2.02" fill="#a8143c"/>
<circle cx="418.6" cy="448" r="2.02" fill="#a8143c"/>
<path d="M376.3 370.41L390.4 371.68L404.5 379.82L418.6 392.03" fill="none" stroke="#30244a" stroke-width="1.6" stroke-linejoin="round"/>
<path d="M374.17 371.86L378.43 371.86L376.3 368.28Z" fill="#30244a"/>
<path d="M388.27 373.14L392.53 373.14L390.4 369.55Z" fill="#30244a"/>
<path d="M402.37 381.28L406.63 381.28L404.5 377.69Z" fill="#30244a"/>
<path d="M416.47 393.49L420.73 393.49L418.6 389.9Z" fill="#30244a"/>
<path d="M376.3 367.27L390.4 369.14L404.5 371.68L418.6 378.89" fill="none" stroke="#74b057" stroke-width="1.6" stroke-linejoin="round"/>
<path d="M374.17 365.81L378.43 365.81L376.3 369.4Z" fill="#74b057"/>
<path d="M388.27 367.68L392.53 367.68L390.4 371.26Z" fill="#74b057"/>
<path d="M402.37 370.22L406.63 370.22L404.5 373.81Z" fill="#74b057"/>
<path d="M416.47 377.43L420.73 377.43L418.6 381.02Z" fill="#74b057"/>
<path d="M376.3 364.39L390.4 364.39L404.5 366.08L418.6 374.05" fill="none" stroke="#2b4377" stroke-width="1.6" stroke-linejoin="round"/>
<rect x="374.4" y="362.48" width="3.81" height="3.81" fill="#2b4377"/>
<rect x="388.5" y="362.48" width="3.81" height="3.81" fill="#2b4377"/>
<rect x="402.6" y="364.18" width="3.81" height="3.81" fill="#2b4377"/>
<rect x="416.7" y="372.15" width="3.81" height="3.81" fill="#2b4377"/>
<text x="377.9" y="455.7" font-size="8.4" text-anchor="end" fill="#1e1e1e" stroke="#1e1e1e" stroke-width="0.18" transform="rotate(-51 377.9 455.7)">20:1</text>
<text x="392" y="455.7" font-size="8.4" text-anchor="end" fill="#1e1e1e" stroke="#1e1e1e" stroke-width="0.18" transform="rotate(-51 392 455.7)">10:1</text>
<text x="406.1" y="455.7" font-size="8.4" text-anchor="end" fill="#1e1e1e" stroke="#1e1e1e" stroke-width="0.18" transform="rotate(-51 406.1 455.7)">5:1</text>
<text x="420.2" y="455.7" font-size="8.4" text-anchor="end" fill="#1e1e1e" stroke="#1e1e1e" stroke-width="0.18" transform="rotate(-51 420.2 455.7)">2.5:1</text>
<text x="401.3" y="352.8" font-size="8.5" text-anchor="middle" fill="#1e1e1e" stroke="#1e1e1e" stroke-width="0.18">CD8 cells 20 h</text>
<text x="392.3" y="483.4" font-size="11" text-anchor="middle" fill="#1e1e1e" stroke="#1e1e1e" stroke-width="0.18" textLength="11.1" lengthAdjust="spacingAndGlyphs">E:T</text>
<text x="340.6" y="403.7" font-size="8.5" text-anchor="middle" fill="#1e1e1e" stroke="#1e1e1e" stroke-width="0.18" transform="rotate(-90 340.6 403.7)" textLength="67" lengthAdjust="spacingAndGlyphs">Specific lysis (%)</text>
<line x1="430" y1="217.5" x2="439.2" y2="217.5" stroke="#a8143c" stroke-width="1.7" shape-rendering="crispEdges"/>
<circle cx="434.6" cy="217.5" r="1.98" fill="#a8143c"/>
<text x="443" y="220.3" font-size="7.7" fill="#1e1e1e" stroke="#1e1e1e" stroke-width="0.18">K562</text>
<line x1="430" y1="228.7" x2="439.2" y2="228.7" stroke="#2b4377" stroke-width="1.7" shape-rendering="crispEdges"/>
<rect x="432.73" y="226.83" width="3.74" height="3.74" fill="#2b4377"/>
<text x="443" y="231.5" font-size="7.7" fill="#1e1e1e" stroke="#1e1e1e" stroke-width="0.18">K562/SLAMF7</text>
<line x1="430" y1="240" x2="439.2" y2="240" stroke="#74b057" stroke-width="1.7" shape-rendering="crispEdges"/>
<path d="M432.51 238.57L436.69 238.57L434.6 242.09Z" fill="#74b057"/>
<text x="443" y="242.8" font-size="7.7" fill="#1e1e1e" stroke="#1e1e1e" stroke-width="0.18">OPM2</text>
<line x1="430" y1="251.2" x2="439.2" y2="251.2" stroke="#30244a" stroke-width="1.7" shape-rendering="crispEdges"/>
<path d="M432.51 252.63L436.69 252.63L434.6 249.11Z" fill="#30244a"/>
<text x="443" y="254" font-size="7.7" fill="#1e1e1e" stroke="#1e1e1e" stroke-width="0.18">MM.1S</text>
<line x1="430" y1="364.6" x2="439.2" y2="364.6" stroke="#a8143c" stroke-width="1.7" shape-rendering="crispEdges"/>
<circle cx="434.6" cy="364.6" r="1.98" fill="#a8143c"/>
<text x="443" y="367.4" font-size="7.7" fill="#1e1e1e" stroke="#1e1e1e" stroke-width="0.18">K562</text>
<line x1="430" y1="376.2" x2="439.2" y2="376.2" stroke="#2b4377" stroke-width="1.7" shape-rendering="crispEdges"/>
<rect x="432.73" y="374.33" width="3.74" height="3.74" fill="#2b4377"/>
<text x="443" y="379" font-size="7.7" fill="#1e1e1e" stroke="#1e1e1e" stroke-width="0.18">K562/SLAMF7</text>
<line x1="430" y1="387.3" x2="439.2" y2="387.3" stroke="#74b057" stroke-width="1.7" shape-rendering="crispEdges"/>
<path d="M432.51 385.87L436.69 385.87L434.6 389.39Z" fill="#74b057"/>
<text x="443" y="390.1" font-size="7.7" fill="#1e1e1e" stroke="#1e1e1e" stroke-width="0.18">OPM-2</text>
<line x1="430" y1="398.8" x2="439.2" y2="398.8" stroke="#30244a" stroke-width="1.7" shape-rendering="crispEdges"/>
<path d="M432.51 400.23L436.69 400.23L434.6 396.71Z" fill="#30244a"/>
<text x="443" y="401.6" font-size="7.7" fill="#1e1e1e" stroke="#1e1e1e" stroke-width="0.18">MM.1S</text>
<text x="8.7" y="511.3" font-size="11" font-weight="bold" fill="#000">D</text>
<rect x="85.9" y="502.5" width="13.5" height="6" fill="#a8032c"/>
<rect x="85.9" y="511.7" width="13.5" height="6.2" fill="#2d4a80"/>
<text x="104.8" y="507.8" font-size="7.6" fill="#1e1e1e" stroke="#1e1e1e" stroke-width="0.18" textLength="89.8" lengthAdjust="spacingAndGlyphs">CD8 SLAMF7-CAR T cells</text>
<text x="104.8" y="516.8" font-size="7.6" fill="#1e1e1e" stroke="#1e1e1e" stroke-width="0.18" textLength="89.8" lengthAdjust="spacingAndGlyphs">CD4 SLAMF7-CAR T cells</text>
<line x1="46.5" y1="529.7" x2="46.5" y2="604.2" stroke="#111" stroke-width="1" shape-rendering="crispEdges"/>
<line x1="43.2" y1="603.5" x2="46.5" y2="603.5" stroke="#111" stroke-width="1" shape-rendering="crispEdges"/>
<text x="0" y="0" font-size="7.4" text-anchor="end" fill="#1e1e1e" stroke="#1e1e1e" stroke-width="0.18" transform="translate(39 606.3) scale(0.9 1)">0</text>
<line x1="43.2" y1="591.5" x2="46.5" y2="591.5" stroke="#111" stroke-width="1" shape-rendering="crispEdges"/>
<text x="0" y="0" font-size="7.4" text-anchor="end" fill="#1e1e1e" stroke="#1e1e1e" stroke-width="0.18" transform="translate(39 594.35) scale(0.9 1)">200</text>
<line x1="43.2" y1="579.5" x2="46.5" y2="579.5" stroke="#111" stroke-width="1" shape-rendering="crispEdges"/>
<text x="0" y="0" font-size="7.4" text-anchor="end" fill="#1e1e1e" stroke="#1e1e1e" stroke-width="0.18" transform="translate(39 582.4) scale(0.9 1)">400</text>
<line x1="43.2" y1="567.5" x2="46.5" y2="567.5" stroke="#111" stroke-width="1" shape-rendering="crispEdges"/>
<text x="0" y="0" font-size="7.4" text-anchor="end" fill="#1e1e1e" stroke="#1e1e1e" stroke-width="0.18" transform="translate(39 570.45) scale(0.9 1)">600</text>
<line x1="43.2" y1="555.5" x2="46.5" y2="555.5" stroke="#111" stroke-width="1" shape-rendering="crispEdges"/>
<text x="0" y="0" font-size="7.4" text-anchor="end" fill="#1e1e1e" stroke="#1e1e1e" stroke-width="0.18" transform="translate(39 558.5) scale(0.9 1)">800</text>
<line x1="43.2" y1="543.5" x2="46.5" y2="543.5" stroke="#111" stroke-width="1" shape-rendering="crispEdges"/>
<text x="0" y="0" font-size="7.4" text-anchor="end" fill="#1e1e1e" stroke="#1e1e1e" stroke-width="0.18" transform="translate(39 546.55) scale(0.9 1)">1000</text>
<line x1="43.2" y1="532.5" x2="46.5" y2="532.5" stroke="#111" stroke-width="1" shape-rendering="crispEdges"/>
<text x="0" y="0" font-size="7.4" text-anchor="end" fill="#1e1e1e" stroke="#1e1e1e" stroke-width="0.18" transform="translate(39 534.6) scale(0.9 1)">1200</text>
<line x1="58.5" y1="558.39" x2="58.5" y2="556.5" stroke="#222" stroke-width="1" shape-rendering="crispEdges"/>
<line x1="57.1" y1="556.5" x2="60.1" y2="556.5" stroke="#222" stroke-width="1" shape-rendering="crispEdges"/>
<rect x="55.45" y="557.39" width="6.3" height="46.31" fill="#a8032c"/>
<line x1="66.5" y1="555.11" x2="66.5" y2="553.51" stroke="#222" stroke-width="1" shape-rendering="crispEdges"/>
<line x1="65.2" y1="553.5" x2="68.2" y2="553.5" stroke="#222" stroke-width="1" shape-rendering="crispEdges"/>
<rect x="63.55" y="554.11" width="6.3" height="49.59" fill="#a8032c"/>
<line x1="74.5" y1="567.65" x2="74.5" y2="561.88" stroke="#222" stroke-width="1" shape-rendering="crispEdges"/>
<line x1="73.1" y1="561.5" x2="76.1" y2="561.5" stroke="#222" stroke-width="1" shape-rendering="crispEdges"/>
<rect x="71.45" y="566.65" width="6.3" height="37.05" fill="#a8032c"/>
<line x1="83.5" y1="559.59" x2="83.5" y2="553.51" stroke="#222" stroke-width="1" shape-rendering="crispEdges"/>
<line x1="81.5" y1="553.5" x2="84.5" y2="553.5" stroke="#222" stroke-width="1" shape-rendering="crispEdges"/>
<rect x="79.85" y="558.59" width="6.3" height="45.11" fill="#a8032c"/>
<rect x="90.25" y="602.74" width="6.3" height="0.96" fill="#2d4a80"/>
<line x1="101.5" y1="543.16" x2="101.5" y2="538.87" stroke="#222" stroke-width="1" shape-rendering="crispEdges"/>
<line x1="100.4" y1="538.5" x2="103.4" y2="538.5" stroke="#222" stroke-width="1" shape-rendering="crispEdges"/>
<rect x="98.75" y="542.16" width="6.3" height="61.54" fill="#2d4a80"/>
<line x1="110.5" y1="543.16" x2="110.5" y2="536.48" stroke="#222" stroke-width="1" shape-rendering="crispEdges"/>
<line x1="108.5" y1="536.5" x2="111.5" y2="536.5" stroke="#222" stroke-width="1" shape-rendering="crispEdges"/>
<rect x="106.85" y="542.16" width="6.3" height="61.54" fill="#2d4a80"/>
<line x1="118.5" y1="547.34" x2="118.5" y2="543.95" stroke="#222" stroke-width="1" shape-rendering="crispEdges"/>
<line x1="116.6" y1="543.5" x2="119.6" y2="543.5" stroke="#222" stroke-width="1" shape-rendering="crispEdges"/>
<rect x="114.95" y="546.34" width="6.3" height="57.36" fill="#2d4a80"/>
<line x1="126.5" y1="541.66" x2="126.5" y2="540.25" stroke="#222" stroke-width="1" shape-rendering="crispEdges"/>
<line x1="124.6" y1="540.5" x2="127.6" y2="540.5" stroke="#222" stroke-width="1" shape-rendering="crispEdges"/>
<rect x="122.95" y="540.66" width="6.3" height="63.04" fill="#2d4a80"/>
<line x1="43.2" y1="603.5" x2="131.1" y2="603.5" stroke="#111" stroke-width="1" shape-rendering="crispEdges"/>
<line x1="88" y1="605.5" x2="88" y2="657.5" stroke="#222" stroke-width="1.4" stroke-dasharray="1.6 1.4"/>
<text x="53.4" y="657.6" font-size="7.5" fill="#1e1e1e" stroke="#1e1e1e" stroke-width="0.18" transform="rotate(-90 53.4 657.6)">K562</text>
<text x="61.2" y="657.6" font-size="7.5" fill="#1e1e1e" stroke="#1e1e1e" stroke-width="0.18" transform="rotate(-90 61.2 657.6)">K562/SLAMF7</text>
<text x="69.2" y="657.6" font-size="7.5" fill="#1e1e1e" stroke="#1e1e1e" stroke-width="0.18" transform="rotate(-90 69.2 657.6)">NCI-H929</text>
<text x="77.2" y="657.6" font-size="7.5" fill="#1e1e1e" stroke="#1e1e1e" stroke-width="0.18" transform="rotate(-90 77.2 657.6)">OPM-2</text>
<text x="85.4" y="657.6" font-size="7.5" fill="#1e1e1e" stroke="#1e1e1e" stroke-width="0.18" transform="rotate(-90 85.4 657.6)">MM.1S</text>
<text x="95.6" y="657.6" font-size="7.5" fill="#1e1e1e" stroke="#1e1e1e" stroke-width="0.18" transform="rotate(-90 95.6 657.6)">K562</text>
<text x="104" y="657.6" font-size="7.5" fill="#1e1e1e" stroke="#1e1e1e" stroke-width="0.18" transform="rotate(-90 104 657.6)">K562/SLAMF7</text>
<text x="112.2" y="657.6" font-size="7.5" fill="#1e1e1e" stroke="#1e1e1e" stroke-width="0.18" transform="rotate(-90 112.2 657.6)">NCI-H929</text>
<text x="120.2" y="657.6" font-size="7.5" fill="#1e1e1e" stroke="#1e1e1e" stroke-width="0.18" transform="rotate(-90 120.2 657.6)">OPM-2</text>
<text x="128.4" y="657.6" font-size="7.5" fill="#1e1e1e" stroke="#1e1e1e" stroke-width="0.18" transform="rotate(-90 128.4 657.6)">MM.1S</text>
<text x="16.8" y="567.3" font-size="8.8" text-anchor="middle" fill="#1e1e1e" stroke="#1e1e1e" stroke-width="0.18" transform="rotate(-90 16.8 567.3)" textLength="50.7" lengthAdjust="spacingAndGlyphs">IFN-γ (pg/ml)</text>
<line x1="170.5" y1="529.3" x2="170.5" y2="552.2" stroke="#111" stroke-width="1" shape-rendering="crispEdges"/>
<line x1="167.5" y1="552.5" x2="173.5" y2="552.5" stroke="#111" stroke-width="1" shape-rendering="crispEdges"/>
<line x1="170.5" y1="557.5" x2="170.5" y2="604.3" stroke="#111" stroke-width="1" shape-rendering="crispEdges"/>
<line x1="167.5" y1="557.5" x2="173.5" y2="557.5" stroke="#111" stroke-width="1" shape-rendering="crispEdges"/>
<line x1="167.3" y1="545.5" x2="170.1" y2="545.5" stroke="#111" stroke-width="1" shape-rendering="crispEdges"/>
<text x="163.9" y="548" font-size="7.6" text-anchor="end" fill="#1e1e1e" stroke="#1e1e1e" stroke-width="0.18">500</text>
<line x1="167.3" y1="531.5" x2="170.1" y2="531.5" stroke="#111" stroke-width="1" shape-rendering="crispEdges"/>
<text x="163.9" y="534.5" font-size="7.6" text-anchor="end" fill="#1e1e1e" stroke="#1e1e1e" stroke-width="0.18">600</text>
<line x1="167.3" y1="604.5" x2="170.1" y2="604.5" stroke="#111" stroke-width="1" shape-rendering="crispEdges"/>
<text x="163.9" y="606.6" font-size="7.6" text-anchor="end" fill="#1e1e1e" stroke="#1e1e1e" stroke-width="0.18">0</text>
<line x1="167.3" y1="590.5" x2="170.1" y2="590.5" stroke="#111" stroke-width="1" shape-rendering="crispEdges"/>
<text x="163.9" y="593.27" font-size="7.6" text-anchor="end" fill="#1e1e1e" stroke="#1e1e1e" stroke-width="0.18">100</text>
<line x1="167.3" y1="577.5" x2="170.1" y2="577.5" stroke="#111" stroke-width="1" shape-rendering="crispEdges"/>
<text x="163.9" y="579.93" font-size="7.6" text-anchor="end" fill="#1e1e1e" stroke="#1e1e1e" stroke-width="0.18">200</text>
<line x1="167.3" y1="564.5" x2="170.1" y2="564.5" stroke="#111" stroke-width="1" shape-rendering="crispEdges"/>
<text x="163.9" y="566.6" font-size="7.6" text-anchor="end" fill="#1e1e1e" stroke="#1e1e1e" stroke-width="0.18">300</text>
<line x1="181.5" y1="592.87" x2="181.5" y2="587.87" stroke="#222" stroke-width="1" shape-rendering="crispEdges"/>
<line x1="180.4" y1="587.5" x2="183.4" y2="587.5" stroke="#222" stroke-width="1" shape-rendering="crispEdges"/>
<rect x="178.75" y="591.87" width="6.3" height="12.13" fill="#a8032c"/>
<rect x="186.65" y="575.6" width="6.3" height="28.4" fill="#a8032c"/>
<line x1="197.5" y1="599.27" x2="197.5" y2="597.33" stroke="#222" stroke-width="1" shape-rendering="crispEdges"/>
<line x1="196.3" y1="597.5" x2="199.3" y2="597.5" stroke="#222" stroke-width="1" shape-rendering="crispEdges"/>
<rect x="194.65" y="598.27" width="6.3" height="5.73" fill="#a8032c"/>
<line x1="205.5" y1="587.13" x2="205.5" y2="585.6" stroke="#222" stroke-width="1" shape-rendering="crispEdges"/>
<line x1="204" y1="585.5" x2="207" y2="585.5" stroke="#222" stroke-width="1" shape-rendering="crispEdges"/>
<rect x="202.35" y="586.13" width="6.3" height="17.87" fill="#a8032c"/>
<line x1="223.5" y1="589.4" x2="223.5" y2="584.13" stroke="#222" stroke-width="1" shape-rendering="crispEdges"/>
<line x1="222.3" y1="584.5" x2="225.3" y2="584.5" stroke="#222" stroke-width="1" shape-rendering="crispEdges"/>
<rect x="220.65" y="588.4" width="6.3" height="15.6" fill="#2d4a80"/>
<line x1="247.5" y1="565.93" x2="247.5" y2="560.27" stroke="#222" stroke-width="1" shape-rendering="crispEdges"/>
<line x1="245.9" y1="560.5" x2="248.9" y2="560.5" stroke="#222" stroke-width="1" shape-rendering="crispEdges"/>
<rect x="244.25" y="564.93" width="6.3" height="39.07" fill="#2d4a80"/>
<rect x="228.45" y="557.6" width="6.3" height="46.4" fill="#2d4a80"/>
<line x1="231.5" y1="542.6" x2="231.5" y2="535.2" stroke="#222" stroke-width="1" shape-rendering="crispEdges"/>
<line x1="230.1" y1="535.5" x2="233.1" y2="535.5" stroke="#222" stroke-width="1" shape-rendering="crispEdges"/>
<rect x="228.45" y="541.6" width="6.3" height="10.2" fill="#2d4a80"/>
<line x1="167" y1="604.5" x2="253" y2="604.5" stroke="#111" stroke-width="1" shape-rendering="crispEdges"/>
<line x1="210" y1="605.2" x2="210" y2="657.5" stroke="#222" stroke-width="1.4" stroke-dasharray="1.6 1.4"/>
<text x="177.4" y="657.6" font-size="7.5" fill="#1e1e1e" stroke="#1e1e1e" stroke-width="0.18" transform="rotate(-90 177.4 657.6)">K562</text>
<text x="185.2" y="657.6" font-size="7.5" fill="#1e1e1e" stroke="#1e1e1e" stroke-width="0.18" transform="rotate(-90 185.2 657.6)">K562/SLAMF7</text>
<text x="192.6" y="657.6" font-size="7.5" fill="#1e1e1e" stroke="#1e1e1e" stroke-width="0.18" transform="rotate(-90 192.6 657.6)">NCI-H929</text>
<text x="200.2" y="657.6" font-size="7.5" fill="#1e1e1e" stroke="#1e1e1e" stroke-width="0.18" transform="rotate(-90 200.2 657.6)">OPM-2</text>
<text x="207.6" y="657.6" font-size="7.5" fill="#1e1e1e" stroke="#1e1e1e" stroke-width="0.18" transform="rotate(-90 207.6 657.6)">MM.1S</text>
<text x="219.4" y="657.6" font-size="7.5" fill="#1e1e1e" stroke="#1e1e1e" stroke-width="0.18" transform="rotate(-90 219.4 657.6)">K562</text>
<text x="226.8" y="657.6" font-size="7.5" fill="#1e1e1e" stroke="#1e1e1e" stroke-width="0.18" transform="rotate(-90 226.8 657.6)">K562/SLAMF7</text>
<text x="234.4" y="657.6" font-size="7.5" fill="#1e1e1e" stroke="#1e1e1e" stroke-width="0.18" transform="rotate(-90 234.4 657.6)">NCI-H929</text>
<text x="242.2" y="657.6" font-size="7.5" fill="#1e1e1e" stroke="#1e1e1e" stroke-width="0.18" transform="rotate(-90 242.2 657.6)">OPM-2</text>
<text x="249.4" y="657.6" font-size="7.5" fill="#1e1e1e" stroke="#1e1e1e" stroke-width="0.18" transform="rotate(-90 249.4 657.6)">MM.1S</text>
<text x="144.6" y="567.8" font-size="8.8" text-anchor="middle" fill="#1e1e1e" stroke="#1e1e1e" stroke-width="0.18" transform="rotate(-90 144.6 567.8)" textLength="46.4" lengthAdjust="spacingAndGlyphs">IL-2 (pg/ml)</text>
<text x="266.3" y="513" font-size="11.6" font-weight="bold" fill="#000">E</text>
<text x="364.4" y="523" font-size="8.4" text-anchor="middle" fill="#1e1e1e" stroke="#1e1e1e" stroke-width="0.18" textLength="16.2" lengthAdjust="spacingAndGlyphs">CD4</text>
<text x="463.5" y="523.5" font-size="8.4" text-anchor="middle" fill="#1e1e1e" stroke="#1e1e1e" stroke-width="0.18" textLength="16.2" lengthAdjust="spacingAndGlyphs">CD8</text>
<text x="306.3" y="528.3" font-size="8.4" text-anchor="end" font-weight="bold" fill="#000" textLength="30" lengthAdjust="spacingAndGlyphs">Targets</text>
<text x="306.3" y="542.8" font-size="8.5" text-anchor="end" fill="#1e1e1e" stroke="#1e1e1e" stroke-width="0.18">K562</text>
<text x="306.3" y="558.3" font-size="8.5" text-anchor="end" fill="#1e1e1e" stroke="#1e1e1e" stroke-width="0.18">K562/</text>
<text x="306.3" y="568.7" font-size="8.5" text-anchor="end" fill="#1e1e1e" stroke="#1e1e1e" stroke-width="0.18">SLAMF7</text>
<text x="306.3" y="582.8" font-size="8.5" text-anchor="end" fill="#1e1e1e" stroke="#1e1e1e" stroke-width="0.18">NCI-H929</text>
<text x="306.3" y="602.6" font-size="8.5" text-anchor="end" fill="#1e1e1e" stroke="#1e1e1e" stroke-width="0.18">OPM-2</text>
<text x="306.3" y="622.4" font-size="8.5" text-anchor="end" fill="#1e1e1e" stroke="#1e1e1e" stroke-width="0.18">MM.1S</text>
<rect x="310.4" y="529.2" width="101.1" height="101.1" fill="#fff"/>
<path d="M310.9 543.6L350 543.6L351.09 543.56L352.62 543.51L354.42 543.45L356.27 543.38L358 543.3L359.65 543.22L361.34 543.15L363.02 543.06L364.59 542.95L366 542.8L367.22 542.62L368.3 542.41L369.27 542.18L370.16 541.91L371 541.6L371.76 541.28L372.42 540.94L373.03 540.56L373.61 540.09L374.2 539.5L374.81 538.73L375.41 537.8L375.99 536.8L376.56 535.84L377.1 535L377.62 534.29L378.12 533.64L378.6 533.06L379.06 532.55L379.5 532.1L379.92 531.71L380.31 531.38L380.69 531.13L381.05 530.96L381.4 530.9L381.75 530.96L382.09 531.13L382.42 531.38L382.72 531.71L383 532.1L383.23 532.55L383.41 533.06L383.58 533.64L383.76 534.29L384 535L384.29 535.82L384.62 536.75L384.98 537.72L385.34 538.66L385.7 539.5L386.04 540.24L386.38 540.94L386.72 541.58L387.09 542.14L387.5 542.6L388 542.95L388.57 543.2L389.15 543.37L389.65 543.5L390 543.6L411 543.6Z" fill="#5b79b4"/>
<path d="M350 543.6L351.09 543.56L352.62 543.51L354.42 543.45L356.27 543.38L358 543.3L359.65 543.22L361.34 543.15L363.02 543.06L364.59 542.95L366 542.8L367.22 542.62L368.3 542.41L369.27 542.18L370.16 541.91L371 541.6L371.76 541.28L372.42 540.94L373.03 540.56L373.61 540.09L374.2 539.5L374.81 538.73L375.41 537.8L375.99 536.8L376.56 535.84L377.1 535L377.62 534.29L378.12 533.64L378.6 533.06L379.06 532.55L379.5 532.1L379.92 531.71L380.31 531.38L380.69 531.13L381.05 530.96L381.4 530.9L381.75 530.96L382.09 531.13L382.42 531.38L382.72 531.71L383 532.1L383.23 532.55L383.41 533.06L383.58 533.64L383.76 534.29L384 535L384.29 535.82L384.62 536.75L384.98 537.72L385.34 538.66L385.7 539.5L386.04 540.24L386.38 540.94L386.72 541.58L387.09 542.14L387.5 542.6L388 542.95L388.57 543.2L389.15 543.37L389.65 543.5L390 543.6" fill="none" stroke="#2a457e" stroke-width="1.2" stroke-linejoin="round"/>
<line x1="310.4" y1="543.5" x2="411.5" y2="543.5" stroke="#5d6c98" stroke-width="1" shape-rendering="crispEdges"/>
<path d="M310.9 550.6L356 550.6L357.42 550.5L359.47 550.36L361.81 550.19L364.1 550L366 549.8L367.49 549.59L368.78 549.36L369.94 549.12L370.99 548.87L372 548.6L372.93 548.36L373.74 548.14L374.5 547.89L375.23 547.56L376 547.1L376.82 546.44L377.65 545.63L378.47 544.75L379.26 543.88L380 543.1L380.68 542.4L381.33 541.73L381.93 541.11L382.49 540.56L383 540.1L383.44 539.72L383.81 539.39L384.14 539.15L384.47 539.04L384.8 539.1L385.14 539.36L385.48 539.8L385.82 540.36L386.16 540.98L386.5 541.6L386.86 542.24L387.22 542.93L387.58 543.65L387.94 544.38L388.3 545.1L388.65 545.82L389 546.57L389.34 547.31L389.67 548L390 548.6L390.34 549.13L390.69 549.6L391.02 550.02L391.3 550.35L391.5 550.6L411 550.6Z" fill="#f0b5b3" fill-opacity="0.9"/>
<path d="M356 550.6L357.42 550.5L359.47 550.36L361.81 550.19L364.1 550L366 549.8L367.49 549.59L368.78 549.36L369.94 549.12L370.99 548.87L372 548.6L372.93 548.36L373.74 548.14L374.5 547.89L375.23 547.56L376 547.1L376.82 546.44L377.65 545.63L378.47 544.75L379.26 543.88L380 543.1L380.68 542.4L381.33 541.73L381.93 541.11L382.49 540.56L383 540.1L383.44 539.72L383.81 539.39L384.14 539.15L384.47 539.04L384.8 539.1L385.14 539.36L385.48 539.8L385.82 540.36L386.16 540.98L386.5 541.6L386.86 542.24L387.22 542.93L387.58 543.65L387.94 544.38L388.3 545.1L388.65 545.82L389 546.57L389.34 547.31L389.67 548L390 548.6L390.34 549.13L390.69 549.6L391.02 550.02L391.3 550.35L391.5 550.6" fill="none" stroke="#8e1535" stroke-width="1.25" stroke-linejoin="round"/>
<line x1="310.4" y1="550.5" x2="411.5" y2="550.5" stroke="#5a1a2c" stroke-width="1" shape-rendering="crispEdges"/>
<path d="M310.9 563.2L362 563.2L362.85 563.14L364.06 563.06L365.46 562.95L366.83 562.83L368 562.7L368.94 562.56L369.79 562.41L370.57 562.24L371.3 562.04L372 561.8L372.67 561.52L373.3 561.22L373.88 560.87L374.45 560.47L375 560L375.54 559.43L376.06 558.77L376.56 558.07L377.04 557.36L377.5 556.7L377.93 556.06L378.34 555.41L378.72 554.78L379.11 554.2L379.5 553.7L379.9 553.26L380.3 552.85L380.7 552.51L381.1 552.28L381.5 552.2L381.91 552.27L382.32 552.46L382.74 552.78L383.13 553.19L383.5 553.7L383.83 554.36L384.14 555.17L384.42 556.05L384.71 556.92L385 557.7L385.29 558.38L385.58 559.02L385.86 559.62L386.17 560.18L386.5 560.7L386.86 561.19L387.24 561.64L387.64 562.06L388.06 562.41L388.5 562.7L389.01 562.9L389.58 563.03L390.16 563.11L390.65 563.16L391 563.2L411 563.2Z" fill="#5b79b4"/>
<path d="M362 563.2L362.85 563.14L364.06 563.06L365.46 562.95L366.83 562.83L368 562.7L368.94 562.56L369.79 562.41L370.57 562.24L371.3 562.04L372 561.8L372.67 561.52L373.3 561.22L373.88 560.87L374.45 560.47L375 560L375.54 559.43L376.06 558.77L376.56 558.07L377.04 557.36L377.5 556.7L377.93 556.06L378.34 555.41L378.72 554.78L379.11 554.2L379.5 553.7L379.9 553.26L380.3 552.85L380.7 552.51L381.1 552.28L381.5 552.2L381.91 552.27L382.32 552.46L382.74 552.78L383.13 553.19L383.5 553.7L383.83 554.36L384.14 555.17L384.42 556.05L384.71 556.92L385 557.7L385.29 558.38L385.58 559.02L385.86 559.62L386.17 560.18L386.5 560.7L386.86 561.19L387.24 561.64L387.64 562.06L388.06 562.41L388.5 562.7L389.01 562.9L389.58 563.03L390.16 563.11L390.65 563.16L391 563.2" fill="none" stroke="#2a457e" stroke-width="1.2" stroke-linejoin="round"/>
<line x1="310.4" y1="563.5" x2="411.5" y2="563.5" stroke="#5d6c98" stroke-width="1" shape-rendering="crispEdges"/>
<path d="M310.9 569.8L342.5 569.8L343.22 569.23L344.23 568.43L345.41 567.49L346.62 566.55L347.7 565.7L348.65 564.96L349.55 564.24L350.45 563.55L351.35 562.87L352.3 562.2L353.33 561.47L354.42 560.69L355.51 559.95L356.56 559.35L357.5 559L358.31 558.98L359.03 559.24L359.69 559.62L360.33 559.99L361 560.2L361.7 560.22L362.42 560.14L363.12 560.03L363.79 559.93L364.4 559.9L364.93 559.92L365.4 559.94L365.83 560.01L366.26 560.18L366.7 560.5L367.15 561.05L367.59 561.79L368.04 562.6L368.5 563.38L369 564L369.54 564.41L370.12 564.7L370.71 564.92L371.31 565.17L371.9 565.5L372.43 565.95L372.9 566.48L373.4 567.03L374.01 567.55L374.8 568L375.85 568.37L377.1 568.69L378.45 568.96L379.78 569.2L381 569.4L382.16 569.55L383.33 569.65L384.42 569.72L385.34 569.76L386 569.8L411 569.8Z" fill="#f0b5b3" fill-opacity="0.9"/>
<path d="M342.5 569.8L343.22 569.23L344.23 568.43L345.41 567.49L346.62 566.55L347.7 565.7L348.65 564.96L349.55 564.24L350.45 563.55L351.35 562.87L352.3 562.2L353.33 561.47L354.42 560.69L355.51 559.95L356.56 559.35L357.5 559L358.31 558.98L359.03 559.24L359.69 559.62L360.33 559.99L361 560.2L361.7 560.22L362.42 560.14L363.12 560.03L363.79 559.93L364.4 559.9L364.93 559.92L365.4 559.94L365.83 560.01L366.26 560.18L366.7 560.5L367.15 561.05L367.59 561.79L368.04 562.6L368.5 563.38L369 564L369.54 564.41L370.12 564.7L370.71 564.92L371.31 565.17L371.9 565.5L372.43 565.95L372.9 566.48L373.4 567.03L374.01 567.55L374.8 568L375.85 568.37L377.1 568.69L378.45 568.96L379.78 569.2L381 569.4L382.16 569.55L383.33 569.65L384.42 569.72L385.34 569.76L386 569.8" fill="none" stroke="#8e1535" stroke-width="1.25" stroke-linejoin="round"/>
<line x1="310.4" y1="569.5" x2="411.5" y2="569.5" stroke="#5a1a2c" stroke-width="1" shape-rendering="crispEdges"/>
<path d="M310.9 583L364 583L364.55 582.95L365.34 582.88L366.24 582.79L367.17 582.7L368 582.6L368.74 582.51L369.46 582.42L370.16 582.31L370.84 582.18L371.5 582L372.14 581.77L372.76 581.49L373.36 581.18L373.94 580.85L374.5 580.5L375.04 580.17L375.55 579.86L376.04 579.5L376.52 579.07L377 578.5L377.47 577.73L377.93 576.8L378.38 575.8L378.84 574.83L379.3 574L379.78 573.26L380.28 572.54L380.78 571.91L381.26 571.44L381.7 571.2L382.11 571.24L382.49 571.51L382.84 571.94L383.18 572.46L383.5 573L383.79 573.59L384.05 574.28L384.29 575.02L384.54 575.77L384.8 576.5L385.08 577.22L385.38 577.96L385.68 578.69L385.98 579.38L386.3 580L386.61 580.55L386.9 581.04L387.22 581.48L387.57 581.87L388 582.2L388.56 582.46L389.25 582.66L389.95 582.8L390.57 582.91L391 583L411 583Z" fill="#5b79b4"/>
<path d="M364 583L364.55 582.95L365.34 582.88L366.24 582.79L367.17 582.7L368 582.6L368.74 582.51L369.46 582.42L370.16 582.31L370.84 582.18L371.5 582L372.14 581.77L372.76 581.49L373.36 581.18L373.94 580.85L374.5 580.5L375.04 580.17L375.55 579.86L376.04 579.5L376.52 579.07L377 578.5L377.47 577.73L377.93 576.8L378.38 575.8L378.84 574.83L379.3 574L379.78 573.26L380.28 572.54L380.78 571.91L381.26 571.44L381.7 571.2L382.11 571.24L382.49 571.51L382.84 571.94L383.18 572.46L383.5 573L383.79 573.59L384.05 574.28L384.29 575.02L384.54 575.77L384.8 576.5L385.08 577.22L385.38 577.96L385.68 578.69L385.98 579.38L386.3 580L386.61 580.55L386.9 581.04L387.22 581.48L387.57 581.87L388 582.2L388.56 582.46L389.25 582.66L389.95 582.8L390.57 582.91L391 583" fill="none" stroke="#2a457e" stroke-width="1.2" stroke-linejoin="round"/>
<line x1="310.4" y1="583.5" x2="411.5" y2="583.5" stroke="#5d6c98" stroke-width="1" shape-rendering="crispEdges"/>
<path d="M310.9 590.2L341.9 590.2L342.53 589.83L343.41 589.33L344.44 588.71L345.51 588.03L346.5 587.3L347.45 586.49L348.42 585.57L349.38 584.61L350.29 583.67L351.1 582.8L351.78 581.98L352.35 581.16L352.88 580.4L353.41 579.73L354 579.2L354.68 578.83L355.41 578.57L356.16 578.43L356.87 578.37L357.5 578.4L358.03 578.57L358.48 578.9L358.89 579.29L359.32 579.62L359.8 579.8L360.34 579.79L360.9 579.65L361.49 579.44L362.09 579.24L362.7 579.1L363.33 578.97L363.99 578.81L364.66 578.7L365.3 578.7L365.9 578.9L366.45 579.36L366.96 580.04L367.44 580.83L367.92 581.62L368.4 582.3L368.86 582.84L369.29 583.33L369.73 583.79L370.22 584.26L370.8 584.8L371.51 585.44L372.31 586.16L373.16 586.89L374.01 587.56L374.8 588.1L375.51 588.48L376.16 588.75L376.81 588.94L377.51 589.11L378.3 589.3L379.3 589.51L380.47 589.72L381.65 589.92L382.68 590.08L383.4 590.2L411 590.2Z" fill="#f0b5b3" fill-opacity="0.9"/>
<path d="M341.9 590.2L342.53 589.83L343.41 589.33L344.44 588.71L345.51 588.03L346.5 587.3L347.45 586.49L348.42 585.57L349.38 584.61L350.29 583.67L351.1 582.8L351.78 581.98L352.35 581.16L352.88 580.4L353.41 579.73L354 579.2L354.68 578.83L355.41 578.57L356.16 578.43L356.87 578.37L357.5 578.4L358.03 578.57L358.48 578.9L358.89 579.29L359.32 579.62L359.8 579.8L360.34 579.79L360.9 579.65L361.49 579.44L362.09 579.24L362.7 579.1L363.33 578.97L363.99 578.81L364.66 578.7L365.3 578.7L365.9 578.9L366.45 579.36L366.96 580.04L367.44 580.83L367.92 581.62L368.4 582.3L368.86 582.84L369.29 583.33L369.73 583.79L370.22 584.26L370.8 584.8L371.51 585.44L372.31 586.16L373.16 586.89L374.01 587.56L374.8 588.1L375.51 588.48L376.16 588.75L376.81 588.94L377.51 589.11L378.3 589.3L379.3 589.51L380.47 589.72L381.65 589.92L382.68 590.08L383.4 590.2" fill="none" stroke="#8e1535" stroke-width="1.25" stroke-linejoin="round"/>
<line x1="310.4" y1="590.5" x2="411.5" y2="590.5" stroke="#5a1a2c" stroke-width="1" shape-rendering="crispEdges"/>
<path d="M310.9 603.2L365 603.2L365.7 603.12L366.71 603.02L367.87 602.9L369.02 602.76L370 602.6L370.8 602.44L371.53 602.27L372.21 602.08L372.86 601.86L373.5 601.6L374.14 601.32L374.75 601.03L375.34 600.69L375.92 600.26L376.5 599.7L377.08 598.93L377.65 597.99L378.22 596.97L378.77 596.01L379.3 595.2L379.82 594.52L380.32 593.9L380.8 593.37L381.26 592.99L381.7 592.8L382.1 592.83L382.48 593.06L382.83 593.42L383.17 593.89L383.5 594.4L383.81 595L384.11 595.72L384.39 596.49L384.69 597.27L385 598L385.33 598.69L385.68 599.39L386.04 600.06L386.41 600.68L386.8 601.2L387.2 601.62L387.61 601.97L388.04 602.25L388.5 602.49L389 602.7L389.6 602.87L390.29 603L390.98 603.08L391.58 603.15L392 603.2L411 603.2Z" fill="#5b79b4"/>
<path d="M365 603.2L365.7 603.12L366.71 603.02L367.87 602.9L369.02 602.76L370 602.6L370.8 602.44L371.53 602.27L372.21 602.08L372.86 601.86L373.5 601.6L374.14 601.32L374.75 601.03L375.34 600.69L375.92 600.26L376.5 599.7L377.08 598.93L377.65 597.99L378.22 596.97L378.77 596.01L379.3 595.2L379.82 594.52L380.32 593.9L380.8 593.37L381.26 592.99L381.7 592.8L382.1 592.83L382.48 593.06L382.83 593.42L383.17 593.89L383.5 594.4L383.81 595L384.11 595.72L384.39 596.49L384.69 597.27L385 598L385.33 598.69L385.68 599.39L386.04 600.06L386.41 600.68L386.8 601.2L387.2 601.62L387.61 601.97L388.04 602.25L388.5 602.49L389 602.7L389.6 602.87L390.29 603L390.98 603.08L391.58 603.15L392 603.2" fill="none" stroke="#2a457e" stroke-width="1.2" stroke-linejoin="round"/>
<line x1="310.4" y1="603.5" x2="411.5" y2="603.5" stroke="#5d6c98" stroke-width="1" shape-rendering="crispEdges"/>
<path d="M310.9 610L343 610L344.28 609.63L346.11 609.12L348.22 608.52L350.37 607.86L352.3 607.2L354.04 606.51L355.77 605.75L357.43 604.97L358.98 604.21L360.4 603.5L361.63 602.83L362.69 602.16L363.66 601.54L364.61 600.97L365.6 600.5L366.66 600.1L367.74 599.77L368.81 599.51L369.84 599.34L370.8 599.3L371.66 599.38L372.43 599.57L373.17 599.86L373.94 600.24L374.8 600.7L375.77 601.27L376.82 601.96L377.91 602.71L378.98 603.48L380 604.2L380.97 604.89L381.91 605.57L382.83 606.25L383.73 606.89L384.6 607.5L385.5 608.09L386.44 608.68L387.32 609.22L388.07 609.67L388.6 610L411 610Z" fill="#f0b5b3" fill-opacity="0.9"/>
<path d="M343 610L344.28 609.63L346.11 609.12L348.22 608.52L350.37 607.86L352.3 607.2L354.04 606.51L355.77 605.75L357.43 604.97L358.98 604.21L360.4 603.5L361.63 602.83L362.69 602.16L363.66 601.54L364.61 600.97L365.6 600.5L366.66 600.1L367.74 599.77L368.81 599.51L369.84 599.34L370.8 599.3L371.66 599.38L372.43 599.57L373.17 599.86L373.94 600.24L374.8 600.7L375.77 601.27L376.82 601.96L377.91 602.71L378.98 603.48L380 604.2L380.97 604.89L381.91 605.57L382.83 606.25L383.73 606.89L384.6 607.5L385.5 608.09L386.44 608.68L387.32 609.22L388.07 609.67L388.6 610" fill="none" stroke="#8e1535" stroke-width="1.25" stroke-linejoin="round"/>
<line x1="310.4" y1="609.5" x2="411.5" y2="609.5" stroke="#5a1a2c" stroke-width="1" shape-rendering="crispEdges"/>
<path d="M310.9 624L345 624L345.97 623.96L347.34 623.9L348.94 623.83L350.55 623.76L352 623.7L353.28 623.66L354.52 623.63L355.72 623.6L356.88 623.53L358 623.4L359.1 623.19L360.17 622.92L361.19 622.61L362.14 622.3L363 622L363.72 621.73L364.32 621.46L364.85 621.19L365.39 620.91L366 620.6L366.68 620.25L367.41 619.88L368.15 619.49L368.88 619.12L369.6 618.8L370.32 618.54L371.05 618.34L371.76 618.15L372.43 617.95L373 617.7L373.44 617.38L373.78 617.01L374.08 616.63L374.4 616.28L374.8 616L375.33 615.83L375.94 615.73L376.57 615.67L377.18 615.57L377.7 615.4L378.11 615.13L378.45 614.79L378.76 614.42L379.06 614.04L379.4 613.7L379.78 613.33L380.19 612.92L380.6 612.54L381.01 612.27L381.4 612.2L381.78 612.33L382.15 612.62L382.52 613.04L382.87 613.58L383.2 614.2L383.51 614.97L383.8 615.91L384.08 616.91L384.35 617.91L384.6 618.8L384.82 619.6L385 620.37L385.19 621.08L385.41 621.73L385.7 622.3L386.12 622.78L386.64 623.19L387.19 623.53L387.67 623.8L388 624L411 624Z" fill="#5b79b4"/>
<path d="M345 624L345.97 623.96L347.34 623.9L348.94 623.83L350.55 623.76L352 623.7L353.28 623.66L354.52 623.63L355.72 623.6L356.88 623.53L358 623.4L359.1 623.19L360.17 622.92L361.19 622.61L362.14 622.3L363 622L363.72 621.73L364.32 621.46L364.85 621.19L365.39 620.91L366 620.6L366.68 620.25L367.41 619.88L368.15 619.49L368.88 619.12L369.6 618.8L370.32 618.54L371.05 618.34L371.76 618.15L372.43 617.95L373 617.7L373.44 617.38L373.78 617.01L374.08 616.63L374.4 616.28L374.8 616L375.33 615.83L375.94 615.73L376.57 615.67L377.18 615.57L377.7 615.4L378.11 615.13L378.45 614.79L378.76 614.42L379.06 614.04L379.4 613.7L379.78 613.33L380.19 612.92L380.6 612.54L381.01 612.27L381.4 612.2L381.78 612.33L382.15 612.62L382.52 613.04L382.87 613.58L383.2 614.2L383.51 614.97L383.8 615.91L384.08 616.91L384.35 617.91L384.6 618.8L384.82 619.6L385 620.37L385.19 621.08L385.41 621.73L385.7 622.3L386.12 622.78L386.64 623.19L387.19 623.53L387.67 623.8L388 624" fill="none" stroke="#2a457e" stroke-width="1.2" stroke-linejoin="round"/>
<line x1="310.4" y1="624.5" x2="411.5" y2="624.5" stroke="#5d6c98" stroke-width="1" shape-rendering="crispEdges"/>
<path d="M310.9 630.3L344.2 630.3L345.02 629.56L346.19 628.49L347.53 627.27L348.86 626.05L350 625L350.94 624.1L351.81 623.25L352.61 622.47L353.34 621.78L354 621.2L354.55 620.77L354.98 620.47L355.38 620.25L355.79 620.08L356.3 619.9L356.94 619.7L357.67 619.5L358.43 619.34L359.16 619.26L359.8 619.3L360.34 619.53L360.81 619.94L361.24 620.4L361.66 620.79L362.1 621L362.55 620.94L362.99 620.68L363.44 620.37L363.9 620.13L364.4 620.1L364.91 620.3L365.44 620.65L365.99 621.1L366.6 621.63L367.3 622.2L368.13 622.85L369.07 623.6L370.06 624.39L371.02 625.18L371.9 625.9L372.68 626.57L373.41 627.23L374.1 627.85L374.76 628.41L375.4 628.9L376.06 629.3L376.74 629.64L377.38 629.92L377.92 630.14L378.3 630.3L411 630.3Z" fill="#f0b5b3" fill-opacity="0.9"/>
<path d="M344.2 630.3L345.02 629.56L346.19 628.49L347.53 627.27L348.86 626.05L350 625L350.94 624.1L351.81 623.25L352.61 622.47L353.34 621.78L354 621.2L354.55 620.77L354.98 620.47L355.38 620.25L355.79 620.08L356.3 619.9L356.94 619.7L357.67 619.5L358.43 619.34L359.16 619.26L359.8 619.3L360.34 619.53L360.81 619.94L361.24 620.4L361.66 620.79L362.1 621L362.55 620.94L362.99 620.68L363.44 620.37L363.9 620.13L364.4 620.1L364.91 620.3L365.44 620.65L365.99 621.1L366.6 621.63L367.3 622.2L368.13 622.85L369.07 623.6L370.06 624.39L371.02 625.18L371.9 625.9L372.68 626.57L373.41 627.23L374.1 627.85L374.76 628.41L375.4 628.9L376.06 629.3L376.74 629.64L377.38 629.92L377.92 630.14L378.3 630.3" fill="none" stroke="#8e1535" stroke-width="1.25" stroke-linejoin="round"/>
<line x1="310.4" y1="630.5" x2="411.5" y2="630.5" stroke="#5a1a2c" stroke-width="1" shape-rendering="crispEdges"/>
<line x1="374.4" y1="529.2" x2="374.4" y2="630.3" stroke="#333" stroke-width="0.8" stroke-dasharray="1 1"/>
<rect x="310.4" y="529.2" width="101.1" height="101.1" fill="none" stroke="#222" stroke-width="1.1"/>
<rect x="414.5" y="529.2" width="98" height="101.1" fill="#fff"/>
<path d="M415 543.6L474 543.6L474.18 543.6L474.45 543.6L474.75 543.6L475.06 543.59L475.36 543.59L475.63 543.58L475.9 543.57L476.17 543.56L476.44 543.53L476.71 543.48L476.99 543.43L477.26 543.36L477.53 543.28L477.8 543.15L478.07 542.96L478.34 542.71L478.61 542.43L478.89 542.09L479.16 541.68L479.43 541.16L479.7 540.54L479.97 539.81L480.24 539.01L480.51 538.16L480.79 537.29L481.06 536.35L481.33 535.3L481.6 534.25L481.87 533.26L482.14 532.44L482.41 531.74L482.69 531.1L482.96 530.58L483.23 530.23L483.5 530.1L483.77 530.23L484.04 530.58L484.31 531.1L484.59 531.74L484.86 532.44L485.13 533.26L485.4 534.25L485.67 535.3L485.94 536.35L486.21 537.29L486.49 538.16L486.76 539.01L487.03 539.81L487.3 540.54L487.57 541.16L487.84 541.68L488.11 542.09L488.39 542.43L488.66 542.71L488.93 542.96L489.2 543.15L489.47 543.28L489.74 543.36L490.01 543.43L490.29 543.48L490.56 543.53L490.83 543.56L491.1 543.57L491.37 543.58L491.64 543.59L491.94 543.59L492.25 543.6L492.55 543.6L492.82 543.6L493 543.6L512 543.6Z" fill="#5b79b4"/>
<path d="M474 543.6L474.18 543.6L474.45 543.6L474.75 543.6L475.06 543.59L475.36 543.59L475.63 543.58L475.9 543.57L476.17 543.56L476.44 543.53L476.71 543.48L476.99 543.43L477.26 543.36L477.53 543.28L477.8 543.15L478.07 542.96L478.34 542.71L478.61 542.43L478.89 542.09L479.16 541.68L479.43 541.16L479.7 540.54L479.97 539.81L480.24 539.01L480.51 538.16L480.79 537.29L481.06 536.35L481.33 535.3L481.6 534.25L481.87 533.26L482.14 532.44L482.41 531.74L482.69 531.1L482.96 530.58L483.23 530.23L483.5 530.1L483.77 530.23L484.04 530.58L484.31 531.1L484.59 531.74L484.86 532.44L485.13 533.26L485.4 534.25L485.67 535.3L485.94 536.35L486.21 537.29L486.49 538.16L486.76 539.01L487.03 539.81L487.3 540.54L487.57 541.16L487.84 541.68L488.11 542.09L488.39 542.43L488.66 542.71L488.93 542.96L489.2 543.15L489.47 543.28L489.74 543.36L490.01 543.43L490.29 543.48L490.56 543.53L490.83 543.56L491.1 543.57L491.37 543.58L491.64 543.59L491.94 543.59L492.25 543.6L492.55 543.6L492.82 543.6L493 543.6" fill="none" stroke="#2a457e" stroke-width="1.2" stroke-linejoin="round"/>
<line x1="414.5" y1="543.5" x2="512.5" y2="543.5" stroke="#5d6c98" stroke-width="1" shape-rendering="crispEdges"/>
<path d="M415 550.6L474 550.6L474.18 550.6L474.45 550.59L474.75 550.59L475.06 550.58L475.36 550.56L475.63 550.53L475.9 550.51L476.17 550.48L476.44 550.42L476.71 550.33L476.99 550.21L477.26 550.08L477.53 549.92L477.8 549.71L478.07 549.42L478.34 549.06L478.61 548.64L478.89 548.16L479.16 547.61L479.43 546.99L479.7 546.27L479.97 545.44L480.24 544.57L480.51 543.68L480.79 542.82L481.06 541.96L481.33 541.04L481.6 540.16L481.87 539.38L482.14 538.77L482.41 538.33L482.69 538L482.96 537.81L483.23 537.77L483.5 537.89L483.77 538.23L484.04 538.77L484.31 539.45L484.59 540.2L484.86 540.97L485.13 541.79L485.4 542.72L485.67 543.68L485.94 544.61L486.21 545.44L486.49 546.19L486.76 546.9L487.03 547.56L487.3 548.14L487.57 548.65L487.84 549.07L488.11 549.4L488.39 549.67L488.66 549.89L488.93 550.08L489.2 550.23L489.47 550.34L489.74 550.41L490.01 550.46L490.29 550.5L490.56 550.54L490.83 550.56L491.1 550.57L491.37 550.58L491.64 550.59L491.94 550.59L492.25 550.6L492.55 550.6L492.82 550.6L493 550.6L512 550.6Z" fill="#f0b5b3" fill-opacity="0.9"/>
<path d="M474 550.6L474.18 550.6L474.45 550.59L474.75 550.59L475.06 550.58L475.36 550.56L475.63 550.53L475.9 550.51L476.17 550.48L476.44 550.42L476.71 550.33L476.99 550.21L477.26 550.08L477.53 549.92L477.8 549.71L478.07 549.42L478.34 549.06L478.61 548.64L478.89 548.16L479.16 547.61L479.43 546.99L479.7 546.27L479.97 545.44L480.24 544.57L480.51 543.68L480.79 542.82L481.06 541.96L481.33 541.04L481.6 540.16L481.87 539.38L482.14 538.77L482.41 538.33L482.69 538L482.96 537.81L483.23 537.77L483.5 537.89L483.77 538.23L484.04 538.77L484.31 539.45L484.59 540.2L484.86 540.97L485.13 541.79L485.4 542.72L485.67 543.68L485.94 544.61L486.21 545.44L486.49 546.19L486.76 546.9L487.03 547.56L487.3 548.14L487.57 548.65L487.84 549.07L488.11 549.4L488.39 549.67L488.66 549.89L488.93 550.08L489.2 550.23L489.47 550.34L489.74 550.41L490.01 550.46L490.29 550.5L490.56 550.54L490.83 550.56L491.1 550.57L491.37 550.58L491.64 550.59L491.94 550.59L492.25 550.6L492.55 550.6L492.82 550.6L493 550.6" fill="none" stroke="#8e1535" stroke-width="1.25" stroke-linejoin="round"/>
<line x1="414.5" y1="550.5" x2="512.5" y2="550.5" stroke="#5a1a2c" stroke-width="1" shape-rendering="crispEdges"/>
<path d="M415 563.2L474 563.2L474.18 563.2L474.45 563.2L474.75 563.2L475.06 563.2L475.36 563.19L475.63 563.18L475.9 563.18L476.17 563.17L476.44 563.15L476.71 563.11L476.99 563.06L477.26 563.01L477.53 562.94L477.8 562.83L478.07 562.68L478.34 562.48L478.61 562.25L478.89 561.97L479.16 561.63L479.43 561.22L479.7 560.71L479.97 560.11L480.24 559.46L480.51 558.77L480.79 558.06L481.06 557.29L481.33 556.44L481.6 555.58L481.87 554.78L482.14 554.11L482.41 553.53L482.69 553.01L482.96 552.59L483.23 552.3L483.5 552.2L483.77 552.3L484.04 552.59L484.31 553.01L484.59 553.53L484.86 554.11L485.13 554.78L485.4 555.58L485.67 556.44L485.94 557.29L486.21 558.06L486.49 558.77L486.76 559.46L487.03 560.11L487.3 560.71L487.57 561.22L487.84 561.63L488.11 561.97L488.39 562.25L488.66 562.48L488.93 562.68L489.2 562.83L489.47 562.94L489.74 563.01L490.01 563.06L490.29 563.11L490.56 563.15L490.83 563.17L491.1 563.18L491.37 563.18L491.64 563.19L491.94 563.2L492.25 563.2L492.55 563.2L492.82 563.2L493 563.2L512 563.2Z" fill="#5b79b4"/>
<path d="M474 563.2L474.18 563.2L474.45 563.2L474.75 563.2L475.06 563.2L475.36 563.19L475.63 563.18L475.9 563.18L476.17 563.17L476.44 563.15L476.71 563.11L476.99 563.06L477.26 563.01L477.53 562.94L477.8 562.83L478.07 562.68L478.34 562.48L478.61 562.25L478.89 561.97L479.16 561.63L479.43 561.22L479.7 560.71L479.97 560.11L480.24 559.46L480.51 558.77L480.79 558.06L481.06 557.29L481.33 556.44L481.6 555.58L481.87 554.78L482.14 554.11L482.41 553.53L482.69 553.01L482.96 552.59L483.23 552.3L483.5 552.2L483.77 552.3L484.04 552.59L484.31 553.01L484.59 553.53L484.86 554.11L485.13 554.78L485.4 555.58L485.67 556.44L485.94 557.29L486.21 558.06L486.49 558.77L486.76 559.46L487.03 560.11L487.3 560.71L487.57 561.22L487.84 561.63L488.11 561.97L488.39 562.25L488.66 562.48L488.93 562.68L489.2 562.83L489.47 562.94L489.74 563.01L490.01 563.06L490.29 563.11L490.56 563.15L490.83 563.17L491.1 563.18L491.37 563.18L491.64 563.19L491.94 563.2L492.25 563.2L492.55 563.2L492.82 563.2L493 563.2" fill="none" stroke="#2a457e" stroke-width="1.2" stroke-linejoin="round"/>
<line x1="414.5" y1="563.5" x2="512.5" y2="563.5" stroke="#5d6c98" stroke-width="1" shape-rendering="crispEdges"/>
<path d="M415 569.8L443.9 569.8L444.54 569.32L445.46 568.65L446.52 567.87L447.58 567.06L448.5 566.3L449.29 565.58L450.04 564.83L450.74 564.09L451.39 563.4L452 562.8L452.54 562.29L453.01 561.84L453.44 561.46L453.86 561.11L454.3 560.8L454.76 560.51L455.22 560.25L455.68 560.04L456.14 559.88L456.6 559.8L457.06 559.85L457.52 560.02L457.98 560.22L458.44 560.38L458.9 560.4L459.38 560.24L459.87 559.96L460.36 559.62L460.81 559.31L461.2 559.1L461.5 558.98L461.74 558.91L461.94 558.88L462.15 558.91L462.4 559L462.71 559.15L463.04 559.35L463.4 559.6L463.75 559.92L464.1 560.3L464.43 560.79L464.75 561.39L465.08 562.02L465.42 562.62L465.8 563.1L466.22 563.45L466.68 563.72L467.15 563.93L467.63 564.12L468.1 564.3L468.55 564.45L468.99 564.55L469.44 564.64L469.9 564.78L470.4 565L470.95 565.33L471.55 565.74L472.15 566.2L472.75 566.66L473.3 567.1L473.73 567.53L474.07 567.97L474.41 568.4L474.89 568.78L475.6 569.1L476.72 569.33L478.17 569.51L479.7 569.63L481.06 569.73L482 569.8L512 569.8Z" fill="#f0b5b3" fill-opacity="0.9"/>
<path d="M443.9 569.8L444.54 569.32L445.46 568.65L446.52 567.87L447.58 567.06L448.5 566.3L449.29 565.58L450.04 564.83L450.74 564.09L451.39 563.4L452 562.8L452.54 562.29L453.01 561.84L453.44 561.46L453.86 561.11L454.3 560.8L454.76 560.51L455.22 560.25L455.68 560.04L456.14 559.88L456.6 559.8L457.06 559.85L457.52 560.02L457.98 560.22L458.44 560.38L458.9 560.4L459.38 560.24L459.87 559.96L460.36 559.62L460.81 559.31L461.2 559.1L461.5 558.98L461.74 558.91L461.94 558.88L462.15 558.91L462.4 559L462.71 559.15L463.04 559.35L463.4 559.6L463.75 559.92L464.1 560.3L464.43 560.79L464.75 561.39L465.08 562.02L465.42 562.62L465.8 563.1L466.22 563.45L466.68 563.72L467.15 563.93L467.63 564.12L468.1 564.3L468.55 564.45L468.99 564.55L469.44 564.64L469.9 564.78L470.4 565L470.95 565.33L471.55 565.74L472.15 566.2L472.75 566.66L473.3 567.1L473.73 567.53L474.07 567.97L474.41 568.4L474.89 568.78L475.6 569.1L476.72 569.33L478.17 569.51L479.7 569.63L481.06 569.73L482 569.8" fill="none" stroke="#8e1535" stroke-width="1.25" stroke-linejoin="round"/>
<line x1="414.5" y1="569.5" x2="512.5" y2="569.5" stroke="#5a1a2c" stroke-width="1" shape-rendering="crispEdges"/>
<path d="M415 583L472 583L472.41 582.95L472.98 582.89L473.66 582.8L474.35 582.64L475 582.4L475.61 582.06L476.22 581.65L476.84 581.16L477.43 580.61L478 580L478.52 579.31L479 578.54L479.47 577.71L479.96 576.86L480.5 576L481.12 575.02L481.8 573.9L482.49 572.82L483.14 571.96L483.7 571.5L484.15 571.51L484.52 571.88L484.85 572.48L485.16 573.23L485.5 574L485.86 574.87L486.22 575.92L486.59 577.02L486.95 578.09L487.3 579L487.64 579.76L487.97 580.44L488.3 581.04L488.64 581.56L489 582L489.41 582.34L489.87 582.59L490.33 582.77L490.72 582.9L491 583L512 583Z" fill="#5b79b4"/>
<path d="M472 583L472.41 582.95L472.98 582.89L473.66 582.8L474.35 582.64L475 582.4L475.61 582.06L476.22 581.65L476.84 581.16L477.43 580.61L478 580L478.52 579.31L479 578.54L479.47 577.71L479.96 576.86L480.5 576L481.12 575.02L481.8 573.9L482.49 572.82L483.14 571.96L483.7 571.5L484.15 571.51L484.52 571.88L484.85 572.48L485.16 573.23L485.5 574L485.86 574.87L486.22 575.92L486.59 577.02L486.95 578.09L487.3 579L487.64 579.76L487.97 580.44L488.3 581.04L488.64 581.56L489 582L489.41 582.34L489.87 582.59L490.33 582.77L490.72 582.9L491 583" fill="none" stroke="#2a457e" stroke-width="1.2" stroke-linejoin="round"/>
<line x1="414.5" y1="583.5" x2="512.5" y2="583.5" stroke="#5d6c98" stroke-width="1" shape-rendering="crispEdges"/>
<path d="M415 590.2L448.5 590.2L449.13 589.73L450.03 589.07L451.08 588.29L452.14 587.51L453.1 586.8L453.96 586.17L454.81 585.57L455.63 584.98L456.43 584.39L457.2 583.8L457.92 583.19L458.59 582.56L459.24 581.94L459.9 581.34L460.6 580.8L461.37 580.26L462.2 579.71L463.03 579.22L463.81 578.86L464.5 578.7L465.05 578.85L465.5 579.26L465.9 579.77L466.31 580.24L466.8 580.5L467.39 580.47L468.05 580.25L468.72 579.97L469.36 579.78L469.9 579.8L470.32 580.09L470.65 580.55L470.94 581.11L471.24 581.72L471.6 582.3L472.01 582.89L472.45 583.54L472.91 584.18L473.39 584.79L473.9 585.3L474.44 585.69L475.02 585.99L475.61 586.25L476.21 586.5L476.8 586.8L477.37 587.14L477.94 587.51L478.5 587.88L479.09 588.25L479.7 588.6L480.4 588.96L481.19 589.33L481.96 589.68L482.63 589.99L483.1 590.2L512 590.2Z" fill="#f0b5b3" fill-opacity="0.9"/>
<path d="M448.5 590.2L449.13 589.73L450.03 589.07L451.08 588.29L452.14 587.51L453.1 586.8L453.96 586.17L454.81 585.57L455.63 584.98L456.43 584.39L457.2 583.8L457.92 583.19L458.59 582.56L459.24 581.94L459.9 581.34L460.6 580.8L461.37 580.26L462.2 579.71L463.03 579.22L463.81 578.86L464.5 578.7L465.05 578.85L465.5 579.26L465.9 579.77L466.31 580.24L466.8 580.5L467.39 580.47L468.05 580.25L468.72 579.97L469.36 579.78L469.9 579.8L470.32 580.09L470.65 580.55L470.94 581.11L471.24 581.72L471.6 582.3L472.01 582.89L472.45 583.54L472.91 584.18L473.39 584.79L473.9 585.3L474.44 585.69L475.02 585.99L475.61 586.25L476.21 586.5L476.8 586.8L477.37 587.14L477.94 587.51L478.5 587.88L479.09 588.25L479.7 588.6L480.4 588.96L481.19 589.33L481.96 589.68L482.63 589.99L483.1 590.2" fill="none" stroke="#8e1535" stroke-width="1.25" stroke-linejoin="round"/>
<line x1="414.5" y1="590.5" x2="512.5" y2="590.5" stroke="#5a1a2c" stroke-width="1" shape-rendering="crispEdges"/>
<path d="M415 603.2L473 603.2L473.42 603.14L474.01 603.07L474.69 602.97L475.38 602.82L476 602.6L476.53 602.33L477.04 602.02L477.52 601.64L478.01 601.18L478.5 600.6L479 599.86L479.49 598.96L479.99 598L480.49 597.05L481 596.2L481.54 595.36L482.1 594.49L482.66 593.69L483.2 593.09L483.7 592.8L484.15 592.88L484.57 593.24L484.96 593.81L485.34 594.49L485.7 595.2L486.04 595.99L486.36 596.94L486.67 597.93L486.98 598.88L487.3 599.7L487.63 600.39L487.96 601L488.29 601.54L488.64 602.01L489 602.4L489.41 602.69L489.87 602.9L490.33 603.03L490.72 603.12L491 603.2L512 603.2Z" fill="#5b79b4"/>
<path d="M473 603.2L473.42 603.14L474.01 603.07L474.69 602.97L475.38 602.82L476 602.6L476.53 602.33L477.04 602.02L477.52 601.64L478.01 601.18L478.5 600.6L479 599.86L479.49 598.96L479.99 598L480.49 597.05L481 596.2L481.54 595.36L482.1 594.49L482.66 593.69L483.2 593.09L483.7 592.8L484.15 592.88L484.57 593.24L484.96 593.81L485.34 594.49L485.7 595.2L486.04 595.99L486.36 596.94L486.67 597.93L486.98 598.88L487.3 599.7L487.63 600.39L487.96 601L488.29 601.54L488.64 602.01L489 602.4L489.41 602.69L489.87 602.9L490.33 603.03L490.72 603.12L491 603.2" fill="none" stroke="#2a457e" stroke-width="1.2" stroke-linejoin="round"/>
<line x1="414.5" y1="603.5" x2="512.5" y2="603.5" stroke="#5d6c98" stroke-width="1" shape-rendering="crispEdges"/>
<path d="M415 610L456 610L456.55 609.71L457.32 609.3L458.23 608.82L459.18 608.27L460.1 607.7L461.01 607.07L461.96 606.36L462.92 605.62L463.85 604.89L464.7 604.2L465.47 603.55L466.18 602.91L466.86 602.3L467.49 601.72L468.1 601.2L468.68 600.7L469.22 600.22L469.73 599.79L470.22 599.47L470.7 599.3L471.13 599.32L471.51 599.5L471.89 599.78L472.3 600.1L472.8 600.4L473.4 600.68L474.09 600.98L474.81 601.31L475.53 601.65L476.2 602L476.79 602.36L477.34 602.71L477.88 603.09L478.46 603.52L479.1 604L479.83 604.57L480.62 605.21L481.44 605.89L482.28 606.57L483.1 607.2L483.98 607.83L484.93 608.48L485.85 609.1L486.64 609.63L487.2 610L512 610Z" fill="#f0b5b3" fill-opacity="0.9"/>
<path d="M456 610L456.55 609.71L457.32 609.3L458.23 608.82L459.18 608.27L460.1 607.7L461.01 607.07L461.96 606.36L462.92 605.62L463.85 604.89L464.7 604.2L465.47 603.55L466.18 602.91L466.86 602.3L467.49 601.72L468.1 601.2L468.68 600.7L469.22 600.22L469.73 599.79L470.22 599.47L470.7 599.3L471.13 599.32L471.51 599.5L471.89 599.78L472.3 600.1L472.8 600.4L473.4 600.68L474.09 600.98L474.81 601.31L475.53 601.65L476.2 602L476.79 602.36L477.34 602.71L477.88 603.09L478.46 603.52L479.1 604L479.83 604.57L480.62 605.21L481.44 605.89L482.28 606.57L483.1 607.2L483.98 607.83L484.93 608.48L485.85 609.1L486.64 609.63L487.2 610" fill="none" stroke="#8e1535" stroke-width="1.25" stroke-linejoin="round"/>
<line x1="414.5" y1="609.5" x2="512.5" y2="609.5" stroke="#5a1a2c" stroke-width="1" shape-rendering="crispEdges"/>
<path d="M415 624L470.4 624L470.89 623.74L471.58 623.37L472.38 622.93L473.18 622.46L473.9 622L474.53 621.54L475.13 621.06L475.71 620.56L476.27 620.04L476.8 619.5L477.3 618.94L477.76 618.35L478.21 617.75L478.65 617.13L479.1 616.5L479.57 615.82L480.05 615.09L480.52 614.37L480.98 613.72L481.4 613.2L481.78 612.82L482.12 612.52L482.44 612.32L482.76 612.22L483.1 612.2L483.46 612.26L483.82 612.4L484.18 612.64L484.54 613L484.9 613.5L485.25 614.2L485.59 615.07L485.92 616.05L486.26 617.05L486.6 618L486.93 618.95L487.25 619.94L487.58 620.92L487.92 621.79L488.3 622.5L488.76 623.02L489.29 623.39L489.82 623.65L490.28 623.84L490.6 624L512 624Z" fill="#5b79b4"/>
<path d="M470.4 624L470.89 623.74L471.58 623.37L472.38 622.93L473.18 622.46L473.9 622L474.53 621.54L475.13 621.06L475.71 620.56L476.27 620.04L476.8 619.5L477.3 618.94L477.76 618.35L478.21 617.75L478.65 617.13L479.1 616.5L479.57 615.82L480.05 615.09L480.52 614.37L480.98 613.72L481.4 613.2L481.78 612.82L482.12 612.52L482.44 612.32L482.76 612.22L483.1 612.2L483.46 612.26L483.82 612.4L484.18 612.64L484.54 613L484.9 613.5L485.25 614.2L485.59 615.07L485.92 616.05L486.26 617.05L486.6 618L486.93 618.95L487.25 619.94L487.58 620.92L487.92 621.79L488.3 622.5L488.76 623.02L489.29 623.39L489.82 623.65L490.28 623.84L490.6 624" fill="none" stroke="#2a457e" stroke-width="1.2" stroke-linejoin="round"/>
<line x1="414.5" y1="624.5" x2="512.5" y2="624.5" stroke="#5d6c98" stroke-width="1" shape-rendering="crispEdges"/>
<path d="M415 630.3L448 630.3L448.54 629.85L449.31 629.23L450.21 628.49L451.14 627.73L452 627L452.8 626.3L453.6 625.57L454.39 624.84L455.19 624.14L456 623.5L456.83 622.91L457.69 622.36L458.54 621.85L459.36 621.39L460.1 621L460.76 620.64L461.35 620.31L461.9 620.04L462.45 619.89L463 619.9L463.56 620.12L464.12 620.54L464.68 621.05L465.24 621.57L465.8 622L466.37 622.31L466.95 622.57L467.54 622.82L468.12 623.11L468.7 623.5L469.28 624.01L469.86 624.62L470.44 625.26L471.02 625.91L471.6 626.5L472.18 627.05L472.76 627.59L473.34 628.11L473.92 628.58L474.5 629L475.13 629.36L475.8 629.67L476.45 629.93L477.01 630.14L477.4 630.3L512 630.3Z" fill="#f0b5b3" fill-opacity="0.9"/>
<path d="M448 630.3L448.54 629.85L449.31 629.23L450.21 628.49L451.14 627.73L452 627L452.8 626.3L453.6 625.57L454.39 624.84L455.19 624.14L456 623.5L456.83 622.91L457.69 622.36L458.54 621.85L459.36 621.39L460.1 621L460.76 620.64L461.35 620.31L461.9 620.04L462.45 619.89L463 619.9L463.56 620.12L464.12 620.54L464.68 621.05L465.24 621.57L465.8 622L466.37 622.31L466.95 622.57L467.54 622.82L468.12 623.11L468.7 623.5L469.28 624.01L469.86 624.62L470.44 625.26L471.02 625.91L471.6 626.5L472.18 627.05L472.76 627.59L473.34 628.11L473.92 628.58L474.5 629L475.13 629.36L475.8 629.67L476.45 629.93L477.01 630.14L477.4 630.3" fill="none" stroke="#8e1535" stroke-width="1.25" stroke-linejoin="round"/>
<line x1="414.5" y1="630.5" x2="512.5" y2="630.5" stroke="#5a1a2c" stroke-width="1" shape-rendering="crispEdges"/>
<line x1="476.2" y1="529.2" x2="476.2" y2="630.3" stroke="#333" stroke-width="0.8" stroke-dasharray="1 1"/>
<rect x="414.5" y="529.2" width="98" height="101.1" fill="none" stroke="#222" stroke-width="1.1"/>
<line x1="372.5" y1="639.5" x2="400.6" y2="639.5" stroke="#222" stroke-width="1" shape-rendering="crispEdges"/>
<text x="403.3" y="641.9" font-size="9.5" fill="#1e1e1e" stroke="#1e1e1e" stroke-width="0.18" textLength="18.8" lengthAdjust="spacingAndGlyphs">CFSE</text>
<line x1="425" y1="639.5" x2="444.6" y2="639.5" stroke="#222" stroke-width="1" shape-rendering="crispEdges"/>
<path d="M450.6 639.5L444.1 636.9L444.1 642.1Z" fill="#222"/>
<rect x="354.8" y="652.1" width="12.7" height="5.7" fill="#a8032c"/>
<text x="371" y="657.1" font-size="7.6" fill="#1e1e1e" stroke="#1e1e1e" stroke-width="0.18" textLength="48.5" lengthAdjust="spacingAndGlyphs">SLAMF7-CAR</text>
<rect x="427.6" y="652.1" width="12.7" height="5.7" fill="#2d4a80"/>
<text x="443.2" y="657.1" font-size="7.6" fill="#1e1e1e" stroke="#1e1e1e" stroke-width="0.18" textLength="22.7" lengthAdjust="spacingAndGlyphs">control</text>
<rect x="0" y="0" width="520" height="1.5" fill="#000"/>
<rect x="0" y="0" width="1.3" height="666" fill="#000"/>
<rect x="518.3" y="0" width="1.7" height="666" fill="#000"/>
<rect x="0" y="664" width="520" height="2" fill="#000"/>
</svg></body></html>
